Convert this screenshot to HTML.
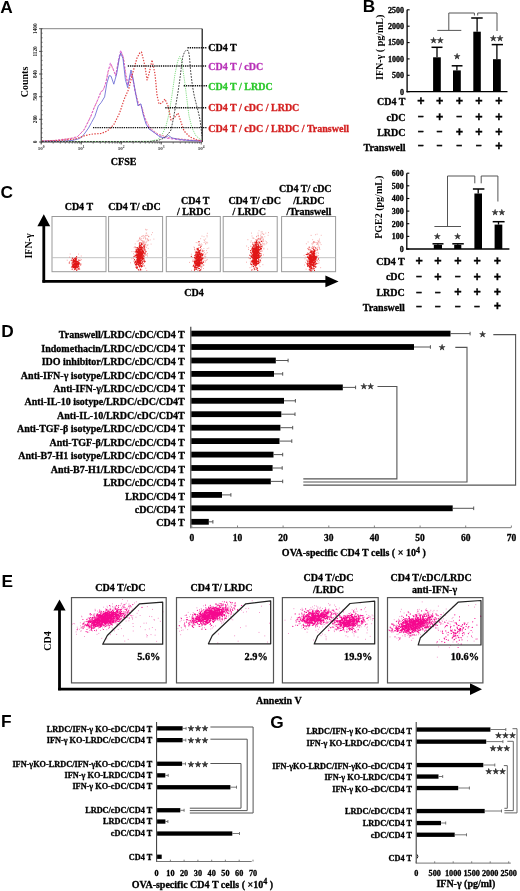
<!DOCTYPE html>
<html><head><meta charset="utf-8"><title>Figure</title>
<style>html,body{margin:0;padding:0;background:#fff;width:520px;height:891px;overflow:hidden}svg{display:block}</style>
</head><body><svg width="520" height="891" viewBox="0 0 520 891"><rect width="520" height="891" fill="#fff"/><text x="0.3" y="12.7" font-size="17.3" text-anchor="start" fill="#000" style="font-family:'Liberation Sans',sans-serif;font-weight:bold" >A</text>
<text x="362.8" y="12.4" font-size="17.3" text-anchor="start" fill="#000" style="font-family:'Liberation Sans',sans-serif;font-weight:bold" >B</text>
<text x="0.6" y="197.9" font-size="17.3" text-anchor="start" fill="#000" style="font-family:'Liberation Sans',sans-serif;font-weight:bold" >C</text>
<text x="1.2" y="337.4" font-size="17.3" text-anchor="start" fill="#000" style="font-family:'Liberation Sans',sans-serif;font-weight:bold" >D</text>
<text x="1.4" y="586.8" font-size="17.3" text-anchor="start" fill="#000" style="font-family:'Liberation Sans',sans-serif;font-weight:bold" >E</text>
<text x="1" y="727.2" font-size="17.3" text-anchor="start" fill="#000" style="font-family:'Liberation Sans',sans-serif;font-weight:bold" >F</text>
<text x="270.2" y="727.8" font-size="17.3" text-anchor="start" fill="#000" style="font-family:'Liberation Sans',sans-serif;font-weight:bold" >G</text>
<line x1="41.2" y1="28.7" x2="202.2" y2="28.7" stroke="#666" stroke-width="0.8" />
<line x1="202.2" y1="28.7" x2="202.2" y2="142" stroke="#111" stroke-width="1.2" />
<line x1="41.2" y1="28.7" x2="41.2" y2="142" stroke="#222" stroke-width="1" />
<line x1="41.2" y1="142" x2="202.2" y2="142" stroke="#333" stroke-width="1" />
<line x1="39" y1="142" x2="41.2" y2="142" stroke="#333" stroke-width="0.8" />
<text transform="translate(37.2,142) rotate(-90)" font-size="5.2" text-anchor="middle" fill="#222" style="font-family:'Liberation Serif',serif;font-weight:bold">0</text>
<line x1="39" y1="119.3" x2="41.2" y2="119.3" stroke="#333" stroke-width="0.8" />
<text transform="translate(37.2,119.3) rotate(-90)" font-size="5.2" text-anchor="middle" fill="#222" style="font-family:'Liberation Serif',serif;font-weight:bold">280</text>
<line x1="39" y1="96.7" x2="41.2" y2="96.7" stroke="#333" stroke-width="0.8" />
<text transform="translate(37.2,96.7) rotate(-90)" font-size="5.2" text-anchor="middle" fill="#222" style="font-family:'Liberation Serif',serif;font-weight:bold">560</text>
<line x1="39" y1="74" x2="41.2" y2="74" stroke="#333" stroke-width="0.8" />
<text transform="translate(37.2,74) rotate(-90)" font-size="5.2" text-anchor="middle" fill="#222" style="font-family:'Liberation Serif',serif;font-weight:bold">840</text>
<line x1="39" y1="51.4" x2="41.2" y2="51.4" stroke="#333" stroke-width="0.8" />
<text transform="translate(37.2,51.4) rotate(-90)" font-size="5.2" text-anchor="middle" fill="#222" style="font-family:'Liberation Serif',serif;font-weight:bold">1120</text>
<line x1="39" y1="28.7" x2="41.2" y2="28.7" stroke="#333" stroke-width="0.8" />
<text transform="translate(37.2,28.7) rotate(-90)" font-size="5.2" text-anchor="middle" fill="#222" style="font-family:'Liberation Serif',serif;font-weight:bold">1400</text>
<line x1="41.2" y1="142" x2="42.5" y2="142" stroke="#444" stroke-width="0.8" />
<line x1="41.2" y1="137.5" x2="42.5" y2="137.5" stroke="#444" stroke-width="0.8" />
<line x1="41.2" y1="132.9" x2="42.5" y2="132.9" stroke="#444" stroke-width="0.8" />
<line x1="41.2" y1="128.4" x2="42.5" y2="128.4" stroke="#444" stroke-width="0.8" />
<line x1="41.2" y1="123.9" x2="42.5" y2="123.9" stroke="#444" stroke-width="0.8" />
<line x1="41.2" y1="119.3" x2="42.5" y2="119.3" stroke="#444" stroke-width="0.8" />
<line x1="41.2" y1="114.8" x2="42.5" y2="114.8" stroke="#444" stroke-width="0.8" />
<line x1="41.2" y1="110.3" x2="42.5" y2="110.3" stroke="#444" stroke-width="0.8" />
<line x1="41.2" y1="105.7" x2="42.5" y2="105.7" stroke="#444" stroke-width="0.8" />
<line x1="41.2" y1="101.2" x2="42.5" y2="101.2" stroke="#444" stroke-width="0.8" />
<line x1="41.2" y1="96.7" x2="42.5" y2="96.7" stroke="#444" stroke-width="0.8" />
<line x1="41.2" y1="92.1" x2="42.5" y2="92.1" stroke="#444" stroke-width="0.8" />
<line x1="41.2" y1="87.6" x2="42.5" y2="87.6" stroke="#444" stroke-width="0.8" />
<line x1="41.2" y1="83.1" x2="42.5" y2="83.1" stroke="#444" stroke-width="0.8" />
<line x1="41.2" y1="78.6" x2="42.5" y2="78.6" stroke="#444" stroke-width="0.8" />
<line x1="41.2" y1="74" x2="42.5" y2="74" stroke="#444" stroke-width="0.8" />
<line x1="41.2" y1="69.5" x2="42.5" y2="69.5" stroke="#444" stroke-width="0.8" />
<line x1="41.2" y1="65" x2="42.5" y2="65" stroke="#444" stroke-width="0.8" />
<line x1="41.2" y1="60.4" x2="42.5" y2="60.4" stroke="#444" stroke-width="0.8" />
<line x1="41.2" y1="55.9" x2="42.5" y2="55.9" stroke="#444" stroke-width="0.8" />
<line x1="41.2" y1="51.4" x2="42.5" y2="51.4" stroke="#444" stroke-width="0.8" />
<line x1="41.2" y1="46.8" x2="42.5" y2="46.8" stroke="#444" stroke-width="0.8" />
<line x1="41.2" y1="42.3" x2="42.5" y2="42.3" stroke="#444" stroke-width="0.8" />
<line x1="41.2" y1="37.8" x2="42.5" y2="37.8" stroke="#444" stroke-width="0.8" />
<line x1="41.2" y1="33.2" x2="42.5" y2="33.2" stroke="#444" stroke-width="0.8" />
<line x1="41.2" y1="28.7" x2="42.5" y2="28.7" stroke="#444" stroke-width="0.8" />
<line x1="41.2" y1="142" x2="41.2" y2="143.6" stroke="#444" stroke-width="0.7" />
<line x1="53.2" y1="142" x2="53.2" y2="143.6" stroke="#444" stroke-width="0.7" />
<line x1="60.3" y1="142" x2="60.3" y2="143.6" stroke="#444" stroke-width="0.7" />
<line x1="65.3" y1="142" x2="65.3" y2="143.6" stroke="#444" stroke-width="0.7" />
<line x1="69.2" y1="142" x2="69.2" y2="143.6" stroke="#444" stroke-width="0.7" />
<line x1="72.3" y1="142" x2="72.3" y2="143.6" stroke="#444" stroke-width="0.7" />
<line x1="75" y1="142" x2="75" y2="143.6" stroke="#444" stroke-width="0.7" />
<line x1="77.3" y1="142" x2="77.3" y2="143.6" stroke="#444" stroke-width="0.7" />
<line x1="79.4" y1="142" x2="79.4" y2="143.6" stroke="#444" stroke-width="0.7" />
<line x1="81.2" y1="142" x2="81.2" y2="143.6" stroke="#444" stroke-width="0.7" />
<line x1="93.2" y1="142" x2="93.2" y2="143.6" stroke="#444" stroke-width="0.7" />
<line x1="100.3" y1="142" x2="100.3" y2="143.6" stroke="#444" stroke-width="0.7" />
<line x1="105.3" y1="142" x2="105.3" y2="143.6" stroke="#444" stroke-width="0.7" />
<line x1="109.2" y1="142" x2="109.2" y2="143.6" stroke="#444" stroke-width="0.7" />
<line x1="112.3" y1="142" x2="112.3" y2="143.6" stroke="#444" stroke-width="0.7" />
<line x1="115" y1="142" x2="115" y2="143.6" stroke="#444" stroke-width="0.7" />
<line x1="117.3" y1="142" x2="117.3" y2="143.6" stroke="#444" stroke-width="0.7" />
<line x1="119.4" y1="142" x2="119.4" y2="143.6" stroke="#444" stroke-width="0.7" />
<line x1="121.2" y1="142" x2="121.2" y2="143.6" stroke="#444" stroke-width="0.7" />
<line x1="133.2" y1="142" x2="133.2" y2="143.6" stroke="#444" stroke-width="0.7" />
<line x1="140.3" y1="142" x2="140.3" y2="143.6" stroke="#444" stroke-width="0.7" />
<line x1="145.3" y1="142" x2="145.3" y2="143.6" stroke="#444" stroke-width="0.7" />
<line x1="149.2" y1="142" x2="149.2" y2="143.6" stroke="#444" stroke-width="0.7" />
<line x1="152.3" y1="142" x2="152.3" y2="143.6" stroke="#444" stroke-width="0.7" />
<line x1="155" y1="142" x2="155" y2="143.6" stroke="#444" stroke-width="0.7" />
<line x1="157.3" y1="142" x2="157.3" y2="143.6" stroke="#444" stroke-width="0.7" />
<line x1="159.4" y1="142" x2="159.4" y2="143.6" stroke="#444" stroke-width="0.7" />
<line x1="161.2" y1="142" x2="161.2" y2="143.6" stroke="#444" stroke-width="0.7" />
<line x1="173.2" y1="142" x2="173.2" y2="143.6" stroke="#444" stroke-width="0.7" />
<line x1="180.3" y1="142" x2="180.3" y2="143.6" stroke="#444" stroke-width="0.7" />
<line x1="185.3" y1="142" x2="185.3" y2="143.6" stroke="#444" stroke-width="0.7" />
<line x1="189.2" y1="142" x2="189.2" y2="143.6" stroke="#444" stroke-width="0.7" />
<line x1="192.3" y1="142" x2="192.3" y2="143.6" stroke="#444" stroke-width="0.7" />
<line x1="195" y1="142" x2="195" y2="143.6" stroke="#444" stroke-width="0.7" />
<line x1="197.3" y1="142" x2="197.3" y2="143.6" stroke="#444" stroke-width="0.7" />
<line x1="199.4" y1="142" x2="199.4" y2="143.6" stroke="#444" stroke-width="0.7" />
<line x1="41.2" y1="142" x2="41.2" y2="144.5" stroke="#333" stroke-width="0.8" />
<text x="41.2" y="150.4" font-size="5" text-anchor="middle" fill="#333" style="font-family:'Liberation Serif',serif;font-weight:bold">10<tspan font-size="3.6" dy="-2">0</tspan></text>
<line x1="81.2" y1="142" x2="81.2" y2="144.5" stroke="#333" stroke-width="0.8" />
<text x="81.2" y="150.4" font-size="5" text-anchor="middle" fill="#333" style="font-family:'Liberation Serif',serif;font-weight:bold">10<tspan font-size="3.6" dy="-2">1</tspan></text>
<line x1="121.2" y1="142" x2="121.2" y2="144.5" stroke="#333" stroke-width="0.8" />
<text x="121.2" y="150.4" font-size="5" text-anchor="middle" fill="#333" style="font-family:'Liberation Serif',serif;font-weight:bold">10<tspan font-size="3.6" dy="-2">2</tspan></text>
<line x1="161.2" y1="142" x2="161.2" y2="144.5" stroke="#333" stroke-width="0.8" />
<text x="161.2" y="150.4" font-size="5" text-anchor="middle" fill="#333" style="font-family:'Liberation Serif',serif;font-weight:bold">10<tspan font-size="3.6" dy="-2">3</tspan></text>
<line x1="201.2" y1="142" x2="201.2" y2="144.5" stroke="#333" stroke-width="0.8" />
<text x="201.2" y="150.4" font-size="5" text-anchor="middle" fill="#333" style="font-family:'Liberation Serif',serif;font-weight:bold">10<tspan font-size="3.6" dy="-2">4</tspan></text>
<text x="123.6" y="164.5" font-size="10" text-anchor="middle" fill="#000" style="font-family:'Liberation Serif',serif;font-weight:bold"  stroke="#000" stroke-width="0.3">CFSE</text>
<text transform="translate(28.3,82) rotate(-90)" font-size="10" text-anchor="middle" style="font-family:'Liberation Serif',serif;font-weight:bold">Counts</text>
<path d="M42 141.5 L120 141.5 L150 141.3 L158 139.5 L163 133 L166 126 L169 114 L172 95 L175 74 L177.5 62 L179.6 56.5 L181.5 60 L183 70 L185 84 L187 100 L189 116 L192 128 L196 136 L202 140.5" stroke="#86e086" stroke-width="1.0" fill="none" stroke-dasharray="1.2 1.0" stroke-linejoin="round"/>
<path d="M42 141.2 L55 140.3 L65 139 L72 138 L77.5 136.5 L81 133 L84.5 129 L88 122 L91.5 114.5 L94.5 107 L97.5 100.5 L101.5 91 L104 88.5 L106.5 80 L108.7 70 L111 64.5 L113.8 71 L116 75 L119 59 L121.3 52 L123.6 58 L126 75 L128.3 84 L131.5 75 L133.5 82 L136 94 L139 105 L142 107 L145 118 L150 128 L158 134 L170 138 L202 141" stroke="#ec7a90" stroke-width="0.9" fill="none" stroke-dasharray="2 1.2" stroke-linejoin="round"/>
<path d="M42 141.2 L55 140.5 L65 139.5 L72 138.5 L76.9 137.3 L80 134 L83.8 130.4 L87 124 L90.8 116.5 L93.5 109 L96.5 102.7 L100.6 92.3 L103.4 90 L105.8 83 L108 71.5 L110.4 62.9 L113.3 69.2 L115.6 76.1 L118.4 60 L120.7 50.2 L123 56.5 L125.4 73.8 L127.7 85.4 L131 73 L133 80 L135 92 L138 104 L141 105 L143 113 L146 122 L150 129 L156 134 L165 138 L180 140 L202 141" stroke="#d75cd7" stroke-width="0.9" fill="none" stroke-dasharray="2.5 1.5" stroke-linejoin="round"/>
<path d="M42 141.2 L60 141.2 L72 140.5 L78 139 L81.5 137.3 L85 133 L88.5 128 L91.5 122.5 L94.8 116.5 L98.3 106 L101.1 102.7 L104.6 96.9 L106.9 83 L109.2 75.6 L111 76.1 L113.8 84.2 L116.7 73.8 L119.6 56.5 L120.7 53 L123 58.8 L125.4 79.6 L127.7 87.7 L129.5 77 L131 70 L133 78 L135 90 L138 106 L140 104 L141 104 L143 114 L146 124 L149 129 L155 133 L160 137 L164.8 137.8 L168.5 135.5 L172 138 L180 139.5 L190 140.5 L202 141" stroke="#6060d0" stroke-width="0.8" fill="none" stroke-linejoin="round"/>
<path d="M42 141.2 L60 140.5 L75 139 L80 137.5 L85 135.5 L93 134 L101 133.5 L105 132 L108 130.4 L113.8 124.6 L119.6 113 L124.2 99.2 L128.8 88.8 L133 72 L137 58 L140 52.5 L141.5 52 L145 66 L147 80 L149 74 L152 60 L155 74 L157 95 L159 104 L162 103 L165 99 L168 106 L171 120 L174 118 L178 113 L181 122 L184 131 L190 137 L196 139.5 L202 141" stroke="#e04040" stroke-width="1.2" fill="none" stroke-dasharray="1.4 1.4" stroke-linejoin="round"/>
<path d="M42 141.5 L150 141.5 L158 140.5 L163 138.5 L166 136 L169 133 L171 130 L173.5 118 L176 104 L178 92 L179.5 82 L181 70 L182.7 57 L184.5 52 L186.5 49.8 L188.5 51 L189.5 57 L190.7 72 L192.6 87 L194.4 96.7 L196.9 106.6 L198.8 114 L200 120 L201.2 129 L202 136" stroke="#333" stroke-width="0.9" fill="none" stroke-dasharray="1.8 1.2" stroke-linejoin="round"/>
<line x1="187.5" y1="47.8" x2="207" y2="47.8" stroke="#111" stroke-width="1.4" stroke-dasharray="1.3 0.9"/>
<line x1="127.8" y1="66" x2="207" y2="66" stroke="#111" stroke-width="1.4" stroke-dasharray="1.3 0.9"/>
<line x1="183.7" y1="85.8" x2="207" y2="85.8" stroke="#111" stroke-width="1.4" stroke-dasharray="1.3 0.9"/>
<line x1="165.3" y1="107.8" x2="207" y2="107.8" stroke="#111" stroke-width="1.4" stroke-dasharray="1.3 0.9"/>
<line x1="93" y1="127.6" x2="207" y2="127.6" stroke="#111" stroke-width="1.4" stroke-dasharray="1.3 0.9"/>
<text x="208.3" y="51.4" font-size="10" text-anchor="start" fill="#000" style="font-family:'Liberation Serif',serif;font-weight:bold"  stroke="#000" stroke-width="0.3">CD4 T</text>
<text x="208.3" y="69.6" font-size="10" text-anchor="start" fill="#b832b8" style="font-family:'Liberation Serif',serif;font-weight:bold"  stroke="#b832b8" stroke-width="0.3">CD4 T / cDC</text>
<text x="208.3" y="89.6" font-size="10" text-anchor="start" fill="#2bc82b" style="font-family:'Liberation Serif',serif;font-weight:bold"  stroke="#2bc82b" stroke-width="0.3">CD4 T / LRDC</text>
<text x="208.3" y="111.1" font-size="10" text-anchor="start" fill="#d42020" style="font-family:'Liberation Serif',serif;font-weight:bold"  stroke="#d42020" stroke-width="0.3">CD4 T / cDC / LRDC</text>
<text x="208.3" y="131.6" font-size="10" text-anchor="start" fill="#d42020" style="font-family:'Liberation Serif',serif;font-weight:bold"  stroke="#d42020" stroke-width="0.3">CD4 T / cDC / LRDC / Transwell</text>
<line x1="407.1" y1="9.8" x2="407.1" y2="92.2" stroke="#000" stroke-width="1.3" />
<line x1="406.5" y1="91.7" x2="507.5" y2="91.7" stroke="#000" stroke-width="1.3" />
<line x1="407.1" y1="91.7" x2="409.6" y2="91.7" stroke="#000" stroke-width="1.1" />
<text x="404.1" y="94.5" font-size="8" text-anchor="end" fill="#000" style="font-family:'Liberation Serif',serif;font-weight:bold"  stroke="#000" stroke-width="0.3">0</text>
<line x1="407.1" y1="75.3" x2="409.6" y2="75.3" stroke="#000" stroke-width="1.1" />
<text x="404.1" y="78.1" font-size="8" text-anchor="end" fill="#000" style="font-family:'Liberation Serif',serif;font-weight:bold"  stroke="#000" stroke-width="0.3">500</text>
<line x1="407.1" y1="58.9" x2="409.6" y2="58.9" stroke="#000" stroke-width="1.1" />
<text x="404.1" y="61.7" font-size="8" text-anchor="end" fill="#000" style="font-family:'Liberation Serif',serif;font-weight:bold"  stroke="#000" stroke-width="0.3">1000</text>
<line x1="407.1" y1="42.6" x2="409.6" y2="42.6" stroke="#000" stroke-width="1.1" />
<text x="404.1" y="45.4" font-size="8" text-anchor="end" fill="#000" style="font-family:'Liberation Serif',serif;font-weight:bold"  stroke="#000" stroke-width="0.3">1500</text>
<line x1="407.1" y1="26.2" x2="409.6" y2="26.2" stroke="#000" stroke-width="1.1" />
<text x="404.1" y="29" font-size="8" text-anchor="end" fill="#000" style="font-family:'Liberation Serif',serif;font-weight:bold"  stroke="#000" stroke-width="0.3">2000</text>
<line x1="407.1" y1="9.8" x2="409.6" y2="9.8" stroke="#000" stroke-width="1.1" />
<text x="404.1" y="12.6" font-size="8" text-anchor="end" fill="#000" style="font-family:'Liberation Serif',serif;font-weight:bold"  stroke="#000" stroke-width="0.3">2500</text>
<rect x="433.1" y="57.3" width="7.7" height="34.4" fill="#000" />
<line x1="437" y1="57.3" x2="437" y2="47.3" stroke="#000" stroke-width="1.3" />
<line x1="431.5" y1="47.3" x2="442.5" y2="47.3" stroke="#000" stroke-width="1.5" />
<rect x="453" y="70.4" width="7.8" height="21.3" fill="#000" />
<line x1="456.9" y1="70.4" x2="456.9" y2="65.8" stroke="#000" stroke-width="1.3" />
<line x1="451.7" y1="65.8" x2="462.5" y2="65.8" stroke="#000" stroke-width="1.5" />
<rect x="473.3" y="31.7" width="7.5" height="60" fill="#000" />
<line x1="477.1" y1="31.7" x2="477.1" y2="18" stroke="#000" stroke-width="1.3" />
<line x1="471.2" y1="18" x2="482.7" y2="18" stroke="#000" stroke-width="1.5" />
<rect x="493" y="59.2" width="7.8" height="32.5" fill="#000" />
<line x1="496.9" y1="59.2" x2="496.9" y2="44.6" stroke="#000" stroke-width="1.3" />
<line x1="491.7" y1="44.6" x2="503" y2="44.6" stroke="#000" stroke-width="1.5" />
<text x="433.6" y="42.7" font-size="8.0" text-anchor="middle" fill="#383838" stroke="#383838" stroke-width="0.45" stroke-linejoin="round" style="font-family:'DejaVu Sans',sans-serif">★</text>
<text x="440.4" y="42.7" font-size="8.0" text-anchor="middle" fill="#383838" stroke="#383838" stroke-width="0.45" stroke-linejoin="round" style="font-family:'DejaVu Sans',sans-serif">★</text>
<text x="457" y="58.9" font-size="8.0" text-anchor="middle" fill="#383838" stroke="#383838" stroke-width="0.45" stroke-linejoin="round" style="font-family:'DejaVu Sans',sans-serif">★</text>
<text x="493.4" y="41.4" font-size="8.0" text-anchor="middle" fill="#383838" stroke="#383838" stroke-width="0.45" stroke-linejoin="round" style="font-family:'DejaVu Sans',sans-serif">★</text>
<text x="500.2" y="41.4" font-size="8.0" text-anchor="middle" fill="#383838" stroke="#383838" stroke-width="0.45" stroke-linejoin="round" style="font-family:'DejaVu Sans',sans-serif">★</text>
<path d="M437.3 30.4H461.3M448.8 30.4V13H474.4V15.5" stroke="#555" stroke-width="1.0" fill="none" />
<path d="M477.7 15.5V13H497V31" stroke="#555" stroke-width="1.0" fill="none" />
<text transform="translate(383.3,47.3) rotate(-90)" font-size="10" text-anchor="middle" style="font-family:'Liberation Serif',serif;font-weight:bold">IFN-γ ( pg/mL)</text>
<text x="405.5" y="105.2" font-size="10" text-anchor="end" fill="#000" style="font-family:'Liberation Serif',serif;font-weight:bold"  stroke="#000" stroke-width="0.3">CD4 T</text>
<text x="421" y="105" font-size="12.5" text-anchor="middle" fill="#000" style="font-family:'Liberation Sans',sans-serif;font-weight:bold" stroke="#000" stroke-width="0.35">+</text>
<text x="439.6" y="105" font-size="12.5" text-anchor="middle" fill="#000" style="font-family:'Liberation Sans',sans-serif;font-weight:bold" stroke="#000" stroke-width="0.35">+</text>
<text x="459.4" y="105" font-size="12.5" text-anchor="middle" fill="#000" style="font-family:'Liberation Sans',sans-serif;font-weight:bold" stroke="#000" stroke-width="0.35">+</text>
<text x="479" y="105" font-size="12.5" text-anchor="middle" fill="#000" style="font-family:'Liberation Sans',sans-serif;font-weight:bold" stroke="#000" stroke-width="0.35">+</text>
<text x="498.8" y="105" font-size="12.5" text-anchor="middle" fill="#000" style="font-family:'Liberation Sans',sans-serif;font-weight:bold" stroke="#000" stroke-width="0.35">+</text>
<text x="405.5" y="120.5" font-size="10" text-anchor="end" fill="#000" style="font-family:'Liberation Serif',serif;font-weight:bold"  stroke="#000" stroke-width="0.3">cDC</text>
<text x="421" y="120.2" font-size="10" text-anchor="middle" fill="#000" style="font-family:'Liberation Sans',sans-serif;font-weight:bold" stroke="#000" stroke-width="0.45">−</text>
<text x="439.6" y="120.7" font-size="12.5" text-anchor="middle" fill="#000" style="font-family:'Liberation Sans',sans-serif;font-weight:bold" stroke="#000" stroke-width="0.35">+</text>
<text x="459.4" y="120.2" font-size="10" text-anchor="middle" fill="#000" style="font-family:'Liberation Sans',sans-serif;font-weight:bold" stroke="#000" stroke-width="0.45">−</text>
<text x="479" y="120.7" font-size="12.5" text-anchor="middle" fill="#000" style="font-family:'Liberation Sans',sans-serif;font-weight:bold" stroke="#000" stroke-width="0.35">+</text>
<text x="498.8" y="120.7" font-size="12.5" text-anchor="middle" fill="#000" style="font-family:'Liberation Sans',sans-serif;font-weight:bold" stroke="#000" stroke-width="0.35">+</text>
<text x="405.5" y="136" font-size="10" text-anchor="end" fill="#000" style="font-family:'Liberation Serif',serif;font-weight:bold"  stroke="#000" stroke-width="0.3">LRDC</text>
<text x="421" y="135.2" font-size="10" text-anchor="middle" fill="#000" style="font-family:'Liberation Sans',sans-serif;font-weight:bold" stroke="#000" stroke-width="0.45">−</text>
<text x="439.6" y="135.2" font-size="10" text-anchor="middle" fill="#000" style="font-family:'Liberation Sans',sans-serif;font-weight:bold" stroke="#000" stroke-width="0.45">−</text>
<text x="459.4" y="135.7" font-size="12.5" text-anchor="middle" fill="#000" style="font-family:'Liberation Sans',sans-serif;font-weight:bold" stroke="#000" stroke-width="0.35">+</text>
<text x="479" y="135.7" font-size="12.5" text-anchor="middle" fill="#000" style="font-family:'Liberation Sans',sans-serif;font-weight:bold" stroke="#000" stroke-width="0.35">+</text>
<text x="498.8" y="135.7" font-size="12.5" text-anchor="middle" fill="#000" style="font-family:'Liberation Sans',sans-serif;font-weight:bold" stroke="#000" stroke-width="0.35">+</text>
<text x="405.5" y="150.5" font-size="10" text-anchor="end" fill="#000" style="font-family:'Liberation Serif',serif;font-weight:bold"  stroke="#000" stroke-width="0.3">Transwell</text>
<text x="421" y="149.3" font-size="10" text-anchor="middle" fill="#000" style="font-family:'Liberation Sans',sans-serif;font-weight:bold" stroke="#000" stroke-width="0.45">−</text>
<text x="439.6" y="149.3" font-size="10" text-anchor="middle" fill="#000" style="font-family:'Liberation Sans',sans-serif;font-weight:bold" stroke="#000" stroke-width="0.45">−</text>
<text x="459.4" y="149.3" font-size="10" text-anchor="middle" fill="#000" style="font-family:'Liberation Sans',sans-serif;font-weight:bold" stroke="#000" stroke-width="0.45">−</text>
<text x="479" y="149.3" font-size="10" text-anchor="middle" fill="#000" style="font-family:'Liberation Sans',sans-serif;font-weight:bold" stroke="#000" stroke-width="0.45">−</text>
<text x="498.8" y="149.8" font-size="12.5" text-anchor="middle" fill="#000" style="font-family:'Liberation Sans',sans-serif;font-weight:bold" stroke="#000" stroke-width="0.35">+</text>
<line x1="406.8" y1="173.2" x2="406.8" y2="249.5" stroke="#000" stroke-width="1.3" />
<line x1="406.2" y1="249" x2="509.4" y2="249" stroke="#000" stroke-width="1.3" />
<line x1="406.8" y1="249" x2="409.3" y2="249" stroke="#000" stroke-width="1.1" />
<text x="403.8" y="251.8" font-size="8" text-anchor="end" fill="#000" style="font-family:'Liberation Serif',serif;font-weight:bold"  stroke="#000" stroke-width="0.3">0</text>
<line x1="406.8" y1="236.4" x2="409.3" y2="236.4" stroke="#000" stroke-width="1.1" />
<text x="403.8" y="239.2" font-size="8" text-anchor="end" fill="#000" style="font-family:'Liberation Serif',serif;font-weight:bold"  stroke="#000" stroke-width="0.3">100</text>
<line x1="406.8" y1="223.7" x2="409.3" y2="223.7" stroke="#000" stroke-width="1.1" />
<text x="403.8" y="226.5" font-size="8" text-anchor="end" fill="#000" style="font-family:'Liberation Serif',serif;font-weight:bold"  stroke="#000" stroke-width="0.3">200</text>
<line x1="406.8" y1="211.1" x2="409.3" y2="211.1" stroke="#000" stroke-width="1.1" />
<text x="403.8" y="213.9" font-size="8" text-anchor="end" fill="#000" style="font-family:'Liberation Serif',serif;font-weight:bold"  stroke="#000" stroke-width="0.3">300</text>
<line x1="406.8" y1="198.5" x2="409.3" y2="198.5" stroke="#000" stroke-width="1.1" />
<text x="403.8" y="201.3" font-size="8" text-anchor="end" fill="#000" style="font-family:'Liberation Serif',serif;font-weight:bold"  stroke="#000" stroke-width="0.3">400</text>
<line x1="406.8" y1="185.8" x2="409.3" y2="185.8" stroke="#000" stroke-width="1.1" />
<text x="403.8" y="188.6" font-size="8" text-anchor="end" fill="#000" style="font-family:'Liberation Serif',serif;font-weight:bold"  stroke="#000" stroke-width="0.3">500</text>
<line x1="406.8" y1="173.2" x2="409.3" y2="173.2" stroke="#000" stroke-width="1.1" />
<text x="403.8" y="176" font-size="8" text-anchor="end" fill="#000" style="font-family:'Liberation Serif',serif;font-weight:bold"  stroke="#000" stroke-width="0.3">600</text>
<rect x="433.8" y="244.8" width="8.2" height="4.2" fill="#000" />
<line x1="437.9" y1="244.8" x2="437.9" y2="243.8" stroke="#000" stroke-width="1.3" />
<line x1="432.5" y1="243.8" x2="443.5" y2="243.8" stroke="#000" stroke-width="1.5" />
<rect x="454.2" y="244.8" width="7.1" height="4.2" fill="#000" />
<line x1="457.8" y1="244.8" x2="457.8" y2="243.8" stroke="#000" stroke-width="1.3" />
<line x1="452.3" y1="243.8" x2="463.8" y2="243.8" stroke="#000" stroke-width="1.5" />
<rect x="474.4" y="193.5" width="7.6" height="55.5" fill="#000" />
<line x1="478.2" y1="193.5" x2="478.2" y2="189" stroke="#000" stroke-width="1.3" />
<line x1="472.9" y1="189" x2="484.4" y2="189" stroke="#000" stroke-width="1.5" />
<rect x="494.6" y="224.6" width="7.7" height="24.4" fill="#000" />
<line x1="498.5" y1="224.6" x2="498.5" y2="221.7" stroke="#000" stroke-width="1.3" />
<line x1="492.7" y1="221.7" x2="504.6" y2="221.7" stroke="#000" stroke-width="1.5" />
<text x="437.3" y="238.7" font-size="8.0" text-anchor="middle" fill="#383838" stroke="#383838" stroke-width="0.45" stroke-linejoin="round" style="font-family:'DejaVu Sans',sans-serif">★</text>
<text x="457.5" y="238.7" font-size="8.0" text-anchor="middle" fill="#383838" stroke="#383838" stroke-width="0.45" stroke-linejoin="round" style="font-family:'DejaVu Sans',sans-serif">★</text>
<text x="495.1" y="214.9" font-size="8.0" text-anchor="middle" fill="#383838" stroke="#383838" stroke-width="0.45" stroke-linejoin="round" style="font-family:'DejaVu Sans',sans-serif">★</text>
<text x="501.9" y="214.9" font-size="8.0" text-anchor="middle" fill="#383838" stroke="#383838" stroke-width="0.45" stroke-linejoin="round" style="font-family:'DejaVu Sans',sans-serif">★</text>
<path d="M434.4 226.5H461M447.5 226.5V176H474.8V183.3" stroke="#555" stroke-width="1.0" fill="none" />
<path d="M481.2 183.3V176H497.9V201.5" stroke="#555" stroke-width="1.0" fill="none" />
<text transform="translate(382.3,207.3) rotate(-90)" font-size="10" text-anchor="middle" style="font-family:'Liberation Serif',serif;font-weight:bold">PGE2 (pg/mL)</text>
<text x="404.8" y="264.5" font-size="10" text-anchor="end" fill="#000" style="font-family:'Liberation Serif',serif;font-weight:bold"  stroke="#000" stroke-width="0.3">CD4 T</text>
<text x="419.1" y="265.4" font-size="12.5" text-anchor="middle" fill="#000" style="font-family:'Liberation Sans',sans-serif;font-weight:bold" stroke="#000" stroke-width="0.35">+</text>
<text x="437.9" y="265.4" font-size="12.5" text-anchor="middle" fill="#000" style="font-family:'Liberation Sans',sans-serif;font-weight:bold" stroke="#000" stroke-width="0.35">+</text>
<text x="457.9" y="265.4" font-size="12.5" text-anchor="middle" fill="#000" style="font-family:'Liberation Sans',sans-serif;font-weight:bold" stroke="#000" stroke-width="0.35">+</text>
<text x="477.1" y="265.4" font-size="12.5" text-anchor="middle" fill="#000" style="font-family:'Liberation Sans',sans-serif;font-weight:bold" stroke="#000" stroke-width="0.35">+</text>
<text x="497.3" y="265.4" font-size="12.5" text-anchor="middle" fill="#000" style="font-family:'Liberation Sans',sans-serif;font-weight:bold" stroke="#000" stroke-width="0.35">+</text>
<text x="404.8" y="280.2" font-size="10" text-anchor="end" fill="#000" style="font-family:'Liberation Serif',serif;font-weight:bold"  stroke="#000" stroke-width="0.3">cDC</text>
<text x="419.1" y="280.4" font-size="10" text-anchor="middle" fill="#000" style="font-family:'Liberation Sans',sans-serif;font-weight:bold" stroke="#000" stroke-width="0.45">−</text>
<text x="437.9" y="280.9" font-size="12.5" text-anchor="middle" fill="#000" style="font-family:'Liberation Sans',sans-serif;font-weight:bold" stroke="#000" stroke-width="0.35">+</text>
<text x="457.9" y="280.4" font-size="10" text-anchor="middle" fill="#000" style="font-family:'Liberation Sans',sans-serif;font-weight:bold" stroke="#000" stroke-width="0.45">−</text>
<text x="477.1" y="280.9" font-size="12.5" text-anchor="middle" fill="#000" style="font-family:'Liberation Sans',sans-serif;font-weight:bold" stroke="#000" stroke-width="0.35">+</text>
<text x="497.3" y="280.9" font-size="12.5" text-anchor="middle" fill="#000" style="font-family:'Liberation Sans',sans-serif;font-weight:bold" stroke="#000" stroke-width="0.35">+</text>
<text x="404.8" y="296.2" font-size="10" text-anchor="end" fill="#000" style="font-family:'Liberation Serif',serif;font-weight:bold"  stroke="#000" stroke-width="0.3">LRDC</text>
<text x="419.1" y="295.6" font-size="10" text-anchor="middle" fill="#000" style="font-family:'Liberation Sans',sans-serif;font-weight:bold" stroke="#000" stroke-width="0.45">−</text>
<text x="437.9" y="295.6" font-size="10" text-anchor="middle" fill="#000" style="font-family:'Liberation Sans',sans-serif;font-weight:bold" stroke="#000" stroke-width="0.45">−</text>
<text x="457.9" y="296.1" font-size="12.5" text-anchor="middle" fill="#000" style="font-family:'Liberation Sans',sans-serif;font-weight:bold" stroke="#000" stroke-width="0.35">+</text>
<text x="477.1" y="296.1" font-size="12.5" text-anchor="middle" fill="#000" style="font-family:'Liberation Sans',sans-serif;font-weight:bold" stroke="#000" stroke-width="0.35">+</text>
<text x="497.3" y="296.1" font-size="12.5" text-anchor="middle" fill="#000" style="font-family:'Liberation Sans',sans-serif;font-weight:bold" stroke="#000" stroke-width="0.35">+</text>
<text x="404.8" y="311" font-size="10" text-anchor="end" fill="#000" style="font-family:'Liberation Serif',serif;font-weight:bold"  stroke="#000" stroke-width="0.3">Transwell</text>
<text x="419.1" y="309.9" font-size="10" text-anchor="middle" fill="#000" style="font-family:'Liberation Sans',sans-serif;font-weight:bold" stroke="#000" stroke-width="0.45">−</text>
<text x="437.9" y="309.9" font-size="10" text-anchor="middle" fill="#000" style="font-family:'Liberation Sans',sans-serif;font-weight:bold" stroke="#000" stroke-width="0.45">−</text>
<text x="457.9" y="309.9" font-size="10" text-anchor="middle" fill="#000" style="font-family:'Liberation Sans',sans-serif;font-weight:bold" stroke="#000" stroke-width="0.45">−</text>
<text x="477.1" y="309.9" font-size="10" text-anchor="middle" fill="#000" style="font-family:'Liberation Sans',sans-serif;font-weight:bold" stroke="#000" stroke-width="0.45">−</text>
<text x="497.3" y="310.4" font-size="12.5" text-anchor="middle" fill="#000" style="font-family:'Liberation Sans',sans-serif;font-weight:bold" stroke="#000" stroke-width="0.35">+</text>
<line x1="43.8" y1="282.6" x2="43.8" y2="224" stroke="#000" stroke-width="2.8" />
<path d="M43.8 214.2L37.4 226.2L50.2 226.2Z" stroke="none" stroke-width="0" fill="#000" />
<line x1="42.4" y1="281.4" x2="326" y2="281.4" stroke="#000" stroke-width="2.8" />
<path d="M338.6 281.4L325.4 275.6L325.4 287.2Z" stroke="none" stroke-width="0" fill="#000" />
<text transform="translate(32.2,246) rotate(-90)" font-size="10" text-anchor="middle" style="font-family:'Liberation Serif',serif;font-weight:bold">IFN-γ</text>
<text x="194" y="296" font-size="10" text-anchor="middle" fill="#000" style="font-family:'Liberation Serif',serif;font-weight:bold"  stroke="#000" stroke-width="0.3">CD4</text>
<rect x="52" y="216.5" width="54" height="55.2" fill="none" stroke="#999" stroke-width="1"/>
<line x1="52" y1="257.7" x2="106" y2="257.7" stroke="#bbb" stroke-width="0.9" />
<text x="78.9" y="210.1" font-size="10" text-anchor="middle" fill="#000" style="font-family:'Liberation Serif',serif;font-weight:bold"  stroke="#000" stroke-width="0.3">CD4 T</text>
<rect x="108.6" y="216.5" width="54" height="55.2" fill="none" stroke="#999" stroke-width="1"/>
<line x1="108.6" y1="257.7" x2="162.6" y2="257.7" stroke="#bbb" stroke-width="0.9" />
<text x="134.5" y="210.1" font-size="10" text-anchor="middle" fill="#000" style="font-family:'Liberation Serif',serif;font-weight:bold"  stroke="#000" stroke-width="0.3">CD4 T/ cDC</text>
<rect x="166.3" y="216.5" width="54" height="55.2" fill="none" stroke="#999" stroke-width="1"/>
<line x1="166.3" y1="257.7" x2="220.3" y2="257.7" stroke="#bbb" stroke-width="0.9" />
<text x="195.2" y="203.8" font-size="10" text-anchor="middle" fill="#000" style="font-family:'Liberation Serif',serif;font-weight:bold"  stroke="#000" stroke-width="0.3">CD4 T</text>
<text x="193.9" y="214.5" font-size="10" text-anchor="middle" fill="#000" style="font-family:'Liberation Serif',serif;font-weight:bold"  stroke="#000" stroke-width="0.3">/ LRDC</text>
<rect x="223.2" y="216.5" width="54" height="55.2" fill="none" stroke="#999" stroke-width="1"/>
<line x1="223.2" y1="257.7" x2="277.2" y2="257.7" stroke="#bbb" stroke-width="0.9" />
<text x="254.7" y="203.8" font-size="10" text-anchor="middle" fill="#000" style="font-family:'Liberation Serif',serif;font-weight:bold"  stroke="#000" stroke-width="0.3">CD4 T/ cDC</text>
<text x="249.2" y="214.5" font-size="10" text-anchor="middle" fill="#000" style="font-family:'Liberation Serif',serif;font-weight:bold"  stroke="#000" stroke-width="0.3">/ LRDC</text>
<rect x="281.6" y="216.5" width="54" height="55.2" fill="none" stroke="#999" stroke-width="1"/>
<line x1="281.6" y1="257.7" x2="335.6" y2="257.7" stroke="#bbb" stroke-width="0.9" />
<text x="305.3" y="192" font-size="10" text-anchor="middle" fill="#000" style="font-family:'Liberation Serif',serif;font-weight:bold"  stroke="#000" stroke-width="0.3">CD4 T/ cDC</text>
<text x="308.9" y="203.8" font-size="10" text-anchor="middle" fill="#000" style="font-family:'Liberation Serif',serif;font-weight:bold"  stroke="#000" stroke-width="0.3">/LRDC</text>
<text x="308.8" y="214.5" font-size="10" text-anchor="middle" fill="#000" style="font-family:'Liberation Serif',serif;font-weight:bold"  stroke="#000" stroke-width="0.3">/Transwell</text>
<path d="M76.3 263.8h0M75.3 258.8h0M74.7 258.3h0M76.5 268.1h0M74.5 259.9h0M78.1 264.0h0M76.7 258.6h0M76.2 265.4h0M71.5 260.6h0M69.5 257.1h0M69.7 261.5h0M71.7 263.6h0M76.9 261.7h0M67.2 260.2h0M76.1 263.0h0M70.8 260.5h0M72.8 259.1h0M80.1 259.1h0M76.2 266.2h0M74.2 262.0h0M76.7 262.8h0M71.9 262.8h0M81.2 256.0h0M79.4 263.0h0M74.0 270.9h0M79.0 257.5h0M76.6 264.9h0M75.6 265.4h0M76.1 265.3h0M81.5 259.7h0M77.0 260.6h0M76.8 257.5h0M74.2 261.7h0M79.5 267.3h0M71.5 259.2h0M78.6 254.1h0M74.6 262.1h0M80.8 265.4h0M75.1 261.0h0M75.4 268.9h0M74.8 261.2h0M77.6 262.0h0M75.6 257.8h0M76.3 260.6h0M80.5 265.2h0M76.2 265.3h0M75.1 266.9h0M76.3 265.0h0M71.7 264.0h0M70.2 254.0h0M75.2 258.7h0M73.3 259.9h0M77.0 264.6h0M75.7 261.6h0M78.8 264.7h0" stroke="#f27070" stroke-width="0.90" stroke-linecap="round" fill="none" opacity="0.8"/>
<path d="M73.7 264.3h0M75.9 261.3h0M76.3 261.9h0M77.7 265.1h0M76.0 262.7h0M75.6 258.5h0M73.5 265.6h0M71.5 267.0h0M72.3 266.8h0M74.1 266.8h0M76.1 259.9h0M78.3 268.8h0M75.7 263.7h0M75.5 261.6h0M78.0 262.9h0M75.7 262.1h0M74.5 260.7h0M78.3 264.0h0M77.7 264.5h0M74.4 263.5h0M74.7 264.5h0M75.0 263.6h0M73.0 262.1h0M79.1 262.5h0M73.7 265.5h0M78.6 260.1h0M75.4 262.6h0M72.3 266.7h0M75.8 264.7h0M74.3 265.9h0M74.7 264.1h0M73.6 260.9h0M78.5 263.0h0M76.4 264.4h0M74.9 263.0h0M77.1 263.6h0M75.5 264.6h0M78.2 266.5h0M76.6 262.8h0M73.0 267.3h0M77.7 264.1h0M76.9 266.8h0M77.5 267.3h0M74.9 269.0h0M73.3 267.1h0M76.8 267.1h0M79.6 269.0h0M73.5 259.4h0M77.4 261.5h0M75.8 267.0h0M72.5 258.2h0M76.3 264.6h0M75.3 264.6h0M74.1 260.0h0M75.5 261.6h0M72.5 266.0h0M75.7 265.7h0M73.8 262.5h0M73.8 261.8h0M76.2 262.2h0M76.5 265.5h0M79.9 260.3h0M77.6 264.2h0M75.8 260.2h0M74.9 266.7h0M75.6 264.7h0M75.2 268.0h0M75.8 257.9h0M74.4 258.6h0M69.3 262.9h0M78.5 264.6h0M73.5 261.7h0M78.1 265.0h0M75.9 264.3h0M75.9 266.9h0M76.9 265.1h0M73.7 266.0h0M74.4 267.8h0M73.3 264.1h0M75.8 260.5h0M79.2 268.9h0M74.9 266.8h0M76.6 256.7h0M76.3 264.3h0M76.0 261.3h0M75.3 264.0h0M78.2 265.5h0M75.8 269.1h0M74.7 263.3h0M72.2 269.2h0M77.7 267.3h0M77.1 264.8h0M76.2 263.7h0M75.4 264.7h0M78.8 266.2h0M75.7 262.8h0M74.5 269.3h0M76.8 264.7h0M75.1 261.2h0M75.7 267.1h0M75.0 263.8h0M75.4 264.8h0M72.6 263.8h0M74.1 267.2h0M74.3 266.2h0M78.8 263.6h0M74.6 265.1h0M75.8 261.5h0M76.7 270.5h0M75.3 263.9h0M73.7 265.5h0M73.3 261.2h0M78.4 261.8h0M78.0 269.1h0M76.3 266.2h0M79.7 263.9h0M74.6 260.4h0M75.9 268.9h0M77.7 261.7h0M74.1 263.0h0M76.4 263.9h0M76.2 265.4h0M75.2 264.4h0M76.2 264.2h0M76.8 270.1h0M77.0 264.7h0M72.4 265.7h0M71.9 260.3h0M77.5 266.6h0M75.5 259.4h0M75.1 262.5h0M76.2 262.2h0M73.5 264.3h0M75.4 261.0h0M76.0 261.0h0M78.0 267.7h0M78.0 263.1h0M76.8 264.1h0M75.0 263.5h0M73.2 260.2h0M77.4 263.9h0M76.2 267.5h0M72.3 262.1h0M76.2 265.7h0M75.0 267.6h0M76.2 260.9h0M73.9 266.9h0M76.7 258.8h0M78.5 266.3h0M78.5 263.3h0M75.2 261.1h0M80.9 264.0h0M79.0 262.6h0M76.1 259.5h0M75.0 267.5h0M73.3 267.7h0M76.5 261.4h0M74.8 263.1h0M75.7 262.9h0M74.1 263.6h0M73.7 260.6h0M75.7 267.1h0M72.7 264.5h0M74.5 261.6h0M77.5 262.9h0M78.8 262.2h0M76.6 263.8h0M74.3 266.3h0M75.5 266.3h0" stroke="#e01515" stroke-width="1.20" stroke-linecap="round" fill="none" opacity="1.0"/>
<path d="M140.9 247.1h0M139.7 255.3h0M144.5 248.9h0M141.5 242.5h0M143.5 247.5h0M133.4 253.8h0M145.6 244.5h0M136.7 249.1h0M135.5 257.2h0M137.7 249.4h0M142.9 249.8h0M142.6 248.2h0M137.2 241.2h0M147.4 253.5h0M141.0 254.9h0M140.7 255.4h0M148.2 248.4h0M135.1 247.0h0M134.4 259.8h0M144.0 248.4h0M135.2 251.8h0M147.8 235.3h0M143.0 247.5h0M144.9 247.7h0M140.3 244.0h0M135.2 264.6h0M143.5 252.5h0M138.5 240.9h0M138.6 254.6h0M139.9 254.3h0M135.9 254.0h0M138.8 264.3h0M147.2 254.9h0M137.3 254.2h0M138.5 249.4h0M140.8 247.4h0M142.5 254.5h0M141.2 253.8h0M138.2 247.8h0M139.7 250.9h0M141.0 255.1h0M134.9 254.9h0M135.6 249.9h0M140.8 239.9h0M140.3 256.1h0M139.9 251.9h0M139.5 247.8h0M139.6 250.9h0M141.5 246.3h0M140.9 256.1h0M140.0 251.8h0M143.6 243.2h0M141.6 257.0h0M140.8 257.9h0M137.9 252.8h0M142.1 258.4h0M142.2 244.1h0M141.1 263.7h0M143.7 257.1h0M133.4 261.1h0M141.8 236.6h0M142.8 244.4h0M135.8 249.8h0M145.2 252.9h0M139.6 267.8h0M146.2 255.0h0M140.3 245.8h0M137.1 257.8h0M141.5 256.0h0M144.5 249.9h0M139.3 260.3h0M141.4 263.0h0M141.9 252.9h0M142.3 247.9h0M133.4 258.5h0M139.6 257.2h0M134.0 251.6h0M138.6 248.5h0M131.9 251.6h0M143.1 258.2h0M137.9 254.6h0M145.3 235.4h0M139.2 258.9h0M141.2 267.6h0M144.1 257.8h0M140.5 260.8h0M138.1 254.5h0M141.8 269.6h0M139.5 254.6h0M139.7 264.8h0M138.7 265.6h0M136.6 253.2h0M138.7 260.6h0M145.3 244.6h0M136.4 257.0h0M139.0 243.7h0M143.6 259.0h0M142.4 251.8h0M144.2 253.7h0M145.0 248.9h0M136.7 256.1h0M136.9 259.6h0M141.9 248.4h0M140.7 252.5h0M144.1 250.8h0M137.4 263.6h0M146.8 270.5h0M140.1 256.6h0M146.0 254.8h0M136.3 255.4h0M142.5 249.2h0M135.2 243.9h0M143.3 249.8h0M139.4 256.5h0M142.7 252.9h0M142.7 248.8h0M139.6 247.4h0M144.4 255.3h0M137.6 252.1h0M138.7 260.0h0M135.0 246.8h0M143.8 254.6h0M141.0 270.2h0M139.5 252.2h0M144.2 259.1h0M143.1 251.6h0M145.8 268.2h0M141.6 260.2h0M131.9 258.7h0M139.0 258.0h0M143.0 252.8h0M133.4 256.9h0M137.6 252.3h0M138.1 252.3h0M130.4 262.8h0M140.1 263.1h0M147.5 256.1h0M134.1 247.7h0M136.0 250.8h0M142.1 240.6h0M142.7 244.2h0M141.3 254.3h0" stroke="#f27070" stroke-width="0.90" stroke-linecap="round" fill="none" opacity="0.8"/>
<path d="M143.3 241.2h0M143.7 238.0h0M139.1 240.0h0M145.6 255.2h0M146.6 247.4h0M139.1 249.4h0M144.1 241.6h0M143.0 242.2h0M143.0 241.1h0M141.6 238.7h0M151.1 244.1h0M142.3 244.7h0M148.5 236.5h0M141.6 246.9h0M144.7 243.0h0M150.2 239.9h0M145.4 239.2h0M152.6 232.6h0M143.2 238.3h0M144.8 246.1h0M151.5 234.7h0M147.0 241.2h0M141.0 244.3h0M145.6 229.3h0M146.1 233.2h0M141.4 243.4h0M141.8 251.3h0M146.7 233.1h0M143.7 236.0h0M139.5 243.1h0M146.2 230.1h0M146.4 242.1h0M145.0 243.0h0M145.9 242.9h0M146.9 245.8h0M144.4 244.7h0M140.1 239.5h0M142.9 242.9h0M136.7 249.7h0M146.9 235.3h0M139.5 238.5h0M145.3 237.9h0M145.7 238.5h0M147.2 238.5h0M142.0 247.5h0M153.9 239.1h0M144.4 236.8h0M148.8 236.4h0M142.7 241.3h0M143.1 235.5h0M147.0 229.6h0M140.6 238.1h0M144.9 241.1h0M139.7 237.4h0M145.4 246.0h0M145.7 236.9h0M147.2 239.4h0M142.2 236.2h0M148.0 244.8h0M148.6 240.6h0M148.2 239.6h0M138.5 255.8h0M147.4 240.0h0M143.2 243.7h0M148.7 240.6h0M139.4 238.5h0M143.9 242.6h0M147.4 245.2h0M148.8 236.7h0M142.4 254.8h0M145.9 244.3h0M140.9 252.2h0M141.5 240.4h0M144.0 246.7h0M142.2 243.3h0M143.0 242.4h0M146.1 235.4h0" stroke="#f08888" stroke-width="0.90" stroke-linecap="round" fill="none" opacity="0.8"/>
<path d="M139.0 261.5h0M137.7 255.5h0M141.7 251.6h0M140.6 251.6h0M140.5 269.2h0M144.0 256.4h0M141.1 257.8h0M138.8 265.0h0M136.2 262.1h0M138.6 264.3h0M140.4 253.6h0M139.7 260.9h0M139.4 259.5h0M139.8 245.9h0M141.0 260.8h0M139.9 257.4h0M142.0 254.9h0M138.2 255.8h0M142.9 250.1h0M142.5 254.0h0M136.5 263.2h0M140.2 250.3h0M138.3 261.7h0M142.4 255.1h0M140.0 260.8h0M138.0 258.7h0M139.9 254.2h0M138.5 257.2h0M140.0 254.1h0M138.0 262.6h0M139.5 261.6h0M141.7 260.3h0M144.8 253.3h0M141.5 255.6h0M142.4 266.2h0M136.1 251.5h0M140.5 261.2h0M141.2 256.8h0M140.1 260.5h0M138.8 262.3h0M134.5 259.7h0M136.8 261.7h0M139.7 252.4h0M140.9 252.4h0M138.7 248.7h0M139.2 259.6h0M141.8 256.5h0M141.8 257.4h0M139.0 259.9h0M142.0 255.5h0M139.2 256.1h0M140.3 252.4h0M142.0 255.2h0M141.1 252.9h0M140.1 259.1h0M137.5 267.3h0M139.3 266.3h0M142.0 253.8h0M138.5 259.2h0M139.7 257.3h0M140.1 247.6h0M140.5 245.5h0M140.8 253.3h0M138.2 255.7h0M141.1 249.7h0M136.6 251.1h0M135.9 251.5h0M143.6 251.9h0M141.8 250.1h0M140.4 255.4h0M139.1 259.9h0M143.1 258.4h0M140.5 252.0h0M141.0 255.9h0M141.4 257.0h0M144.5 247.2h0M138.4 261.5h0M139.4 252.8h0M139.9 249.8h0M138.3 269.6h0M142.7 251.6h0M138.0 254.7h0M142.2 253.0h0M137.6 261.4h0M141.6 255.3h0M138.2 248.7h0M139.5 245.3h0M141.6 253.9h0M139.4 266.8h0M142.8 251.4h0M140.7 263.2h0M138.6 251.9h0M140.4 248.7h0M144.2 245.0h0M137.5 255.3h0M139.0 257.8h0M140.3 256.0h0M143.3 246.2h0M140.0 253.3h0M139.7 258.2h0M138.1 253.5h0M141.0 259.0h0M136.9 267.4h0M145.3 250.0h0M138.7 270.0h0M141.1 258.3h0M139.5 254.2h0M139.5 254.1h0M141.4 255.1h0M139.4 250.7h0M140.1 252.4h0M138.6 262.3h0M140.0 259.7h0M140.3 257.4h0M139.5 255.4h0M141.9 251.6h0M142.4 257.5h0M138.3 254.3h0M138.1 257.7h0M137.4 262.7h0M139.4 245.1h0M139.3 246.4h0M138.9 262.5h0M141.8 250.3h0M136.9 266.0h0M140.3 257.1h0M140.3 269.9h0M142.2 258.0h0M140.0 260.3h0M139.0 251.4h0M140.3 252.1h0M139.4 257.5h0M145.0 253.2h0M139.4 256.1h0M139.9 262.5h0M139.1 252.6h0M136.8 251.8h0M140.7 257.4h0M137.7 254.8h0M139.4 259.6h0M138.5 255.6h0M136.5 250.6h0M144.3 246.1h0M138.8 258.0h0M139.3 252.7h0M139.5 257.0h0M140.6 247.3h0M139.8 252.5h0M138.3 258.0h0M140.4 261.8h0M138.0 261.6h0M141.3 263.2h0M142.6 256.6h0M138.7 261.2h0M136.6 257.7h0M138.7 255.0h0M136.5 252.0h0M139.0 261.6h0M141.7 256.8h0M139.7 252.7h0M140.6 255.8h0M139.8 266.2h0M140.5 249.3h0M138.7 249.3h0M136.3 263.4h0M141.0 249.2h0M140.2 263.7h0M139.3 253.4h0M138.7 258.4h0M140.2 263.3h0M141.4 263.4h0M142.0 260.8h0M136.5 255.9h0M140.5 255.1h0M141.7 255.4h0M136.8 264.2h0M140.9 258.3h0M140.9 262.7h0M141.8 244.4h0M138.5 254.5h0M137.4 257.8h0M142.4 254.8h0M136.0 267.2h0M139.4 250.5h0M139.8 259.3h0M137.6 260.9h0M139.2 252.1h0M139.5 261.0h0M138.1 258.5h0M137.3 264.0h0M139.6 256.3h0M140.5 261.8h0M142.0 259.0h0M138.7 254.1h0M140.3 260.1h0M142.3 259.5h0M140.9 265.1h0M140.9 249.4h0M138.0 249.3h0M143.4 253.0h0M141.8 260.3h0M142.6 262.6h0M139.5 255.9h0M139.7 257.9h0M138.5 256.7h0M144.0 248.6h0M140.7 252.4h0M139.5 261.4h0M139.0 261.0h0M135.6 262.3h0M138.0 260.1h0M141.6 243.7h0M137.9 257.9h0M142.7 258.9h0M141.0 249.8h0M141.5 266.7h0M139.8 255.9h0M135.7 261.2h0M144.8 261.4h0M141.9 260.1h0M136.7 263.7h0M137.2 255.6h0M139.6 261.6h0M140.2 259.1h0M138.8 250.2h0M140.2 253.3h0M137.7 250.1h0M139.7 247.3h0M137.8 248.2h0M139.7 259.2h0M144.7 249.8h0M137.6 261.5h0M139.4 255.3h0M143.4 255.7h0M138.0 249.9h0M140.1 258.7h0M137.4 251.6h0M140.4 260.1h0M137.9 260.1h0M141.9 247.9h0M138.7 259.1h0M139.7 245.8h0M138.5 260.8h0M144.3 246.1h0M145.8 251.8h0M140.8 263.6h0M141.6 258.0h0M136.8 259.9h0M139.7 243.8h0M145.1 261.4h0M144.0 252.8h0M141.7 265.6h0M142.9 257.3h0M137.2 255.8h0M136.1 247.7h0M140.4 251.9h0M139.3 256.4h0M142.8 264.2h0M138.8 263.2h0M138.2 255.1h0M142.3 250.8h0M139.8 250.1h0M138.8 265.5h0M137.9 258.0h0M138.4 250.8h0M136.1 264.2h0M144.2 260.1h0M137.7 260.5h0M138.4 261.1h0M140.0 258.5h0M141.2 254.2h0M139.8 248.0h0M139.6 249.5h0M139.9 252.0h0M139.5 259.4h0M137.1 252.4h0M137.2 260.6h0M142.6 261.8h0M138.0 264.5h0M135.5 264.4h0M140.0 242.5h0M144.1 265.8h0M137.3 257.6h0M139.1 257.5h0M136.9 253.1h0M140.4 258.3h0M142.1 257.7h0M144.9 253.9h0M141.3 247.2h0M136.2 263.5h0M137.3 259.5h0M140.1 251.6h0M139.2 254.3h0M138.1 260.8h0M141.3 254.2h0M137.5 258.2h0M138.8 262.3h0M144.6 262.0h0M139.6 256.1h0M138.4 252.1h0M137.8 254.7h0M138.2 260.7h0M138.9 255.9h0M136.0 265.2h0M139.5 266.4h0M140.3 264.9h0M138.6 260.6h0M146.0 251.4h0M141.0 266.1h0M140.0 261.1h0M142.7 253.9h0M141.0 252.5h0M138.6 253.6h0M139.2 257.7h0M141.5 249.6h0M143.1 263.6h0M141.4 255.3h0M139.1 259.9h0M141.6 248.2h0M135.0 261.8h0M140.5 256.5h0M143.3 251.1h0M139.0 264.8h0M139.4 254.7h0M140.1 254.7h0M143.5 252.6h0M142.3 250.6h0M141.1 256.6h0M134.1 256.3h0M137.6 254.4h0M143.6 251.5h0M136.4 264.4h0M138.9 265.2h0M140.9 252.4h0M138.7 263.5h0M141.6 257.2h0M139.8 256.4h0M137.1 267.1h0M140.3 251.0h0M138.1 260.7h0M141.1 256.4h0M138.2 257.0h0M136.8 249.7h0M141.6 254.7h0M139.6 263.6h0M141.0 257.3h0M143.7 261.1h0M138.4 260.8h0M141.0 252.6h0M139.9 256.1h0M135.5 255.6h0M139.3 254.6h0M136.3 254.7h0M139.4 257.5h0M136.8 260.1h0M137.1 255.5h0M142.8 253.7h0M137.8 262.6h0M139.0 255.3h0M139.4 262.6h0M135.4 252.0h0M138.1 251.0h0M138.3 252.3h0M140.8 252.4h0M139.6 259.2h0M138.0 257.5h0M142.9 259.1h0M138.3 256.5h0M137.5 258.2h0M142.0 252.9h0M138.4 262.8h0M138.4 257.9h0M137.9 252.4h0M137.2 268.1h0M139.1 254.2h0M138.5 256.0h0M140.8 258.1h0M143.8 258.6h0M142.4 258.8h0M141.8 249.7h0M139.4 256.6h0M140.4 245.8h0M141.7 255.2h0M138.8 255.6h0M138.9 259.0h0M137.5 251.9h0M140.1 257.8h0M139.2 253.9h0M137.9 256.5h0M142.7 251.8h0M142.3 261.7h0M138.2 260.9h0M137.6 247.7h0M137.2 254.6h0M139.2 254.3h0M141.1 246.0h0M141.5 249.8h0M138.5 254.7h0M138.0 249.6h0M137.5 256.7h0M140.5 260.1h0M138.0 252.7h0M137.4 259.1h0M134.6 262.9h0M139.1 252.8h0M139.7 262.4h0M139.7 262.5h0M139.1 263.4h0M142.3 256.8h0M142.5 258.2h0M140.4 252.3h0M138.5 260.9h0M136.5 260.0h0M140.2 258.5h0M135.1 255.9h0M141.4 253.2h0M141.3 244.7h0M141.4 253.7h0M142.6 247.7h0M141.2 256.0h0M141.9 252.4h0M136.9 268.4h0M138.3 253.1h0M139.7 251.7h0M141.0 266.2h0M139.2 247.9h0M141.4 263.0h0M140.6 263.2h0" stroke="#e01515" stroke-width="1.20" stroke-linecap="round" fill="none" opacity="1.0"/>
<path d="M195.6 256.5h0M194.5 247.6h0M202.9 253.7h0M207.2 259.4h0M195.7 263.3h0M205.1 262.1h0M193.9 260.1h0M204.2 255.1h0M195.1 264.8h0M200.0 250.4h0M197.8 252.6h0M199.7 258.9h0M202.5 263.4h0M192.5 260.2h0M201.8 261.5h0M203.0 254.6h0M194.5 264.1h0M196.2 242.6h0M203.1 253.3h0M198.5 248.1h0M194.5 249.4h0M197.1 260.4h0M189.5 262.4h0M195.0 250.1h0M201.3 257.7h0M191.6 270.3h0M195.3 259.4h0M198.5 267.9h0M196.3 264.8h0M195.1 265.5h0M196.1 255.2h0M205.6 260.9h0M200.6 252.5h0M202.3 250.0h0M202.1 266.8h0M197.0 253.4h0M199.4 258.2h0M194.6 261.6h0M191.3 254.2h0M197.4 255.9h0M200.7 249.6h0M201.0 257.0h0M197.2 248.2h0M194.0 260.1h0M195.0 258.1h0M202.0 265.6h0M204.8 256.5h0M193.9 264.7h0M199.1 265.9h0M197.9 266.3h0M201.4 263.3h0M200.3 261.0h0M199.4 259.7h0M202.8 254.8h0M205.3 257.9h0M202.5 257.7h0M198.4 249.0h0M196.2 255.5h0M206.7 260.3h0M202.9 251.4h0M199.6 262.8h0M206.0 253.8h0M200.8 260.3h0M194.9 257.5h0M199.3 241.7h0M200.6 262.0h0M198.0 248.5h0M204.1 260.4h0M201.5 268.2h0M196.2 263.5h0M197.8 257.5h0M198.4 258.0h0M202.8 259.3h0M198.3 256.0h0M200.6 251.9h0M196.8 257.4h0M196.7 257.0h0M203.4 261.6h0M200.0 257.5h0M199.6 260.2h0M204.0 258.4h0M207.2 252.6h0M202.0 251.3h0M205.8 256.4h0M197.8 264.4h0M204.2 250.7h0M198.4 248.2h0M199.3 257.3h0M197.9 253.1h0M197.8 252.7h0M199.6 268.8h0M191.5 256.5h0M196.8 261.3h0M195.2 256.6h0M194.3 262.5h0M199.2 256.9h0M200.3 256.4h0M192.4 261.6h0M199.9 257.0h0M201.6 266.9h0M195.1 252.1h0M203.5 268.5h0M196.7 249.5h0M196.7 254.3h0M192.7 257.6h0M194.7 249.1h0" stroke="#f27070" stroke-width="0.90" stroke-linecap="round" fill="none" opacity="0.8"/>
<path d="M206.9 242.2h0M201.2 248.5h0M205.8 244.0h0M204.5 240.4h0M206.6 250.6h0M199.4 243.8h0M203.9 248.5h0M205.4 254.7h0M201.3 243.9h0M198.3 245.0h0M197.6 260.4h0M207.3 233.3h0M200.4 244.9h0M200.7 238.7h0M200.9 246.5h0M204.0 239.8h0M206.2 242.8h0M204.0 236.7h0M199.0 247.8h0M198.0 242.8h0M205.6 243.7h0M205.7 239.0h0M204.4 252.6h0M207.0 235.4h0M197.5 249.4h0M207.2 248.6h0M207.7 242.9h0M202.1 244.8h0M207.1 236.8h0M202.8 253.5h0M202.0 236.1h0M205.1 241.7h0M193.9 247.0h0M204.1 242.5h0M208.8 248.1h0" stroke="#f08888" stroke-width="0.90" stroke-linecap="round" fill="none" opacity="0.8"/>
<path d="M196.6 260.3h0M196.4 256.0h0M199.3 257.3h0M196.4 268.2h0M199.6 264.2h0M199.1 262.5h0M201.3 260.2h0M202.6 255.7h0M198.4 253.1h0M197.2 262.5h0M201.6 257.0h0M198.4 258.2h0M197.3 253.9h0M199.2 251.4h0M198.4 260.1h0M197.3 254.8h0M194.4 269.0h0M194.6 267.5h0M199.6 258.3h0M195.3 264.9h0M202.3 255.7h0M197.1 265.2h0M197.9 270.0h0M196.7 262.6h0M194.5 270.2h0M197.8 248.9h0M198.0 259.3h0M202.4 258.7h0M197.9 262.9h0M201.5 260.0h0M200.1 262.8h0M197.5 260.3h0M198.7 255.4h0M201.4 253.4h0M200.2 265.0h0M198.4 256.2h0M197.5 262.3h0M199.6 261.6h0M200.6 257.4h0M199.5 252.2h0M199.7 260.9h0M196.8 265.7h0M201.1 246.1h0M199.0 252.8h0M197.1 260.3h0M197.5 261.7h0M198.9 266.5h0M195.4 267.6h0M196.1 261.2h0M200.3 263.8h0M196.6 256.3h0M197.3 259.6h0M201.2 253.8h0M198.9 263.1h0M199.1 262.4h0M201.1 262.7h0M199.7 263.0h0M202.9 250.9h0M201.0 259.0h0M198.1 255.1h0M194.5 257.7h0M196.5 262.3h0M194.4 266.8h0M198.9 258.8h0M197.1 255.9h0M196.1 257.1h0M198.3 259.1h0M195.4 258.4h0M196.3 260.6h0M201.8 263.5h0M198.4 251.9h0M196.1 251.3h0M200.1 256.3h0M198.6 256.9h0M197.7 267.0h0M196.9 258.2h0M196.1 264.2h0M196.6 254.1h0M196.0 252.7h0M195.6 264.5h0M199.3 254.6h0M197.7 258.8h0M195.8 269.5h0M194.0 261.5h0M199.2 257.2h0M198.1 264.4h0M198.3 262.1h0M200.7 250.0h0M199.7 265.2h0M195.3 259.1h0M196.8 256.9h0M200.6 256.2h0M198.9 250.5h0M197.8 260.4h0M197.1 256.3h0M202.7 254.4h0M196.4 255.8h0M199.7 270.7h0M199.3 256.5h0M196.8 265.2h0M195.6 267.0h0M201.1 260.6h0M199.2 263.9h0M202.0 255.1h0M200.9 258.4h0M196.5 260.3h0M198.2 255.0h0M195.3 255.0h0M200.3 270.1h0M199.0 266.0h0M197.2 259.5h0M199.3 254.7h0M196.1 260.3h0M198.1 254.6h0M199.1 258.8h0M200.3 260.2h0M197.5 260.6h0M198.2 256.6h0M197.0 263.6h0M198.9 266.5h0M194.9 257.7h0M197.2 260.8h0M197.5 257.4h0M199.7 261.1h0M195.1 266.4h0M200.6 257.4h0M200.3 256.5h0M200.7 259.2h0M196.7 258.0h0M196.5 260.8h0M198.5 260.2h0M198.9 241.7h0M199.3 250.6h0M198.1 265.7h0M199.0 258.1h0M197.9 259.3h0M197.3 257.0h0M195.7 265.7h0M197.7 264.8h0M197.6 260.3h0M197.6 262.3h0M199.8 261.4h0M197.2 256.0h0M201.8 259.0h0M196.9 267.2h0M200.2 262.9h0M198.7 262.8h0M198.5 252.9h0M195.2 261.7h0M199.1 258.9h0M196.5 252.6h0M198.2 252.7h0M199.5 265.9h0M203.7 265.0h0M197.4 255.5h0M191.3 256.3h0M197.3 264.8h0M199.2 263.1h0M198.3 263.3h0M201.8 255.0h0M197.9 253.0h0M200.9 266.8h0M200.4 254.2h0M198.7 258.9h0M198.5 259.1h0M199.5 258.1h0M199.9 261.4h0M197.6 259.4h0M196.9 264.0h0M197.5 261.4h0M198.1 252.5h0M200.6 254.9h0M199.4 262.2h0M195.2 255.0h0M197.5 255.8h0M195.4 263.4h0M197.5 261.9h0M197.1 261.4h0M196.6 259.7h0M199.4 260.3h0M197.8 254.5h0M198.4 261.8h0M198.0 256.1h0M197.4 261.6h0M200.3 247.3h0M198.8 256.5h0M201.2 259.0h0M196.7 258.7h0M198.8 257.2h0M198.8 253.3h0M197.3 263.8h0M202.0 263.9h0M198.2 265.9h0M199.5 268.5h0M200.5 259.6h0M198.7 260.9h0M198.7 261.1h0M197.6 249.4h0M197.8 249.8h0M198.3 260.0h0M194.4 263.1h0M200.0 260.7h0M200.8 269.7h0M195.2 264.9h0M198.9 262.2h0M200.5 256.6h0M197.4 255.8h0M196.7 259.4h0M195.7 254.5h0M199.4 259.8h0M199.9 250.7h0M196.8 257.1h0M198.6 257.1h0M200.2 259.9h0M198.2 260.1h0M199.9 257.8h0M200.3 262.5h0M198.5 260.2h0M198.8 265.2h0M200.0 262.1h0M200.0 260.8h0M200.8 260.1h0M193.2 266.2h0M199.0 254.2h0M198.2 255.6h0M202.3 262.9h0M194.6 262.4h0M196.4 269.5h0M197.1 248.6h0M198.5 258.3h0M198.4 249.3h0M198.3 268.4h0M193.6 265.4h0M199.2 259.2h0M200.2 262.8h0M196.6 263.4h0M198.0 251.0h0M202.6 258.7h0M196.8 261.6h0M195.6 252.9h0M197.4 257.3h0M197.8 265.6h0M197.0 262.4h0M200.0 254.7h0M199.1 255.4h0M200.2 262.5h0M198.9 253.3h0M198.8 256.2h0M199.7 259.6h0M196.0 264.4h0M200.0 257.2h0M200.8 258.8h0M197.5 260.6h0M196.8 257.6h0M197.1 267.6h0M201.5 259.0h0M201.6 260.1h0M198.6 264.5h0M199.3 254.1h0M201.1 258.2h0M199.1 245.1h0M199.9 264.3h0M199.4 265.0h0M201.8 260.1h0M200.5 256.5h0M196.9 265.2h0M199.7 253.4h0M199.0 259.2h0M196.3 262.0h0M198.1 252.1h0M195.0 268.6h0M194.9 260.8h0M199.2 263.3h0M195.8 258.1h0M198.1 264.0h0M197.4 254.1h0M199.7 265.7h0M199.3 257.0h0M199.0 260.6h0M200.6 254.0h0M198.5 259.2h0M195.8 260.8h0M198.5 258.0h0M199.7 253.0h0M197.9 262.1h0M198.3 265.4h0M196.4 252.2h0M198.5 262.3h0M202.3 263.5h0M196.0 263.8h0M197.2 252.4h0M203.5 262.2h0M199.4 263.0h0M201.8 261.8h0M201.3 255.1h0M194.6 266.8h0M201.0 262.9h0M198.6 260.9h0M196.0 267.5h0M199.3 262.7h0M198.5 265.3h0M198.9 263.8h0M195.5 262.3h0M203.0 257.9h0M197.5 264.4h0M199.9 263.3h0M194.6 262.2h0M196.1 255.6h0M199.5 258.6h0M199.5 263.8h0M196.6 256.6h0M196.2 257.1h0M196.2 256.5h0M198.3 255.0h0M195.9 252.9h0M199.1 260.4h0M199.8 265.4h0M197.2 263.3h0M200.8 259.2h0M195.6 261.6h0M194.7 255.7h0" stroke="#e01515" stroke-width="1.20" stroke-linecap="round" fill="none" opacity="1.0"/>
<path d="M258.9 254.0h0M253.4 260.7h0M252.0 254.9h0M255.2 245.7h0M258.9 244.9h0M263.9 249.0h0M264.8 244.8h0M259.7 243.3h0M251.0 253.7h0M260.0 242.7h0M261.4 246.9h0M256.3 256.2h0M260.2 238.3h0M261.7 258.4h0M255.6 244.3h0M251.2 240.9h0M258.6 250.4h0M252.5 248.1h0M262.4 251.0h0M252.6 264.0h0M257.9 253.6h0M255.5 239.8h0M252.3 248.5h0M255.0 255.9h0M258.0 255.1h0M258.0 244.7h0M248.6 247.7h0M253.3 247.1h0M256.4 242.5h0M252.1 251.7h0M257.3 247.6h0M258.3 251.4h0M252.3 252.9h0M263.9 248.2h0M259.2 265.0h0M262.6 246.8h0M263.6 254.9h0M255.5 251.0h0M258.4 253.7h0M254.2 263.6h0M254.5 244.0h0M258.5 259.2h0M261.4 244.6h0M259.8 257.5h0M264.1 243.4h0M257.3 250.8h0M251.0 246.3h0M260.9 249.6h0M252.6 259.9h0M258.9 261.7h0M253.3 252.2h0M260.7 248.0h0M252.6 259.6h0M263.2 244.1h0M247.9 239.7h0M252.5 251.4h0M258.7 252.1h0M253.4 254.0h0M252.6 252.2h0M260.1 246.4h0M252.9 248.9h0M250.8 246.2h0M252.5 260.0h0M255.4 246.2h0M252.4 242.6h0M256.2 251.2h0M261.1 248.3h0M259.9 255.6h0M258.2 236.2h0M250.6 258.6h0M261.2 255.4h0M259.5 249.9h0M255.5 247.3h0M259.5 256.3h0M255.7 250.2h0M258.0 255.9h0M251.4 266.9h0M257.2 253.2h0M260.7 262.2h0M255.3 257.4h0M252.8 247.2h0M246.5 262.2h0M248.4 257.8h0M254.1 244.5h0M255.2 255.1h0M256.7 268.1h0M256.7 260.5h0M253.2 258.7h0M257.2 249.2h0M255.9 252.4h0M256.5 256.4h0M255.0 246.6h0M260.7 239.2h0M252.3 265.7h0M246.7 246.0h0M260.4 239.5h0M268.6 232.6h0M260.0 266.6h0M259.9 251.6h0M258.4 245.7h0M260.4 244.0h0M254.2 261.2h0M252.4 249.5h0M258.2 241.9h0M260.2 256.4h0M250.6 251.9h0M254.0 247.2h0M257.2 247.1h0M260.5 247.6h0M259.9 253.1h0M260.0 248.9h0M255.5 243.2h0M257.4 261.1h0M262.9 264.7h0M257.3 251.4h0M257.7 252.9h0M260.7 261.5h0M253.8 246.9h0M261.0 256.2h0M254.1 262.8h0M255.0 250.5h0M256.4 236.4h0M260.7 243.3h0M254.8 246.5h0M259.0 252.8h0M257.9 239.0h0M257.4 240.6h0M257.0 256.2h0M254.1 270.0h0M257.6 258.2h0M256.9 251.5h0M258.7 262.6h0M250.3 261.2h0M257.2 261.2h0M259.2 242.8h0M250.0 267.7h0M258.6 241.3h0M257.9 250.1h0M251.6 233.1h0M249.9 254.5h0M256.3 250.9h0M256.7 258.1h0M248.6 249.5h0M254.3 242.3h0M254.3 251.7h0M256.7 240.7h0M252.4 269.6h0M253.9 238.5h0M256.6 258.1h0" stroke="#f27070" stroke-width="0.90" stroke-linecap="round" fill="none" opacity="0.8"/>
<path d="M263.9 234.2h0M264.8 236.7h0M258.0 235.3h0M258.4 243.9h0M262.1 240.6h0M262.8 241.5h0M265.8 233.1h0M253.9 242.6h0M256.6 236.8h0M260.9 237.1h0M256.0 247.4h0M250.8 242.2h0M267.1 242.7h0M258.6 244.1h0M268.1 235.3h0M260.8 239.0h0M261.6 241.5h0M263.1 238.3h0M261.7 236.3h0M258.5 238.5h0M262.2 233.2h0M265.2 241.0h0M253.8 244.7h0M256.9 242.0h0M259.6 241.4h0M261.9 236.9h0M256.1 251.5h0M253.3 237.9h0M263.7 234.5h0M251.6 250.7h0M254.8 251.3h0M261.7 241.0h0M260.3 244.1h0M262.8 243.8h0M260.3 241.2h0M262.6 246.1h0M258.5 235.3h0M262.5 236.9h0M261.0 234.2h0M258.5 242.1h0M263.2 241.1h0M266.6 241.8h0M267.7 249.1h0M262.7 237.7h0M252.0 236.0h0M256.8 251.0h0M252.1 249.2h0M258.0 243.8h0M252.3 238.0h0M257.8 243.5h0M262.8 233.7h0M261.6 245.0h0M259.9 246.3h0M263.6 241.1h0M259.0 230.7h0M262.8 245.5h0M261.4 237.7h0M260.2 240.2h0M260.6 235.7h0M266.2 243.7h0M261.1 232.0h0M256.5 243.3h0M262.9 239.6h0M261.0 238.3h0M254.2 246.1h0M256.2 254.4h0M258.2 238.4h0M263.4 239.6h0M258.0 233.1h0M259.8 242.0h0M257.9 245.6h0M262.5 242.9h0M260.8 238.6h0M260.0 245.8h0M259.5 242.6h0M262.1 231.7h0M255.6 243.2h0M258.3 249.5h0M258.6 244.9h0M262.1 247.1h0M258.8 238.3h0" stroke="#f08888" stroke-width="0.90" stroke-linecap="round" fill="none" opacity="0.8"/>
<path d="M256.7 249.2h0M256.0 261.2h0M253.3 266.6h0M255.2 253.7h0M255.7 250.7h0M256.6 255.2h0M258.7 259.0h0M257.0 253.8h0M252.8 254.1h0M253.2 260.5h0M254.4 264.9h0M256.6 260.2h0M256.0 256.3h0M256.4 260.7h0M253.9 257.8h0M261.2 255.1h0M255.7 250.8h0M251.8 261.7h0M255.6 256.8h0M257.7 270.4h0M253.1 261.1h0M256.7 257.5h0M256.7 255.0h0M258.6 259.1h0M255.5 262.5h0M257.2 258.0h0M255.1 265.6h0M256.8 254.6h0M254.2 252.8h0M253.4 255.4h0M257.7 242.9h0M255.3 258.9h0M256.7 249.4h0M258.8 251.2h0M253.9 248.3h0M255.0 260.9h0M258.0 256.6h0M253.7 250.8h0M254.0 253.7h0M251.9 255.2h0M257.2 254.3h0M257.3 249.5h0M253.1 250.8h0M257.4 261.4h0M253.9 262.1h0M253.9 263.9h0M257.0 252.4h0M257.9 250.6h0M254.8 246.1h0M256.3 254.7h0M255.8 252.5h0M259.0 252.8h0M253.3 262.2h0M258.4 257.4h0M252.5 251.0h0M257.0 255.3h0M259.9 247.2h0M257.6 251.4h0M258.5 254.9h0M258.3 251.4h0M253.6 248.0h0M255.2 248.7h0M257.2 263.3h0M257.0 248.9h0M255.9 250.9h0M258.5 257.2h0M257.0 252.7h0M252.1 249.9h0M253.1 256.9h0M256.5 250.2h0M253.8 264.2h0M254.4 249.3h0M255.7 250.8h0M254.4 258.1h0M260.6 244.8h0M255.6 255.2h0M255.7 253.9h0M254.3 260.9h0M254.8 254.1h0M255.6 255.6h0M254.6 260.9h0M255.6 256.0h0M256.3 249.0h0M254.7 248.5h0M256.6 250.8h0M253.3 256.2h0M258.1 244.6h0M259.2 255.6h0M254.7 261.3h0M256.3 251.4h0M261.0 249.2h0M254.9 260.0h0M253.5 254.1h0M254.8 269.4h0M253.9 254.5h0M257.0 255.6h0M252.9 257.1h0M255.6 257.7h0M257.3 261.3h0M256.3 257.0h0M253.5 253.9h0M256.4 252.7h0M256.5 250.1h0M257.4 268.2h0M254.6 257.3h0M254.3 262.5h0M256.6 255.6h0M255.1 255.7h0M253.1 258.8h0M253.8 258.0h0M255.2 261.6h0M254.9 261.1h0M253.3 258.4h0M255.1 256.1h0M255.2 260.6h0M251.3 256.4h0M251.7 261.8h0M252.3 248.5h0M251.0 264.3h0M252.9 255.4h0M255.9 244.1h0M254.5 258.9h0M254.6 260.6h0M254.9 254.9h0M254.7 256.9h0M259.4 257.6h0M256.5 251.4h0M253.1 263.5h0M254.0 249.3h0M255.8 252.4h0M261.5 241.4h0M255.9 259.3h0M253.8 250.9h0M255.4 264.8h0M254.9 245.4h0M256.6 264.3h0M256.6 241.7h0M258.9 254.2h0M258.1 255.0h0M255.2 252.2h0M257.7 263.9h0M251.9 248.9h0M259.7 253.3h0M252.9 254.7h0M255.5 254.4h0M254.9 253.0h0M254.5 256.9h0M254.2 253.1h0M254.5 262.7h0M256.6 254.4h0M256.5 257.6h0M257.6 258.3h0M258.5 263.5h0M255.9 252.5h0M257.2 258.3h0M256.6 246.2h0M251.6 256.6h0M256.7 260.0h0M252.3 260.9h0M254.3 257.2h0M257.1 250.3h0M256.0 242.5h0M255.1 244.0h0M256.6 255.5h0M257.3 257.4h0M254.1 256.9h0M254.4 258.5h0M257.1 249.2h0M255.7 255.3h0M254.4 260.3h0M259.5 253.2h0M256.6 241.5h0M255.7 252.4h0M251.0 256.2h0M257.5 250.8h0M255.6 249.1h0M258.4 246.2h0M253.6 266.5h0M255.5 257.8h0M256.2 248.0h0M255.3 257.4h0M253.3 256.8h0M257.5 261.7h0M253.1 248.8h0M251.6 261.0h0M256.5 259.3h0M254.7 247.8h0M255.8 255.6h0M253.8 255.6h0M256.9 256.5h0M255.1 242.2h0M255.0 255.9h0M255.5 252.4h0M253.7 259.1h0M255.5 255.7h0M254.1 251.1h0M256.8 249.1h0M253.3 252.7h0M258.1 256.4h0M258.8 254.6h0M256.1 246.6h0M253.5 263.4h0M255.9 259.4h0M257.2 255.1h0M255.2 255.7h0M256.8 257.9h0M256.6 256.0h0M254.3 253.2h0M253.0 260.7h0M251.5 253.2h0M260.9 253.6h0M253.3 254.6h0M258.5 254.4h0M256.9 255.7h0M256.2 251.8h0M254.4 257.1h0M256.0 259.7h0M257.0 246.5h0M257.0 253.3h0M256.2 246.1h0M255.0 250.5h0M256.7 246.3h0M255.7 255.8h0M253.8 251.0h0M253.3 260.2h0M250.7 252.3h0M252.5 252.0h0M257.9 251.5h0M256.6 250.0h0M259.1 260.9h0M259.0 247.4h0M252.6 261.2h0M255.5 253.4h0M257.3 247.6h0M257.3 255.3h0M257.2 251.1h0M257.3 250.9h0M256.9 262.0h0M257.2 258.3h0M259.0 239.0h0M257.6 253.6h0M256.1 253.3h0M253.2 251.4h0M256.1 263.6h0M255.1 249.5h0M259.4 250.1h0M260.0 255.8h0M253.2 260.6h0M260.3 246.9h0M259.2 253.7h0M259.1 253.1h0M252.1 257.6h0M256.1 267.7h0M258.8 259.6h0M255.6 251.8h0M255.7 250.0h0M257.0 239.8h0M256.1 254.9h0M260.5 260.2h0M254.3 258.2h0M253.6 251.1h0M250.8 263.1h0M257.8 248.1h0M254.9 260.6h0M256.5 257.4h0M254.4 251.0h0M255.2 260.5h0M254.8 248.1h0M258.8 249.7h0M257.8 256.7h0M256.3 265.6h0M256.6 259.8h0M254.3 250.6h0M255.9 264.3h0M256.9 269.2h0M256.2 256.3h0M257.8 255.4h0M256.3 248.7h0M258.5 248.9h0M257.8 246.7h0M258.7 249.1h0M258.6 245.7h0M253.9 261.9h0M254.0 255.2h0M256.4 241.1h0M256.0 257.7h0M253.0 258.1h0M254.8 248.8h0M256.2 250.9h0M261.6 246.3h0M256.5 261.1h0M252.8 244.2h0M257.2 252.3h0M255.7 261.9h0M255.7 248.6h0M249.9 255.5h0M253.5 256.6h0M257.2 246.8h0M258.5 261.9h0M258.3 248.2h0M255.2 251.6h0M255.6 248.2h0M256.4 256.5h0M256.8 252.1h0M258.3 256.4h0M250.5 250.5h0M254.9 260.7h0M255.3 253.4h0M253.8 258.8h0M255.2 251.3h0M253.8 258.1h0M255.8 244.9h0M257.5 251.0h0M256.2 257.3h0M257.5 261.5h0M254.6 253.9h0M251.8 264.7h0M255.6 263.4h0M256.5 242.7h0M258.8 255.9h0M255.9 255.4h0M256.7 258.3h0M251.6 261.1h0M254.9 252.1h0M258.6 260.9h0M256.3 243.9h0M255.7 258.2h0M256.4 247.6h0M255.0 247.3h0M255.6 259.9h0M258.4 250.9h0M255.8 258.4h0M254.7 254.0h0M260.0 256.8h0M257.9 252.6h0M257.0 244.8h0M254.8 262.1h0M259.2 262.7h0M257.1 255.5h0M254.6 253.9h0M257.5 250.5h0M258.4 249.4h0M252.7 248.5h0M253.2 246.4h0M258.2 254.1h0M255.3 262.0h0M258.7 252.3h0M258.2 257.6h0M255.4 257.6h0M253.3 250.0h0M255.0 258.6h0M255.0 254.1h0M256.7 263.7h0M256.4 262.7h0M255.1 253.1h0M256.6 253.3h0M253.5 264.7h0M256.0 249.2h0M255.4 266.1h0M255.0 262.4h0M255.1 252.0h0M254.4 254.0h0M260.4 248.6h0M259.8 249.4h0M254.6 259.9h0M256.8 256.8h0M252.0 256.7h0M251.7 270.0h0M255.1 256.1h0M253.7 251.9h0M252.3 260.5h0M254.7 258.3h0M254.6 251.8h0M259.1 249.5h0M251.7 257.0h0M253.6 252.1h0M258.2 250.4h0M258.0 251.2h0M257.9 263.3h0M254.9 253.6h0M253.8 256.0h0M259.1 246.7h0M258.6 247.3h0M255.2 244.1h0M260.0 255.9h0M256.7 251.0h0M259.4 242.7h0M254.2 268.2h0M254.9 255.0h0M257.7 250.3h0M255.1 260.7h0M255.8 257.3h0M254.7 256.8h0M254.8 263.7h0M257.4 253.7h0M250.1 258.6h0M257.9 249.7h0M252.4 247.7h0M258.4 248.9h0M254.6 256.2h0M258.3 255.2h0M255.9 251.7h0M258.3 261.8h0M256.5 246.7h0M253.6 258.3h0M253.6 260.1h0M256.2 256.8h0M256.7 258.1h0M254.2 252.8h0M261.4 248.4h0M253.9 261.2h0M256.0 250.1h0M252.6 257.9h0M256.8 263.6h0M255.1 261.2h0M253.4 255.7h0M254.2 255.9h0M256.5 261.6h0M252.7 262.3h0M255.4 248.8h0M256.4 246.2h0M255.5 256.7h0M254.9 258.1h0M255.0 254.9h0M252.7 254.9h0M254.2 252.1h0M255.4 256.1h0M253.4 245.3h0M254.7 257.7h0M255.8 260.4h0M258.1 258.3h0M256.4 248.9h0M254.1 252.0h0M256.1 256.4h0M255.8 254.1h0M256.9 256.4h0M256.1 256.9h0M255.3 248.7h0M256.4 257.6h0M255.5 252.5h0M261.0 251.1h0M255.1 256.5h0M253.2 255.4h0M258.8 261.0h0M256.6 258.7h0M255.2 260.7h0M255.7 252.4h0M255.3 260.4h0M255.9 259.1h0" stroke="#e01515" stroke-width="1.20" stroke-linecap="round" fill="none" opacity="1.0"/>
<path d="M304.4 265.0h0M320.7 267.7h0M312.2 251.5h0M314.5 250.7h0M315.9 254.1h0M315.5 267.3h0M305.0 258.8h0M311.2 247.4h0M310.6 255.7h0M317.8 247.3h0M314.7 261.5h0M313.6 249.3h0M314.5 260.4h0M315.2 260.7h0M319.6 248.7h0M308.8 254.5h0M309.9 262.1h0M310.4 269.5h0M318.0 263.4h0M310.9 261.7h0M316.6 250.4h0M313.6 262.5h0M312.5 268.5h0M317.9 252.2h0M313.9 251.7h0M315.6 251.7h0M316.0 260.6h0M316.6 256.9h0M306.1 269.2h0M311.2 267.0h0M313.9 262.4h0M319.4 260.6h0M319.1 247.7h0M316.2 256.1h0M312.3 257.5h0M312.9 269.2h0M305.8 257.1h0M309.3 265.3h0M310.9 260.5h0M310.8 262.0h0M316.9 255.1h0M314.0 247.6h0M313.4 263.6h0M309.9 265.1h0M306.3 243.8h0M307.9 253.6h0M312.9 257.0h0M312.0 262.5h0M311.9 248.5h0M304.1 255.4h0M317.9 261.4h0M309.7 257.2h0M315.2 266.2h0M308.9 262.5h0M313.0 265.3h0M318.3 255.6h0M307.1 259.7h0M319.0 262.9h0M308.3 263.4h0M310.6 257.6h0M312.1 268.1h0M309.7 253.4h0M306.5 260.3h0M310.8 260.3h0M309.0 254.6h0M316.8 256.7h0M314.8 261.4h0M312.6 246.5h0M316.4 259.1h0M317.9 243.9h0M308.1 242.0h0M308.8 264.4h0M315.0 257.5h0M312.8 262.8h0M311.4 260.1h0M314.9 242.3h0M310.4 266.8h0M311.4 256.4h0M310.9 253.9h0M317.2 256.1h0M311.1 235.4h0M312.0 243.6h0M305.4 262.4h0M316.8 244.4h0M315.7 261.0h0M309.3 262.3h0M307.5 248.5h0M308.2 249.2h0M317.0 248.5h0M309.1 250.4h0M313.8 255.2h0M316.5 252.9h0M308.3 253.5h0M313.6 251.0h0M312.6 270.2h0M310.6 257.5h0M318.3 253.4h0M310.3 249.5h0M313.9 261.1h0M312.2 257.6h0M316.9 263.9h0M307.5 256.8h0M312.6 262.4h0M312.3 252.7h0M312.2 244.8h0M313.0 253.1h0M315.2 250.3h0M311.8 250.3h0M308.2 261.7h0" stroke="#f27070" stroke-width="0.90" stroke-linecap="round" fill="none" opacity="0.8"/>
<path d="M314.5 246.3h0M313.2 243.6h0M312.7 239.7h0M314.1 247.0h0M317.7 243.4h0M318.9 246.2h0M316.8 249.1h0M317.2 242.5h0M318.6 242.2h0M315.6 250.9h0M320.1 243.0h0M313.0 242.5h0M314.1 250.3h0M316.0 242.6h0M319.9 242.3h0M312.8 253.7h0M319.9 249.4h0M319.6 239.0h0M318.3 245.1h0M318.5 241.5h0M317.1 243.1h0M314.8 252.6h0M321.2 235.3h0M317.1 234.2h0M313.2 246.5h0M319.2 241.2h0M319.1 240.2h0M315.4 234.7h0M311.3 251.2h0M310.2 249.7h0M321.1 244.6h0M317.9 240.7h0M315.3 247.8h0M314.7 249.8h0M319.6 247.4h0M317.9 244.2h0" stroke="#f08888" stroke-width="0.90" stroke-linecap="round" fill="none" opacity="0.8"/>
<path d="M313.5 253.8h0M313.0 260.3h0M309.3 269.7h0M310.6 254.7h0M313.8 249.7h0M311.3 251.5h0M310.3 258.4h0M312.3 264.8h0M313.3 265.3h0M313.7 257.0h0M314.8 257.0h0M310.2 266.7h0M313.7 260.5h0M313.3 263.7h0M309.4 258.5h0M309.7 259.6h0M310.1 265.8h0M313.7 255.3h0M312.8 253.2h0M312.0 261.9h0M313.7 249.7h0M311.3 261.7h0M312.3 265.0h0M309.3 261.5h0M310.8 260.0h0M312.7 262.7h0M310.9 260.0h0M310.5 251.9h0M313.4 259.0h0M309.3 254.6h0M311.5 266.9h0M314.0 263.4h0M308.5 258.3h0M313.0 261.3h0M313.2 258.1h0M315.1 266.9h0M312.5 254.3h0M316.8 256.9h0M313.8 268.9h0M310.1 260.4h0M311.2 261.7h0M311.9 268.9h0M313.4 259.3h0M314.7 258.1h0M310.3 270.3h0M310.7 256.6h0M312.8 253.9h0M307.3 264.0h0M310.8 256.3h0M311.9 254.2h0M309.9 259.8h0M316.8 263.4h0M314.5 251.9h0M312.7 253.3h0M313.9 258.2h0M312.3 258.8h0M311.7 251.5h0M314.1 252.4h0M309.9 257.5h0M310.6 260.3h0M314.2 260.6h0M312.6 259.4h0M314.9 250.2h0M313.4 254.6h0M309.6 259.0h0M311.1 262.0h0M315.7 247.9h0M311.1 268.9h0M313.3 266.6h0M313.1 252.1h0M309.5 262.5h0M314.6 255.8h0M311.5 260.4h0M308.7 257.1h0M314.5 270.4h0M311.1 268.3h0M311.5 255.1h0M307.1 263.5h0M310.3 270.8h0M312.8 260.2h0M307.7 266.3h0M311.5 258.3h0M307.1 263.3h0M314.6 256.4h0M312.2 261.2h0M314.2 259.9h0M315.9 258.4h0M311.2 256.8h0M307.3 254.7h0M314.2 260.7h0M310.3 260.8h0M308.1 257.4h0M313.0 262.8h0M310.1 263.6h0M316.3 257.5h0M314.5 251.6h0M307.8 261.9h0M312.2 260.2h0M311.1 257.6h0M313.1 267.9h0M312.6 251.0h0M314.6 262.5h0M313.6 260.3h0M317.0 260.1h0M314.2 250.1h0M311.4 255.7h0M312.0 261.0h0M309.8 267.7h0M310.2 256.8h0M313.3 253.1h0M313.1 262.5h0M310.7 268.7h0M312.2 260.7h0M311.0 250.7h0M311.1 257.5h0M310.9 263.0h0M307.8 253.1h0M307.7 265.5h0M311.3 256.6h0M309.5 263.5h0M311.2 260.3h0M307.4 264.6h0M312.8 262.1h0M314.9 258.5h0M311.5 262.8h0M313.2 258.1h0M312.6 256.7h0M313.3 264.0h0M311.3 268.6h0M309.1 257.8h0M316.0 257.5h0M308.2 265.9h0M314.0 253.4h0M314.4 254.3h0M309.5 258.2h0M311.8 253.7h0M312.0 254.2h0M312.4 259.2h0M314.0 257.1h0M310.1 252.4h0M310.9 266.9h0M314.3 256.2h0M314.8 253.7h0M314.5 257.6h0M313.5 262.5h0M311.5 260.8h0M310.0 258.7h0M313.7 259.8h0M309.6 264.3h0M309.2 254.9h0M313.6 253.3h0M314.9 265.0h0M311.3 256.4h0M310.2 252.0h0M312.8 262.5h0M312.8 260.7h0M310.9 260.9h0M309.1 259.0h0M314.7 266.2h0M311.4 257.5h0M314.2 268.5h0M309.3 256.8h0M312.1 265.4h0M310.1 262.3h0M313.2 258.7h0M311.0 264.5h0M314.2 254.0h0M313.4 252.6h0M311.3 252.6h0M309.8 255.6h0M309.9 261.7h0M314.0 258.2h0M309.5 263.0h0M308.9 249.2h0M313.4 262.7h0M314.4 258.4h0M309.8 256.5h0M313.8 255.6h0M311.5 252.2h0M309.4 263.2h0M313.8 253.6h0M310.2 256.2h0M314.0 253.5h0M313.0 248.5h0M309.4 261.1h0M314.7 253.7h0M310.2 263.1h0M311.7 256.5h0M313.2 260.4h0M314.2 263.5h0M311.1 258.6h0M312.8 252.5h0M309.7 263.9h0M308.4 263.9h0M312.9 258.6h0M313.1 261.8h0M315.0 257.5h0M311.9 258.0h0M315.7 264.4h0M310.5 257.4h0M310.7 259.2h0M311.5 270.8h0M307.9 264.0h0M313.5 255.9h0M312.2 256.8h0M311.8 264.3h0M308.4 265.5h0M310.7 266.7h0M312.5 265.5h0M312.9 264.8h0M312.8 255.2h0M313.3 263.0h0M317.6 249.8h0M311.3 264.6h0M309.7 257.9h0M316.0 266.8h0M309.7 266.3h0M314.3 263.5h0M312.9 260.6h0M310.7 256.6h0M313.7 260.2h0M316.3 258.1h0M307.4 257.2h0M312.6 261.3h0M312.8 255.3h0M315.7 256.4h0M313.9 258.1h0M309.0 266.1h0M307.4 254.6h0M313.3 257.7h0M313.9 259.0h0M310.2 270.0h0M311.9 258.5h0M310.4 255.4h0M313.3 262.3h0M312.6 255.9h0M314.6 251.1h0M311.7 258.1h0M310.4 260.0h0M311.3 255.3h0M315.7 263.5h0M314.8 259.9h0M313.9 263.5h0M311.7 260.7h0M313.9 241.9h0M309.4 259.3h0M313.9 256.7h0M314.0 266.1h0M310.7 266.5h0M315.7 262.1h0M309.5 266.6h0M312.1 257.6h0M312.8 256.8h0M314.1 263.6h0M314.6 262.6h0M310.7 258.5h0M314.3 257.7h0M318.5 258.9h0M310.5 265.1h0M313.9 259.5h0M311.6 261.6h0M313.7 263.5h0M311.5 261.6h0M313.7 263.5h0M306.3 254.4h0M310.8 258.2h0M312.2 264.1h0M313.7 259.0h0M311.5 268.3h0M310.9 260.9h0M315.4 261.5h0M307.8 260.9h0M311.5 258.9h0M314.3 262.1h0M311.3 263.9h0M313.2 260.1h0M312.8 260.8h0M311.8 257.1h0M312.8 254.8h0M309.0 265.7h0M311.8 259.3h0M312.0 259.6h0M312.3 259.8h0M310.2 264.0h0M310.3 264.5h0M308.8 253.8h0M314.4 259.0h0M310.7 261.2h0M310.1 259.7h0M307.9 256.8h0M310.7 262.0h0M314.6 255.4h0M316.0 256.9h0M309.2 247.2h0M315.6 259.4h0M311.3 255.6h0M309.3 266.0h0M311.2 268.4h0M313.1 247.8h0M314.2 257.8h0M311.0 267.2h0M311.2 265.2h0M312.7 255.8h0M313.7 256.6h0M314.4 264.5h0M312.1 262.5h0M313.6 258.2h0M314.3 258.6h0M314.1 254.9h0M312.3 261.6h0M310.9 257.3h0M310.8 263.0h0M310.6 261.5h0M315.3 261.6h0M308.9 259.8h0M314.6 258.3h0M314.3 262.8h0M313.3 258.3h0M311.4 258.2h0M312.2 262.2h0M313.3 258.1h0M312.3 261.5h0M309.3 255.4h0M310.8 258.4h0M311.9 258.2h0M310.2 262.7h0M313.7 251.5h0M312.9 254.0h0M316.1 257.7h0M311.5 259.9h0M311.9 259.2h0M315.4 261.0h0M313.5 265.4h0M309.4 267.8h0M313.3 264.5h0M310.1 263.5h0M313.5 257.0h0" stroke="#e01515" stroke-width="1.20" stroke-linecap="round" fill="none" opacity="1.0"/>
<line x1="190.8" y1="326.7" x2="190.8" y2="528.2" stroke="#333" stroke-width="1.1" />
<line x1="190.4" y1="527.7" x2="511" y2="527.7" stroke="#777" stroke-width="1.0" />
<line x1="191.8" y1="527.7" x2="191.8" y2="525.5" stroke="#777" stroke-width="0.9" />
<text x="191.8" y="540.8" font-size="9.5" text-anchor="middle" fill="#000" style="font-family:'Liberation Serif',serif;font-weight:bold"  stroke="#000" stroke-width="0.3">0</text>
<line x1="237.5" y1="527.7" x2="237.5" y2="525.5" stroke="#777" stroke-width="0.9" />
<text x="237.5" y="540.8" font-size="9.5" text-anchor="middle" fill="#000" style="font-family:'Liberation Serif',serif;font-weight:bold"  stroke="#000" stroke-width="0.3">10</text>
<line x1="283.1" y1="527.7" x2="283.1" y2="525.5" stroke="#777" stroke-width="0.9" />
<text x="283.1" y="540.8" font-size="9.5" text-anchor="middle" fill="#000" style="font-family:'Liberation Serif',serif;font-weight:bold"  stroke="#000" stroke-width="0.3">20</text>
<line x1="328.8" y1="527.7" x2="328.8" y2="525.5" stroke="#777" stroke-width="0.9" />
<text x="328.8" y="540.8" font-size="9.5" text-anchor="middle" fill="#000" style="font-family:'Liberation Serif',serif;font-weight:bold"  stroke="#000" stroke-width="0.3">30</text>
<line x1="374.4" y1="527.7" x2="374.4" y2="525.5" stroke="#777" stroke-width="0.9" />
<text x="374.4" y="540.8" font-size="9.5" text-anchor="middle" fill="#000" style="font-family:'Liberation Serif',serif;font-weight:bold"  stroke="#000" stroke-width="0.3">40</text>
<line x1="420.1" y1="527.7" x2="420.1" y2="525.5" stroke="#777" stroke-width="0.9" />
<text x="420.1" y="540.8" font-size="9.5" text-anchor="middle" fill="#000" style="font-family:'Liberation Serif',serif;font-weight:bold"  stroke="#000" stroke-width="0.3">50</text>
<line x1="465.7" y1="527.7" x2="465.7" y2="525.5" stroke="#777" stroke-width="0.9" />
<text x="465.7" y="540.8" font-size="9.5" text-anchor="middle" fill="#000" style="font-family:'Liberation Serif',serif;font-weight:bold"  stroke="#000" stroke-width="0.3">60</text>
<line x1="511.4" y1="527.7" x2="511.4" y2="525.5" stroke="#777" stroke-width="0.9" />
<text x="511.4" y="540.8" font-size="9.5" text-anchor="middle" fill="#000" style="font-family:'Liberation Serif',serif;font-weight:bold"  stroke="#000" stroke-width="0.3">70</text>
<text x="353.8" y="556.3" font-size="10" text-anchor="middle" fill="#000" style="font-family:'Liberation Serif',serif;font-weight:bold"  stroke="#000" stroke-width="0.3">OVA-specific CD4 T cells ( × 10<tspan font-size="8" dy="-3.8">4</tspan><tspan dy="3.8"> )</tspan></text>
<rect x="191.3" y="330.7" width="259.2" height="5.8" fill="#000" />
<line x1="450.5" y1="333.6" x2="470.1" y2="333.6" stroke="#444" stroke-width="0.9" />
<line x1="470.1" y1="331.8" x2="470.1" y2="335.4" stroke="#444" stroke-width="0.9" />
<text x="184.8" y="338.2" font-size="10" text-anchor="end" fill="#000" style="font-family:'Liberation Serif',serif;font-weight:bold"  stroke="#000" stroke-width="0.3">Transwell/LRDC/cDC/CD4 T</text>
<rect x="191.3" y="344.1" width="222.7" height="5.8" fill="#000" />
<line x1="414" y1="347" x2="430.4" y2="347" stroke="#444" stroke-width="0.9" />
<line x1="430.4" y1="345.2" x2="430.4" y2="348.8" stroke="#444" stroke-width="0.9" />
<text x="184.8" y="351.6" font-size="10" text-anchor="end" fill="#000" style="font-family:'Liberation Serif',serif;font-weight:bold"  stroke="#000" stroke-width="0.3">Indomethacin/LRDC/cDC/CD4 T</text>
<rect x="191.3" y="357.6" width="84.5" height="5.8" fill="#000" />
<line x1="275.8" y1="360.5" x2="288.1" y2="360.5" stroke="#444" stroke-width="0.9" />
<line x1="288.1" y1="358.7" x2="288.1" y2="362.3" stroke="#444" stroke-width="0.9" />
<text x="184.8" y="365.1" font-size="10" text-anchor="end" fill="#000" style="font-family:'Liberation Serif',serif;font-weight:bold"  stroke="#000" stroke-width="0.3">IDO inhibitor/LRDC/cDC/CD4 T</text>
<rect x="191.3" y="371" width="82.7" height="5.8" fill="#000" />
<line x1="274" y1="373.9" x2="282.7" y2="373.9" stroke="#444" stroke-width="0.9" />
<line x1="282.7" y1="372.1" x2="282.7" y2="375.7" stroke="#444" stroke-width="0.9" />
<text x="184.8" y="378.5" font-size="10" text-anchor="end" fill="#000" style="font-family:'Liberation Serif',serif;font-weight:bold"  stroke="#000" stroke-width="0.3">Anti-IFN-γ isotype/LRDC/cDC/CD4 T</text>
<rect x="191.3" y="384.5" width="151.5" height="5.8" fill="#000" />
<line x1="342.8" y1="387.4" x2="355.6" y2="387.4" stroke="#444" stroke-width="0.9" />
<line x1="355.6" y1="385.6" x2="355.6" y2="389.2" stroke="#444" stroke-width="0.9" />
<text x="184.8" y="392" font-size="10" text-anchor="end" fill="#000" style="font-family:'Liberation Serif',serif;font-weight:bold"  stroke="#000" stroke-width="0.3">Anti-IFN-γ/LRDC/cDC/CD4 T</text>
<rect x="191.3" y="397.9" width="92.7" height="5.8" fill="#000" />
<line x1="284" y1="400.8" x2="295.4" y2="400.8" stroke="#444" stroke-width="0.9" />
<line x1="295.4" y1="399" x2="295.4" y2="402.6" stroke="#444" stroke-width="0.9" />
<text x="184.8" y="405.4" font-size="10" text-anchor="end" fill="#000" style="font-family:'Liberation Serif',serif;font-weight:bold"  stroke="#000" stroke-width="0.3">Anti-IL-10 isotype/LRDC/cDC/CD4T</text>
<rect x="191.3" y="411.3" width="90" height="5.8" fill="#000" />
<line x1="281.3" y1="414.2" x2="295" y2="414.2" stroke="#444" stroke-width="0.9" />
<line x1="295" y1="412.4" x2="295" y2="416" stroke="#444" stroke-width="0.9" />
<text x="184.8" y="418.8" font-size="10" text-anchor="end" fill="#000" style="font-family:'Liberation Serif',serif;font-weight:bold"  stroke="#000" stroke-width="0.3">Anti-IL-10/LRDC/cDC/CD4T</text>
<rect x="191.3" y="424.8" width="89.1" height="5.8" fill="#000" />
<line x1="280.4" y1="427.7" x2="292.7" y2="427.7" stroke="#444" stroke-width="0.9" />
<line x1="292.7" y1="425.9" x2="292.7" y2="429.5" stroke="#444" stroke-width="0.9" />
<text x="184.8" y="432.3" font-size="10" text-anchor="end" fill="#000" style="font-family:'Liberation Serif',serif;font-weight:bold"  stroke="#000" stroke-width="0.3">Anti-TGF-β isotype/LRDC/cDC/CD4 T</text>
<rect x="191.3" y="438.2" width="88.2" height="5.8" fill="#000" />
<line x1="279.5" y1="441.1" x2="291.8" y2="441.1" stroke="#444" stroke-width="0.9" />
<line x1="291.8" y1="439.3" x2="291.8" y2="442.9" stroke="#444" stroke-width="0.9" />
<text x="184.8" y="445.7" font-size="10" text-anchor="end" fill="#000" style="font-family:'Liberation Serif',serif;font-weight:bold"  stroke="#000" stroke-width="0.3">Anti-TGF-β/LRDC/cDC/CD4 T</text>
<rect x="191.3" y="451.7" width="82.2" height="5.8" fill="#000" />
<line x1="273.5" y1="454.6" x2="282.7" y2="454.6" stroke="#444" stroke-width="0.9" />
<line x1="282.7" y1="452.8" x2="282.7" y2="456.4" stroke="#444" stroke-width="0.9" />
<text x="184.8" y="459.2" font-size="10" text-anchor="end" fill="#000" style="font-family:'Liberation Serif',serif;font-weight:bold"  stroke="#000" stroke-width="0.3">Anti-B7-H1 isotype/LRDC/cDC/CD4 T</text>
<rect x="191.3" y="465.1" width="81.3" height="5.8" fill="#000" />
<line x1="272.6" y1="468" x2="282.2" y2="468" stroke="#444" stroke-width="0.9" />
<line x1="282.2" y1="466.2" x2="282.2" y2="469.8" stroke="#444" stroke-width="0.9" />
<text x="184.8" y="472.6" font-size="10" text-anchor="end" fill="#000" style="font-family:'Liberation Serif',serif;font-weight:bold"  stroke="#000" stroke-width="0.3">Anti-B7-H1/LRDC/cDC/CD4 T</text>
<rect x="191.3" y="478.5" width="79.5" height="5.8" fill="#000" />
<line x1="270.8" y1="481.4" x2="282.7" y2="481.4" stroke="#444" stroke-width="0.9" />
<line x1="282.7" y1="479.6" x2="282.7" y2="483.2" stroke="#444" stroke-width="0.9" />
<text x="184.8" y="486" font-size="10" text-anchor="end" fill="#000" style="font-family:'Liberation Serif',serif;font-weight:bold"  stroke="#000" stroke-width="0.3">LRDC/cDC/CD4 T</text>
<rect x="191.3" y="492" width="30.7" height="5.8" fill="#000" />
<line x1="222" y1="494.9" x2="230.9" y2="494.9" stroke="#444" stroke-width="0.9" />
<line x1="230.9" y1="493.1" x2="230.9" y2="496.7" stroke="#444" stroke-width="0.9" />
<text x="184.8" y="499.5" font-size="10" text-anchor="end" fill="#000" style="font-family:'Liberation Serif',serif;font-weight:bold"  stroke="#000" stroke-width="0.3">LRDC/CD4 T</text>
<rect x="191.3" y="505.4" width="261.4" height="5.8" fill="#000" />
<line x1="452.7" y1="508.3" x2="473.7" y2="508.3" stroke="#444" stroke-width="0.9" />
<line x1="473.7" y1="506.5" x2="473.7" y2="510.1" stroke="#444" stroke-width="0.9" />
<text x="184.8" y="512.9" font-size="10" text-anchor="end" fill="#000" style="font-family:'Liberation Serif',serif;font-weight:bold"  stroke="#000" stroke-width="0.3">cDC/CD4 T</text>
<rect x="191.3" y="518.9" width="17.5" height="5.8" fill="#000" />
<line x1="208.8" y1="521.8" x2="212.9" y2="521.8" stroke="#444" stroke-width="0.9" />
<line x1="212.9" y1="520" x2="212.9" y2="523.6" stroke="#444" stroke-width="0.9" />
<text x="184.8" y="526.4" font-size="10" text-anchor="end" fill="#000" style="font-family:'Liberation Serif',serif;font-weight:bold"  stroke="#000" stroke-width="0.3">CD4 T</text>
<text x="482.7" y="336.8" font-size="8.0" text-anchor="middle" fill="#383838" stroke="#383838" stroke-width="0.45" stroke-linejoin="round" style="font-family:'DejaVu Sans',sans-serif">★</text>
<text x="442.2" y="350.3" font-size="8.0" text-anchor="middle" fill="#383838" stroke="#383838" stroke-width="0.45" stroke-linejoin="round" style="font-family:'DejaVu Sans',sans-serif">★</text>
<text x="363.8" y="389.4" font-size="8.0" text-anchor="middle" fill="#383838" stroke="#383838" stroke-width="0.45" stroke-linejoin="round" style="font-family:'DejaVu Sans',sans-serif">★</text>
<text x="370.6" y="389.4" font-size="8.0" text-anchor="middle" fill="#383838" stroke="#383838" stroke-width="0.45" stroke-linejoin="round" style="font-family:'DejaVu Sans',sans-serif">★</text>
<path d="M493.3 334.6H515.6V485.1H303.3" stroke="#555" stroke-width="1.1" fill="none" />
<path d="M455.3 347.4H467V482H303.3" stroke="#555" stroke-width="1.1" fill="none" />
<path d="M377.5 386.5H396.9V478.9H303.3" stroke="#555" stroke-width="1.1" fill="none" />
<line x1="59.5" y1="690.2" x2="59.5" y2="609" stroke="#000" stroke-width="2.8" />
<path d="M59.5 599.4L53.4 610.4L65.6 610.4Z" stroke="none" stroke-width="0" fill="#000" />
<line x1="58.1" y1="689.2" x2="471" y2="689.2" stroke="#000" stroke-width="2.8" />
<path d="M482 689.2L470 683.3L470 695.1Z" stroke="none" stroke-width="0" fill="#000" />
<text transform="translate(51,641) rotate(-90)" font-size="10" text-anchor="middle" style="font-family:'Liberation Serif',serif;font-weight:bold">CD4</text>
<text x="278.9" y="703.7" font-size="10" text-anchor="middle" fill="#000" style="font-family:'Liberation Serif',serif;font-weight:bold"  stroke="#000" stroke-width="0.3">Annexin V</text>
<rect x="71.5" y="597.6" width="94.7" height="85.3" fill="none" stroke="#555" stroke-width="1.2"/>
<text x="120.4" y="590.8" font-size="10" text-anchor="middle" fill="#000" style="font-family:'Liberation Serif',serif;font-weight:bold"  stroke="#000" stroke-width="0.3">CD4 T/cDC</text>
<text x="160.4" y="659.6" font-size="10.3" text-anchor="end" fill="#000" style="font-family:'Liberation Serif',serif;font-weight:bold"  stroke="#000" stroke-width="0.3">5.6%</text>
<rect x="176.5" y="597.6" width="97" height="85.3" fill="none" stroke="#555" stroke-width="1.2"/>
<text x="221.5" y="590.8" font-size="10" text-anchor="middle" fill="#000" style="font-family:'Liberation Serif',serif;font-weight:bold"  stroke="#000" stroke-width="0.3">CD4 T/ LRDC</text>
<text x="267.7" y="659.6" font-size="10.3" text-anchor="end" fill="#000" style="font-family:'Liberation Serif',serif;font-weight:bold"  stroke="#000" stroke-width="0.3">2.9%</text>
<rect x="282.4" y="597.6" width="95.8" height="85.3" fill="none" stroke="#555" stroke-width="1.2"/>
<text x="328.5" y="580.6" font-size="10" text-anchor="middle" fill="#000" style="font-family:'Liberation Serif',serif;font-weight:bold"  stroke="#000" stroke-width="0.3">CD4 T/cDC</text>
<text x="328.5" y="592.6" font-size="10" text-anchor="middle" fill="#000" style="font-family:'Liberation Serif',serif;font-weight:bold"  stroke="#000" stroke-width="0.3">/LRDC</text>
<text x="372.4" y="659.6" font-size="10.3" text-anchor="end" fill="#000" style="font-family:'Liberation Serif',serif;font-weight:bold"  stroke="#000" stroke-width="0.3">19.9%</text>
<rect x="387.5" y="597.6" width="95.4" height="85.3" fill="none" stroke="#555" stroke-width="1.2"/>
<text x="431.2" y="580.6" font-size="10" text-anchor="middle" fill="#000" style="font-family:'Liberation Serif',serif;font-weight:bold"  stroke="#000" stroke-width="0.3">CD4 T/cDC/LRDC</text>
<text x="434.5" y="592.6" font-size="10" text-anchor="middle" fill="#000" style="font-family:'Liberation Serif',serif;font-weight:bold"  stroke="#000" stroke-width="0.3">anti-IFN-γ</text>
<text x="479" y="659.6" font-size="10.3" text-anchor="end" fill="#000" style="font-family:'Liberation Serif',serif;font-weight:bold"  stroke="#000" stroke-width="0.3">10.6%</text>
<path d="M138.6 610.7h0M103.3 620.6h0M120.8 620.0h0M116.4 622.0h0M124.3 605.2h0M98.0 616.0h0M110.2 625.5h0M113.4 610.1h0M104.1 625.2h0M98.8 620.5h0M107.3 607.7h0M117.6 616.6h0M112.4 610.8h0M94.7 619.0h0M109.9 617.7h0M111.2 627.1h0M123.0 608.7h0M100.4 630.4h0M104.4 627.1h0M127.3 608.2h0M102.8 620.2h0M92.7 617.5h0M102.3 624.8h0M99.8 619.6h0M97.5 613.7h0M122.5 599.5h0M98.3 624.5h0M88.2 628.2h0M122.0 608.2h0M107.2 611.8h0M113.4 616.6h0M111.7 624.5h0M115.1 623.2h0M112.9 609.4h0M110.7 619.8h0M88.8 632.2h0M107.9 620.1h0M94.1 623.1h0M109.8 615.4h0M103.7 607.2h0M123.0 606.4h0M74.7 623.8h0M95.8 625.2h0M94.3 624.3h0M97.0 634.4h0M117.2 626.0h0M93.5 626.7h0M94.2 626.0h0M112.8 607.1h0M88.6 617.8h0M84.3 621.8h0M90.5 615.6h0M108.5 620.9h0M87.2 621.8h0M105.9 617.3h0M98.0 626.0h0M119.0 618.0h0M106.8 629.7h0M129.4 608.3h0M106.6 625.2h0M95.9 624.3h0M105.6 614.7h0M100.2 611.5h0M95.2 610.8h0M140.1 615.5h0M123.5 614.3h0M122.1 620.4h0M121.7 618.5h0M94.4 625.0h0M96.7 614.9h0M91.2 626.1h0M118.1 606.5h0M132.6 617.9h0M100.0 617.9h0M106.8 623.9h0M98.8 614.6h0M107.1 606.3h0M110.0 623.8h0M111.6 621.1h0M114.1 619.9h0M106.5 613.5h0M102.8 619.2h0M126.1 621.0h0M110.4 612.6h0M95.7 621.0h0M125.6 613.7h0M103.9 614.8h0M118.6 615.8h0M105.5 619.3h0M128.9 609.8h0M131.4 617.0h0M108.3 622.8h0M102.8 614.8h0M100.7 615.1h0M113.0 616.2h0M115.2 620.1h0M81.6 627.8h0M94.1 623.2h0M121.7 603.3h0M108.5 617.2h0M81.2 630.7h0M105.6 615.7h0M101.8 638.4h0M97.4 611.1h0M92.6 621.0h0M100.6 619.9h0M92.6 626.2h0M97.0 613.8h0M94.1 620.4h0M118.5 617.0h0M101.4 620.2h0M112.5 628.0h0M98.4 623.8h0M114.3 610.2h0M108.9 618.5h0M100.6 623.6h0M122.1 619.5h0M103.7 620.4h0M136.3 601.8h0M110.6 622.0h0M109.2 621.2h0M109.7 621.6h0M123.2 611.3h0M108.6 617.3h0M100.4 620.3h0M91.8 627.6h0M132.4 619.3h0M121.8 607.5h0M125.6 607.7h0M108.5 628.3h0M92.8 627.9h0M109.6 616.4h0M94.7 624.8h0M101.5 626.1h0M120.4 605.6h0M98.5 619.2h0M87.8 618.3h0M106.8 617.0h0M82.4 623.5h0M111.0 609.9h0M96.1 631.0h0M121.2 604.0h0M88.1 626.8h0M89.2 622.8h0M100.8 623.5h0M91.0 629.5h0M100.9 610.4h0M114.0 619.8h0M102.0 618.0h0M114.1 622.7h0M109.0 620.5h0M104.7 616.8h0M93.9 624.1h0M101.5 618.7h0M119.6 616.6h0M115.2 606.3h0M112.6 612.8h0M93.4 617.9h0M124.1 617.1h0M94.2 616.0h0M105.4 616.1h0M126.2 603.2h0M80.4 625.8h0M106.4 619.1h0M120.0 625.6h0M100.3 617.3h0M82.3 628.0h0M117.2 613.1h0M122.2 613.1h0M127.4 613.1h0M90.4 620.2h0M81.9 616.8h0M111.2 621.7h0M132.7 609.0h0M100.8 613.9h0M120.2 615.9h0M99.0 624.8h0M110.4 606.2h0M116.4 615.7h0M99.9 618.2h0M132.7 618.2h0M129.0 604.0h0M98.6 626.2h0M88.2 620.5h0M84.5 636.5h0M121.4 615.9h0M108.3 615.3h0M101.6 623.5h0M98.4 628.2h0M97.7 616.3h0M123.6 611.7h0M112.9 613.8h0M76.1 631.9h0M89.4 630.4h0M81.4 616.2h0M111.0 619.2h0M105.3 611.8h0M115.6 606.8h0M98.2 616.6h0M102.3 624.7h0M98.3 624.4h0M112.5 606.4h0M89.3 622.0h0M98.4 622.9h0M80.8 631.3h0M115.9 614.1h0M87.0 625.0h0M99.6 623.9h0M106.1 622.6h0M102.6 628.0h0M72.6 624.1h0M110.1 608.4h0M114.0 608.8h0M105.7 613.4h0M100.3 621.5h0M103.9 617.0h0M135.6 608.4h0M94.3 627.8h0M119.4 620.9h0M128.9 605.3h0M122.5 619.4h0M106.4 619.8h0M127.4 600.9h0M99.2 622.5h0M116.8 624.2h0M81.9 627.0h0M115.5 607.7h0M108.8 628.4h0M125.0 615.1h0M110.8 615.1h0M110.5 634.7h0M101.3 614.5h0M108.8 615.7h0M101.6 619.5h0M117.0 616.1h0M89.3 623.5h0M111.7 613.9h0M123.1 617.1h0M93.0 624.8h0M136.0 617.2h0M106.8 623.4h0M94.2 614.2h0M114.0 617.2h0M113.0 616.0h0M109.6 614.3h0M114.0 620.6h0M106.6 623.0h0M80.3 622.8h0M128.9 620.8h0M109.3 616.8h0M89.2 626.3h0M114.1 607.2h0M114.5 618.4h0M110.1 610.6h0M110.8 608.2h0M126.7 612.2h0M92.4 630.9h0M120.7 609.7h0M134.5 603.0h0M112.4 623.1h0M76.6 634.3h0M105.1 618.7h0M91.8 625.3h0M89.1 618.7h0M97.7 614.3h0M125.2 604.3h0M95.1 620.4h0M107.4 622.6h0M116.7 613.1h0M100.8 620.5h0M118.5 618.2h0M95.3 610.3h0M137.1 613.3h0M110.2 619.0h0M97.1 615.8h0M101.0 618.9h0M94.9 613.9h0M102.7 622.9h0M99.2 620.9h0M77.2 627.2h0M102.2 612.8h0M83.0 628.7h0M95.8 624.8h0M101.3 623.7h0M98.7 612.3h0M104.2 617.2h0M114.2 613.1h0M102.1 624.8h0M123.3 616.9h0M121.0 616.0h0M118.1 619.4h0M111.6 616.9h0M112.2 630.2h0M105.8 617.2h0M100.9 620.0h0M107.4 611.5h0M79.4 629.3h0M84.4 627.4h0M110.0 623.8h0M129.6 612.5h0M96.3 615.1h0M95.2 622.4h0M77.7 628.6h0M107.0 621.9h0M101.6 620.6h0M95.1 619.6h0M81.9 627.5h0M127.5 612.1h0M109.3 611.7h0M124.3 607.8h0M117.2 615.3h0M94.7 628.3h0M106.5 619.3h0M112.2 616.3h0M101.6 622.7h0M100.6 620.7h0M94.2 614.0h0M95.9 619.1h0M108.3 624.5h0M83.1 627.1h0M73.8 623.5h0M95.1 609.3h0M80.8 628.0h0M106.9 617.5h0M98.8 633.4h0M102.3 614.8h0M130.1 613.8h0M103.0 626.4h0M109.3 621.1h0" stroke="#f070b8" stroke-width="1.00" stroke-linecap="round" fill="none" opacity="0.85"/>
<path d="M107.1 614.4h0M115.4 615.9h0M95.6 619.3h0M114.6 614.2h0M107.2 620.5h0M105.5 613.2h0M113.1 619.5h0M116.0 620.9h0M110.3 619.8h0M120.7 612.4h0M124.3 618.5h0M115.4 621.9h0M113.1 612.9h0M117.1 615.9h0M110.1 617.7h0M119.5 615.9h0M100.0 622.3h0M112.1 613.8h0M101.5 618.7h0M100.6 621.6h0M117.7 621.3h0M118.4 617.9h0M118.3 619.1h0M103.2 622.0h0M108.9 617.0h0M101.1 618.3h0M102.1 615.4h0M110.9 616.7h0M107.4 619.2h0M112.2 614.2h0M103.2 613.7h0M82.9 619.5h0M118.5 607.6h0M112.1 621.7h0M103.5 625.2h0M124.5 615.6h0M129.1 612.8h0M99.7 622.5h0M100.4 615.7h0M96.5 630.1h0M100.9 620.2h0M99.9 621.1h0M103.4 618.0h0M93.1 617.9h0M99.4 621.9h0M126.9 615.2h0M123.9 614.2h0M103.9 614.5h0M103.8 611.6h0M105.1 624.7h0M110.5 621.1h0M101.1 615.3h0M101.2 618.8h0M119.8 620.9h0M98.8 619.7h0M104.5 617.9h0M94.6 622.8h0M110.1 618.6h0M94.7 622.0h0M90.8 627.1h0M96.3 620.9h0M101.4 618.1h0M94.3 616.2h0M123.0 613.7h0M111.1 624.4h0M106.0 620.6h0M107.8 622.3h0M111.4 617.9h0M104.2 620.2h0M115.1 608.0h0M104.7 617.6h0M101.3 613.1h0M112.3 613.4h0M103.6 617.6h0M90.1 622.5h0M87.9 621.4h0M103.4 619.5h0M106.7 617.9h0M127.1 613.0h0M94.1 620.5h0M99.9 620.1h0M99.7 617.7h0M122.0 613.3h0M102.9 618.8h0M105.8 623.7h0M112.1 620.6h0M77.2 629.7h0M118.6 621.4h0M104.8 612.9h0M111.3 614.7h0M88.7 622.3h0M117.7 618.9h0M112.0 612.8h0M128.9 606.6h0M104.1 614.1h0M119.3 615.7h0M114.9 615.9h0M105.9 619.3h0M89.6 627.8h0M114.6 614.3h0M106.6 619.5h0M121.8 614.8h0M106.3 616.7h0M91.6 621.5h0M106.8 617.5h0M108.0 620.7h0M110.9 618.0h0M112.9 617.0h0M106.7 620.1h0M91.5 628.1h0M95.2 625.4h0M107.8 622.0h0M105.8 615.3h0M116.9 615.6h0M107.7 618.4h0M116.9 617.9h0M107.0 612.8h0M102.8 620.1h0M124.0 613.9h0M107.0 622.6h0M105.5 618.8h0M106.4 613.2h0M116.1 616.8h0M102.6 615.7h0M110.1 622.3h0M99.3 617.2h0M108.8 612.0h0M85.1 624.3h0M99.8 619.8h0M101.7 621.4h0M103.8 617.3h0M103.0 622.0h0M116.7 618.3h0M109.6 605.6h0M96.8 620.7h0M106.8 612.6h0M120.4 614.9h0M100.9 621.0h0M102.5 617.2h0M110.9 615.4h0M92.6 621.0h0M104.4 615.4h0M117.4 610.9h0M124.3 615.7h0M97.9 622.0h0M117.6 614.1h0M95.5 622.7h0M123.9 607.3h0M111.9 616.7h0M105.1 617.6h0M104.8 622.9h0M111.3 613.4h0M120.0 609.3h0M113.2 616.9h0M118.5 615.8h0M116.7 615.0h0M116.3 616.5h0M126.3 609.3h0M118.6 616.1h0M107.8 616.1h0M109.4 612.3h0M94.6 625.2h0M93.6 628.2h0M104.5 620.2h0M108.0 619.6h0M103.7 618.2h0M106.8 622.3h0M118.9 618.9h0M110.0 616.7h0M91.6 626.0h0M114.3 614.5h0M115.9 620.0h0M108.9 621.6h0M107.8 611.9h0M101.9 618.7h0M110.9 614.0h0M101.6 616.8h0M106.5 618.8h0M116.9 617.9h0M108.6 618.7h0M108.0 618.5h0M118.7 605.5h0M105.5 620.1h0M116.3 611.3h0M111.0 620.1h0M100.5 613.8h0M102.1 615.8h0M112.0 613.7h0M123.8 613.2h0M98.6 619.5h0M96.9 623.3h0M120.7 613.0h0M114.5 612.5h0M112.3 624.9h0M94.9 627.0h0M115.8 608.6h0M92.2 620.0h0M115.5 614.0h0M106.0 621.3h0M108.2 618.8h0M105.0 623.2h0M101.3 626.4h0M102.7 617.0h0M113.4 617.9h0M88.3 625.6h0M93.1 620.2h0M113.3 613.2h0M109.7 616.1h0M125.0 611.9h0M94.4 618.8h0M98.3 621.8h0M107.8 621.6h0M108.5 618.4h0M109.6 617.0h0M110.3 620.1h0M113.5 614.2h0M89.1 621.6h0M106.6 609.6h0M102.7 621.5h0M100.1 616.7h0M124.8 617.3h0M105.7 623.6h0M117.7 610.7h0M131.0 606.8h0M102.9 615.8h0M105.9 614.0h0M107.7 622.0h0M108.3 617.0h0M120.2 610.6h0M115.4 614.4h0M108.6 617.9h0M107.7 617.9h0M98.5 619.2h0M110.6 616.7h0M94.7 620.0h0M99.9 620.6h0M108.3 618.2h0M100.3 620.7h0M90.3 613.7h0M104.1 613.4h0M96.1 617.7h0M111.0 612.6h0M108.4 616.0h0M92.9 617.4h0M111.1 618.2h0M115.6 621.9h0M109.2 618.5h0M105.2 619.2h0M101.9 616.8h0M123.0 606.0h0M109.1 619.1h0M106.5 614.9h0M103.8 617.6h0M95.9 621.8h0M101.6 618.0h0M111.4 612.9h0M109.5 615.1h0M110.2 617.3h0M107.2 614.6h0M97.7 618.3h0M108.4 620.3h0M115.6 613.4h0M105.0 613.0h0M84.0 622.9h0M97.9 615.7h0M89.7 626.0h0M96.5 615.7h0M128.0 611.5h0M103.6 621.7h0M100.4 626.0h0M89.9 619.3h0M103.7 616.5h0M117.3 608.8h0M99.1 621.6h0M112.1 619.9h0M111.4 624.5h0M101.4 620.6h0M113.4 614.7h0M102.4 618.0h0M98.3 617.0h0M98.7 615.3h0M107.4 612.2h0M126.9 617.3h0M115.8 614.3h0M101.4 624.3h0M107.9 619.7h0M99.9 624.2h0M98.1 621.4h0M88.5 622.0h0M109.7 615.4h0M102.2 622.5h0M106.2 622.7h0M83.3 628.1h0M108.6 611.9h0M94.2 625.5h0M94.7 619.9h0M110.7 615.5h0M109.0 614.2h0M109.4 621.0h0M106.1 610.4h0M111.6 616.6h0M98.4 625.9h0M91.1 630.1h0M101.2 625.6h0M103.6 614.4h0M106.7 619.3h0M111.7 620.2h0M97.5 623.0h0M112.1 615.3h0M95.6 618.5h0M113.4 618.6h0M96.1 616.9h0M115.4 609.5h0M106.0 615.4h0M89.0 624.6h0M105.2 623.7h0M126.6 610.6h0M116.2 618.5h0M99.5 617.4h0M120.2 612.1h0M104.8 617.7h0M103.5 617.0h0M113.8 620.1h0M100.4 615.3h0M104.3 613.6h0M100.7 624.5h0M127.7 612.2h0M96.2 624.4h0M83.5 623.5h0M120.6 616.0h0M90.6 617.6h0M113.4 615.6h0M100.3 621.7h0M97.9 614.2h0M112.3 613.8h0M94.5 617.5h0M106.9 615.1h0M111.0 615.6h0M115.2 613.8h0M97.1 614.3h0M95.9 624.3h0M132.8 604.6h0M96.0 622.9h0M109.2 614.8h0M104.4 613.1h0M103.6 622.3h0M120.6 612.7h0M103.5 620.8h0M116.4 616.5h0M98.7 622.1h0M113.7 613.1h0M93.4 624.4h0M109.9 620.4h0M105.6 616.2h0M100.2 616.6h0M95.9 619.8h0M102.1 623.6h0M93.9 622.3h0M101.5 625.2h0M107.5 616.5h0M113.2 616.1h0M102.7 624.9h0M114.1 621.7h0M117.2 617.3h0M105.5 614.6h0M112.3 616.4h0M111.9 616.3h0M97.9 617.5h0M113.5 620.4h0M103.3 620.9h0M117.6 611.4h0M101.1 616.0h0M116.9 615.5h0M99.4 614.7h0M105.0 622.3h0M102.3 618.1h0M110.2 612.5h0M106.7 620.2h0M97.3 618.4h0M107.8 617.4h0M103.6 619.9h0M106.7 614.8h0M99.8 622.1h0M117.6 619.2h0M98.8 624.7h0M112.7 616.0h0M111.1 619.6h0M121.3 609.4h0M111.1 616.1h0M104.9 622.8h0M112.2 612.6h0M103.2 620.1h0M93.3 625.8h0M105.1 619.3h0M110.8 623.2h0M105.6 617.2h0M121.4 611.3h0M99.2 615.8h0M116.1 615.9h0M110.3 617.5h0M103.6 616.4h0M98.8 622.4h0M108.6 623.3h0M98.0 619.4h0M97.6 626.2h0M95.0 624.9h0M119.0 613.4h0M110.2 609.4h0M100.3 614.5h0M107.3 618.0h0M99.5 624.0h0M108.5 615.7h0M99.3 615.5h0M106.3 625.8h0M99.5 622.1h0M101.5 622.8h0M109.6 616.4h0M88.5 622.6h0M116.7 613.9h0M111.1 615.0h0M88.7 625.8h0M108.1 615.6h0M102.6 620.6h0M100.6 621.5h0M101.3 611.7h0M103.7 617.1h0M98.4 622.5h0M101.8 621.8h0M116.1 615.5h0M90.5 621.1h0M114.0 614.8h0M98.1 620.8h0M110.8 617.7h0M110.9 613.8h0M102.9 618.6h0M103.3 611.9h0M102.1 615.0h0M120.5 619.0h0M122.4 615.7h0M102.3 623.1h0M104.6 621.1h0M96.7 619.5h0M112.1 622.6h0M108.0 625.7h0M130.2 605.6h0M104.5 615.6h0M103.9 617.2h0M106.2 621.8h0M114.9 616.3h0M106.0 618.9h0M107.6 619.9h0M106.4 620.1h0M94.5 625.2h0M122.4 613.5h0M94.1 627.3h0M99.5 610.0h0M104.5 621.1h0M110.8 621.2h0M111.8 616.9h0M86.2 621.3h0M108.3 620.1h0M95.6 619.8h0M108.2 610.9h0M87.4 624.0h0M107.7 616.2h0M84.4 625.9h0M94.1 624.8h0M105.2 619.7h0M111.3 614.8h0M115.0 619.8h0M111.0 621.5h0M101.0 623.4h0M107.3 614.5h0M104.6 617.1h0M100.8 620.5h0M115.5 614.1h0M105.4 613.4h0M108.1 621.8h0M114.0 617.4h0M99.9 617.1h0M103.5 614.5h0M95.4 625.5h0M99.2 627.2h0M93.0 624.5h0M95.1 622.8h0M96.2 622.0h0M103.9 617.6h0M112.3 621.7h0M101.3 623.2h0M106.6 618.1h0M124.1 604.5h0M97.5 614.9h0M102.7 618.8h0M142.0 607.4h0M124.1 616.9h0M102.3 621.4h0M121.7 613.7h0M108.4 619.4h0M90.9 620.7h0M109.6 619.2h0M96.9 620.4h0M104.6 618.4h0M112.5 616.6h0M105.9 613.5h0M96.3 622.9h0M91.2 624.5h0M98.8 618.0h0M111.2 614.3h0M97.1 619.1h0M109.4 627.1h0M85.9 625.2h0M104.6 622.3h0M99.6 611.8h0M117.1 610.8h0M103.7 614.3h0M95.0 620.4h0M114.8 618.4h0M100.7 622.0h0M102.4 620.1h0M107.9 620.0h0M99.8 620.1h0M107.9 618.1h0M100.1 626.6h0M102.2 622.4h0M109.0 621.7h0M87.4 632.1h0M102.4 615.3h0M109.4 625.3h0M109.1 612.9h0M102.8 624.3h0M92.3 622.4h0M105.3 626.4h0M104.4 623.6h0M98.4 618.1h0M115.8 617.3h0M90.1 626.1h0M111.0 614.5h0M108.0 618.7h0M100.5 618.2h0M99.1 619.8h0M93.1 622.6h0M91.7 623.6h0M103.7 615.5h0M115.8 621.9h0M116.6 609.9h0M117.9 615.1h0M104.5 616.8h0M107.1 623.0h0M110.3 615.4h0M98.9 619.3h0M113.2 622.6h0M95.7 621.9h0M101.2 617.3h0M110.0 619.0h0M91.2 619.8h0M117.2 615.7h0M110.0 615.2h0M102.6 621.2h0M99.8 616.6h0M106.6 621.4h0M97.1 625.2h0M111.3 613.5h0M105.7 618.3h0M112.3 618.6h0M92.0 618.4h0M115.4 615.6h0M109.9 618.2h0M118.7 609.7h0M115.0 612.4h0M113.9 620.4h0M93.1 624.2h0M102.7 618.5h0M104.9 615.0h0M97.3 623.7h0M112.9 614.0h0M94.5 630.5h0M116.3 616.1h0M95.4 619.9h0M106.9 614.7h0M120.8 613.8h0M108.2 614.0h0M96.3 618.9h0M107.9 616.8h0M103.3 620.4h0M109.4 622.5h0M102.7 615.9h0M107.1 623.2h0M100.5 620.4h0M102.7 620.9h0M107.2 615.1h0M104.5 622.2h0M116.8 617.9h0M113.3 614.7h0M103.3 622.6h0M94.7 622.1h0M88.0 623.2h0M97.8 616.9h0M110.2 614.3h0M102.0 618.9h0M100.3 625.3h0M101.3 620.7h0M93.0 621.2h0M102.3 618.6h0M100.4 620.8h0M120.0 613.1h0M103.9 617.7h0M131.0 615.5h0M111.6 619.0h0M98.9 620.3h0M107.7 618.2h0M96.9 618.8h0M110.8 617.8h0M86.2 625.5h0M116.8 612.4h0M106.3 613.1h0M112.2 612.3h0M93.7 621.5h0M127.0 609.0h0M94.5 624.0h0M109.6 623.0h0M92.2 617.5h0M103.2 620.7h0M110.2 620.8h0M90.9 620.6h0M105.4 621.6h0M109.6 615.7h0M97.2 624.5h0M117.4 624.0h0M105.8 624.2h0M93.9 620.6h0M98.9 619.2h0M97.0 619.6h0M104.7 617.3h0M111.7 616.1h0M107.3 623.2h0M108.8 618.0h0M105.6 618.8h0M110.1 614.2h0M118.0 619.8h0M115.9 613.3h0M90.5 622.2h0M108.0 620.6h0M103.7 618.1h0M119.1 611.6h0M116.5 618.0h0M93.7 623.6h0M99.5 617.3h0M86.9 619.4h0M109.1 616.0h0M107.1 614.3h0M102.4 618.7h0M89.6 618.2h0M109.9 617.6h0M96.9 621.1h0M113.8 622.2h0M98.1 623.3h0M125.4 612.0h0M116.5 605.7h0M119.1 613.9h0M89.1 626.9h0M116.7 619.0h0M116.8 614.6h0M98.3 619.4h0M105.8 619.9h0M101.3 620.2h0M114.2 616.7h0M129.3 618.0h0M94.4 620.4h0M92.3 619.0h0M109.7 613.6h0M95.7 621.0h0M112.7 614.8h0M103.4 622.5h0M110.6 618.4h0M113.4 612.3h0M107.0 615.8h0M116.1 617.8h0M97.4 626.1h0M96.1 625.9h0M106.7 615.1h0M95.0 621.1h0M104.7 616.3h0M109.4 612.3h0M105.6 618.5h0M88.6 625.4h0M91.2 614.6h0M99.7 619.7h0M113.6 614.1h0M121.0 618.4h0M117.3 619.2h0M108.3 615.6h0M112.8 619.5h0M107.6 617.0h0M91.8 625.6h0M107.5 613.3h0M107.4 620.5h0M105.5 621.3h0M111.1 611.4h0M103.4 621.0h0M115.8 620.0h0M87.7 624.4h0M113.7 620.1h0M120.4 610.1h0M101.1 616.3h0M111.9 611.7h0M117.8 617.7h0M107.9 610.0h0M100.2 623.0h0M92.2 622.3h0M105.7 621.7h0M108.6 618.5h0M101.6 619.9h0M105.2 621.2h0M105.1 622.4h0M91.1 627.8h0M105.3 622.6h0M107.4 620.9h0M119.0 612.0h0M106.2 617.7h0M105.8 612.7h0M103.8 618.3h0M98.1 620.4h0M92.8 627.9h0M111.9 623.1h0M96.2 617.6h0M106.5 612.3h0M107.0 615.5h0M102.8 620.4h0M108.1 624.3h0M110.1 612.4h0M113.3 611.1h0M105.1 614.3h0M99.3 625.3h0M99.7 618.2h0M100.0 619.3h0M117.8 610.1h0M94.7 624.3h0M90.3 622.4h0M116.2 614.9h0M100.3 617.8h0M96.4 619.6h0M108.2 622.0h0M114.0 613.6h0M99.5 623.1h0M88.1 622.9h0M101.3 616.0h0M96.6 622.8h0M89.0 620.9h0M99.5 620.8h0M93.8 626.3h0M102.3 618.7h0M101.3 617.5h0M97.5 625.3h0M107.2 617.5h0M113.9 613.1h0M111.2 616.6h0M97.9 623.8h0M92.1 625.3h0M97.5 622.6h0M118.8 615.9h0M99.6 620.3h0M100.5 616.0h0M95.0 622.2h0M108.3 611.2h0M105.1 620.3h0M105.1 615.0h0M113.5 611.3h0M112.9 621.5h0M86.4 625.8h0M108.3 618.2h0M97.6 620.0h0M92.2 623.4h0M109.3 614.7h0M95.9 620.0h0M105.0 618.7h0M104.1 619.0h0M89.9 614.0h0M112.3 621.0h0M91.1 620.9h0M108.8 620.6h0M112.4 620.5h0M104.9 620.0h0M108.3 615.8h0M116.8 616.6h0M113.6 614.2h0M113.4 611.9h0M105.8 609.0h0M96.4 624.0h0M101.0 620.5h0M91.6 628.5h0M110.5 616.5h0M109.2 618.2h0M118.3 614.7h0M91.0 622.4h0M117.4 616.2h0M101.7 621.8h0M106.7 620.1h0M89.3 620.7h0M110.9 615.7h0M110.3 623.6h0M102.3 620.3h0M99.1 618.3h0M102.7 614.2h0M87.0 629.5h0M105.2 622.4h0M106.2 618.6h0M111.9 618.6h0M95.1 626.1h0M96.2 622.2h0M128.7 610.7h0M120.0 612.1h0M110.7 616.7h0M107.9 614.5h0M96.8 622.5h0M89.6 620.8h0M110.2 614.5h0M95.6 617.8h0M105.9 616.9h0M106.1 617.4h0M121.6 611.3h0M87.0 625.1h0M105.2 619.0h0M91.4 627.1h0M104.6 618.5h0M90.9 625.0h0M105.8 622.9h0M99.8 615.9h0M105.2 615.2h0M107.6 613.8h0M103.5 618.2h0M104.1 617.0h0M97.4 620.9h0M99.8 620.8h0M100.1 612.3h0M105.9 623.0h0M108.4 619.4h0M108.7 615.6h0M93.6 625.2h0M115.3 617.0h0M109.3 618.4h0M105.0 619.4h0M105.4 619.5h0M95.6 619.5h0M109.8 615.7h0M83.0 626.5h0M86.1 631.6h0M112.3 618.3h0M97.7 617.1h0M103.1 619.2h0M98.1 621.4h0M111.9 618.2h0M93.3 615.0h0M104.3 616.5h0M110.8 622.2h0M120.2 614.3h0M116.8 620.1h0M105.8 619.2h0M112.8 615.7h0M99.8 617.7h0M104.5 616.6h0M112.0 615.0h0M119.6 617.7h0M95.0 625.7h0M102.9 624.0h0M109.7 616.8h0M110.7 614.7h0M108.6 618.7h0M104.3 620.1h0M96.8 623.3h0M94.9 624.2h0M110.2 619.2h0M103.4 629.5h0M103.4 619.7h0M100.0 625.2h0M102.1 623.0h0M97.1 622.4h0M103.0 622.5h0M101.8 616.8h0M108.2 613.5h0M97.6 623.8h0M89.4 626.6h0M100.9 616.9h0M108.3 619.7h0M100.0 619.8h0M113.4 618.3h0M104.2 616.3h0M96.4 619.6h0M112.2 618.2h0M109.7 621.8h0M102.5 618.3h0M104.1 625.5h0M87.5 625.7h0M109.7 617.3h0M127.7 614.9h0M111.6 613.4h0M109.7 615.9h0M106.3 619.0h0M102.1 621.9h0M121.3 616.7h0M105.7 612.0h0M116.6 618.5h0M103.6 617.6h0M110.8 614.0h0M111.8 612.8h0M97.6 621.4h0M92.9 622.9h0M109.2 612.9h0M113.5 614.0h0M111.0 617.5h0M101.3 618.3h0M90.0 621.6h0M100.7 625.8h0M113.5 611.3h0M113.3 616.7h0M103.0 621.1h0M112.4 614.4h0M103.7 619.8h0M97.4 622.1h0M104.5 616.7h0M98.8 622.0h0M114.1 616.8h0M99.1 623.4h0M108.1 619.8h0M115.3 612.2h0M104.1 617.1h0M100.3 627.2h0M112.5 610.3h0M109.2 615.5h0M116.2 615.3h0M104.6 619.5h0M109.4 617.4h0M103.9 618.8h0M109.3 613.6h0M105.8 618.1h0M102.4 622.2h0M94.2 621.3h0M99.0 622.7h0M101.9 620.1h0M107.7 612.5h0M109.2 614.9h0M103.6 618.9h0M113.9 618.3h0M121.8 613.7h0M101.3 618.4h0M113.4 621.3h0M108.4 615.7h0M108.7 618.4h0M105.5 616.2h0M83.0 624.6h0M115.5 616.0h0M86.5 625.2h0M91.7 630.1h0M106.4 614.3h0M112.2 613.7h0M111.0 616.9h0M96.3 624.1h0M95.5 626.6h0M105.5 615.2h0M91.6 628.8h0M117.5 610.3h0M120.7 614.0h0M104.0 618.9h0M105.1 623.6h0M105.4 612.5h0M125.4 614.8h0M96.0 620.7h0M98.1 621.4h0M109.7 618.0h0M99.9 617.9h0M113.4 615.6h0M125.1 609.3h0M113.0 616.3h0M100.7 624.9h0M106.2 615.4h0M104.2 622.5h0M96.6 626.3h0M111.8 615.6h0M119.8 619.6h0M111.5 617.2h0M123.9 617.4h0M97.6 620.7h0M103.7 617.9h0M93.7 625.8h0M106.8 618.5h0M117.9 612.5h0M105.8 619.5h0M102.1 619.5h0M112.8 616.1h0M117.0 612.2h0M106.3 613.6h0M104.2 616.7h0M118.9 616.6h0M112.4 622.5h0M119.6 616.3h0M98.4 616.2h0M105.4 617.5h0M99.9 619.6h0M92.8 628.1h0M95.1 619.9h0M109.4 611.8h0" stroke="#f5078e" stroke-width="1.20" stroke-linecap="round" fill="none" opacity="1.0"/>
<path d="M108.6 624.0h0M145.2 629.7h0M114.6 630.9h0M155.4 629.8h0M108.3 612.4h0M112.4 603.9h0M124.8 641.1h0M106.8 638.9h0M144.0 623.2h0M118.2 629.4h0M147.3 606.6h0M160.3 621.3h0M133.2 626.5h0M133.2 631.0h0M163.0 611.8h0M124.3 606.7h0M156.7 641.4h0M146.9 636.9h0M107.0 610.1h0M123.4 635.9h0M147.4 635.5h0M109.1 610.3h0M155.1 635.2h0M158.2 618.3h0M149.6 616.4h0M152.5 609.4h0M140.4 626.7h0M152.3 627.5h0M133.0 623.5h0M129.7 607.0h0M146.4 634.8h0M132.9 615.7h0M124.1 613.6h0M121.5 628.6h0M131.3 610.4h0M128.2 639.4h0M149.3 628.9h0M151.0 634.6h0M151.8 616.6h0M154.4 620.1h0M127.0 613.1h0M127.4 613.0h0M154.0 619.6h0M116.7 634.5h0M146.3 623.1h0" stroke="#f060b0" stroke-width="0.90" stroke-linecap="round" fill="none" opacity="0.9"/>
<path d="M224.8 615.9h0M215.3 611.9h0M201.8 625.1h0M215.9 610.9h0M181.2 620.4h0M187.7 629.6h0M211.1 610.8h0M210.8 629.0h0M223.2 603.4h0M206.3 609.8h0M188.4 623.6h0M243.3 612.3h0M209.9 613.2h0M214.3 619.4h0M188.2 612.4h0M234.5 608.3h0M230.9 609.3h0M227.9 605.7h0M219.0 620.6h0M222.3 608.5h0M220.4 608.0h0M192.6 624.1h0M229.4 613.2h0M195.3 625.0h0M218.0 609.9h0M179.7 631.2h0M222.3 613.7h0M185.1 615.5h0M224.4 614.7h0M216.0 611.8h0M214.2 610.8h0M204.5 612.3h0M212.6 612.0h0M223.6 614.6h0M202.6 627.9h0M196.2 622.4h0M226.2 616.8h0M183.1 630.0h0M228.3 616.9h0M180.0 621.7h0M208.0 613.4h0M226.3 605.8h0M226.9 612.5h0M189.4 616.7h0M204.1 617.8h0M222.6 609.9h0M219.1 603.3h0M215.4 611.3h0M197.6 621.8h0M235.0 606.1h0M199.1 614.2h0M235.6 606.2h0M220.1 618.6h0M222.5 605.8h0M223.9 615.1h0M218.1 618.1h0M202.6 617.3h0M204.5 621.3h0M202.2 620.1h0M195.5 619.5h0M205.1 616.2h0M211.4 613.7h0M203.6 605.8h0M223.3 607.2h0M205.4 612.2h0M221.5 606.2h0M218.6 618.8h0M233.5 613.8h0M216.0 606.5h0M228.9 615.4h0M222.3 615.5h0M210.2 612.3h0M226.3 616.7h0M198.1 624.4h0M214.8 618.5h0M215.6 619.5h0M225.0 615.1h0M193.7 625.4h0M208.9 609.4h0M217.0 605.3h0M224.7 619.7h0M205.3 622.0h0M217.2 616.4h0M193.8 624.2h0M213.3 618.3h0M212.3 620.6h0M215.0 617.4h0M228.4 610.1h0M223.6 611.9h0M216.2 610.3h0M222.5 617.9h0M210.7 619.5h0M214.1 607.9h0M217.2 620.2h0M201.2 608.6h0M212.0 611.1h0M234.8 606.7h0M209.4 612.1h0M212.7 611.3h0M198.8 618.9h0M202.3 625.3h0M195.4 620.0h0M199.4 611.5h0M226.8 601.9h0M215.5 625.9h0M181.0 617.8h0M227.6 610.3h0M203.5 617.5h0M198.4 620.0h0M229.0 606.8h0M214.3 620.5h0M234.9 603.6h0M213.4 611.1h0M201.6 616.1h0M199.5 609.5h0M183.9 620.3h0M214.2 620.6h0M203.5 616.7h0M220.2 616.0h0M209.0 615.5h0M233.9 605.4h0M201.5 609.4h0M215.6 612.0h0M234.3 605.2h0M222.4 616.2h0M229.4 601.6h0M230.5 608.4h0M208.7 614.2h0M204.9 615.3h0M181.6 627.9h0M209.7 610.3h0M213.6 626.7h0M214.7 611.7h0M231.0 603.9h0M207.6 613.2h0M208.7 619.8h0M216.7 609.1h0M209.0 616.2h0M205.2 616.8h0M200.1 614.8h0M209.3 610.0h0M215.5 612.5h0M197.7 616.2h0M204.1 616.5h0M211.6 613.7h0M201.8 626.0h0M222.1 611.8h0M223.1 612.7h0M207.3 616.8h0M245.9 608.5h0M223.0 608.8h0M221.8 623.6h0M217.6 618.6h0M227.4 612.9h0M230.8 609.5h0M215.7 610.0h0M244.3 605.3h0M214.1 621.5h0M204.3 617.3h0M200.6 618.7h0M206.4 619.5h0M207.8 612.9h0M206.5 615.9h0M205.5 622.0h0M219.1 613.0h0M196.3 622.9h0M194.6 621.6h0M210.0 612.2h0M198.8 615.4h0M235.8 605.1h0M209.4 620.7h0M217.4 618.5h0M193.2 615.3h0M252.2 600.7h0M207.0 617.2h0M220.9 605.2h0M213.9 613.9h0M219.1 613.2h0M202.3 613.3h0M181.4 630.4h0M191.3 619.6h0M230.6 606.0h0M217.7 611.6h0M219.2 612.3h0M206.2 623.9h0M204.8 609.9h0M207.1 619.2h0M197.7 623.8h0M223.5 622.1h0M203.4 621.1h0M188.8 620.4h0M212.4 616.7h0M209.5 615.0h0M202.0 615.7h0M215.1 616.6h0M220.0 617.2h0M222.3 601.5h0M203.6 616.7h0M204.0 623.0h0M219.6 611.5h0M214.0 620.8h0M205.5 615.2h0M222.5 613.6h0M228.7 610.9h0M218.8 609.4h0M198.6 619.2h0M177.9 628.5h0M222.6 611.4h0M209.4 621.4h0M211.5 620.1h0M238.9 609.3h0M222.9 613.6h0M214.0 615.5h0M213.0 620.1h0M189.8 620.8h0M217.2 608.4h0M207.9 612.3h0M217.3 617.5h0M229.3 611.4h0M201.8 619.5h0M219.8 619.5h0M184.3 626.1h0M188.8 626.4h0M216.7 615.7h0M222.0 613.3h0M202.9 619.6h0M225.1 609.5h0M208.8 609.3h0M224.0 607.9h0M200.4 616.2h0M199.3 617.7h0M227.6 613.6h0M230.6 616.2h0M200.0 621.3h0M232.8 619.8h0M190.5 614.4h0M215.7 611.6h0M198.6 621.3h0M196.9 607.8h0M210.3 615.9h0M219.8 617.0h0M212.2 613.3h0M199.4 610.2h0M206.5 621.8h0M221.8 622.2h0M205.5 607.4h0M222.3 616.6h0M193.2 612.5h0M213.4 618.0h0M195.8 618.4h0M198.7 612.9h0M194.1 621.5h0M204.6 613.6h0M180.7 634.7h0M198.3 618.6h0M196.7 621.9h0M191.6 622.1h0M209.4 620.4h0M195.5 616.8h0M210.7 626.2h0M192.4 622.9h0M202.6 619.5h0M218.6 613.1h0M213.9 615.4h0M202.5 616.7h0M189.0 620.6h0M200.2 617.3h0M219.9 613.9h0M217.8 618.5h0M181.2 627.4h0M209.7 614.8h0M194.8 623.4h0M226.1 615.2h0M210.1 618.6h0M224.5 620.0h0M225.6 610.7h0M211.5 615.6h0M212.1 611.9h0M218.5 608.6h0M200.7 620.3h0M202.5 616.5h0M185.5 627.8h0M209.8 614.6h0M216.2 614.2h0M204.6 627.7h0M206.0 621.8h0M231.8 604.4h0M209.9 610.9h0M222.6 609.1h0M198.5 626.2h0M220.0 607.1h0M225.1 611.1h0M246.6 611.8h0M202.7 616.3h0M199.3 619.6h0M211.8 618.5h0M208.7 607.8h0M202.2 625.4h0" stroke="#f070b8" stroke-width="1.00" stroke-linecap="round" fill="none" opacity="0.85"/>
<path d="M219.8 611.3h0M208.7 615.1h0M208.5 610.1h0M217.0 610.6h0M208.7 607.2h0M213.4 618.5h0M192.4 626.3h0M213.3 611.6h0M197.6 623.3h0M212.8 616.2h0M206.9 613.6h0M216.5 609.8h0M216.0 607.6h0M200.6 613.6h0M219.5 606.1h0M200.9 620.5h0M214.2 621.1h0M226.4 611.6h0M214.1 607.7h0M202.1 616.8h0M207.1 611.6h0M201.1 615.4h0M219.6 613.3h0M206.9 615.4h0M211.8 612.3h0M206.0 610.8h0M216.7 616.1h0M213.6 615.6h0M215.2 620.2h0M210.4 610.6h0M201.7 620.4h0M220.0 614.4h0M217.4 613.3h0M196.5 617.5h0M194.0 619.4h0M198.3 619.5h0M206.5 609.9h0M217.1 615.3h0M198.1 619.7h0M215.8 612.2h0M217.5 613.2h0M219.4 612.6h0M209.0 617.2h0M216.9 613.6h0M205.2 614.2h0M206.1 614.6h0M211.8 615.1h0M209.2 615.4h0M213.0 619.4h0M219.7 609.9h0M213.2 613.0h0M208.8 614.8h0M203.1 613.0h0M188.8 623.1h0M219.2 609.0h0M213.8 612.5h0M211.4 611.9h0M207.7 615.6h0M189.4 622.9h0M206.1 608.1h0M215.4 613.2h0M211.9 615.7h0M205.1 613.2h0M205.5 615.2h0M231.0 614.2h0M205.1 615.4h0M213.2 615.9h0M202.7 614.2h0M227.7 612.6h0M194.4 614.5h0M202.8 618.3h0M214.1 612.5h0M195.9 620.7h0M215.0 613.4h0M206.0 618.4h0M208.1 612.0h0M209.2 611.0h0M218.6 613.7h0M201.2 618.8h0M218.4 605.0h0M210.2 620.6h0M196.0 619.3h0M197.2 619.3h0M187.0 617.5h0M205.1 617.2h0M213.5 615.4h0M220.5 613.9h0M215.1 610.0h0M211.6 625.4h0M230.5 610.9h0M217.2 616.0h0M208.2 622.4h0M206.3 616.1h0M226.7 602.3h0M211.1 608.8h0M203.8 616.9h0M206.8 616.8h0M202.8 617.2h0M198.8 617.6h0M198.1 621.4h0M199.0 621.2h0M205.7 615.5h0M220.3 612.0h0M193.4 622.5h0M184.3 624.8h0M204.7 612.1h0M210.1 614.0h0M227.0 607.7h0M228.4 613.6h0M203.4 614.5h0M221.3 610.8h0M210.9 613.9h0M198.5 617.7h0M199.5 613.4h0M209.0 621.6h0M224.0 610.1h0M211.5 616.4h0M222.2 612.0h0M205.0 615.4h0M222.6 619.8h0M201.9 610.8h0M216.9 612.5h0M212.3 618.6h0M208.9 610.9h0M192.1 621.1h0M199.7 619.6h0M197.9 618.0h0M196.2 618.6h0M206.3 618.4h0M221.5 610.5h0M204.1 623.9h0M213.6 616.0h0M216.7 617.9h0M219.5 614.2h0M215.7 610.2h0M204.2 616.7h0M210.6 615.0h0M212.5 614.3h0M204.2 611.5h0M217.9 614.5h0M202.4 619.4h0M213.4 614.2h0M192.0 617.1h0M206.1 622.1h0M201.7 616.8h0M199.3 617.1h0M210.6 607.7h0M185.0 626.0h0M209.4 613.2h0M219.5 615.2h0M190.8 621.1h0M219.0 609.7h0M207.9 619.1h0M206.1 612.3h0M202.2 613.2h0M212.9 608.1h0M217.0 607.0h0M208.6 610.5h0M208.0 619.4h0M221.2 615.8h0M209.1 615.8h0M212.5 616.4h0M207.3 619.9h0M213.9 617.8h0M214.8 615.8h0M202.7 616.1h0M197.8 618.3h0M209.0 618.3h0M201.9 629.2h0M210.0 619.5h0M216.4 604.1h0M209.0 620.6h0M188.8 625.1h0M201.0 616.6h0M209.7 608.7h0M210.8 612.6h0M203.7 619.7h0M241.6 605.5h0M214.6 613.3h0M203.5 618.2h0M223.6 611.1h0M217.5 611.7h0M230.6 602.3h0M215.5 615.1h0M210.9 610.9h0M199.2 618.0h0M209.3 611.1h0M200.7 620.2h0M218.4 610.3h0M202.6 615.1h0M232.5 609.1h0M210.1 618.5h0M231.5 611.8h0M196.7 619.3h0M205.6 615.4h0M198.3 617.7h0M200.2 619.6h0M208.5 610.6h0M193.7 619.0h0M216.0 614.7h0M205.5 605.1h0M204.4 614.4h0M205.3 612.4h0M205.0 614.5h0M234.8 609.0h0M207.8 615.6h0M208.7 616.2h0M205.9 616.4h0M219.7 614.6h0M213.8 618.4h0M210.6 611.4h0M193.1 618.4h0M209.5 616.6h0M218.7 610.1h0M203.2 620.1h0M219.7 610.1h0M214.1 618.5h0M212.4 614.0h0M192.3 625.8h0M215.5 613.6h0M204.1 612.7h0M208.6 615.2h0M218.2 608.0h0M222.6 610.9h0M219.3 608.5h0M214.0 617.9h0M209.1 610.2h0M207.2 617.9h0M195.4 615.0h0M210.7 611.5h0M214.5 609.4h0M192.2 618.4h0M222.1 607.9h0M209.8 616.0h0M202.2 621.5h0M211.7 616.0h0M192.6 614.9h0M184.6 623.1h0M208.3 618.2h0M222.7 609.8h0M207.7 617.4h0M222.5 607.9h0M215.0 612.5h0M207.5 618.8h0M201.4 614.3h0M215.6 613.1h0M207.1 615.6h0M213.7 612.5h0M217.0 614.1h0M224.3 614.6h0M217.1 611.9h0M210.1 613.0h0M235.1 605.7h0M216.1 617.7h0M196.5 616.8h0M205.0 613.3h0M197.7 617.5h0M222.1 613.5h0M210.0 615.2h0M195.5 622.5h0M212.3 610.5h0M211.3 614.0h0M204.0 613.7h0M202.6 614.3h0M214.2 614.9h0M212.4 613.6h0M208.2 622.8h0M194.2 624.7h0M212.9 614.3h0M204.9 616.1h0M197.6 614.5h0M206.9 610.4h0M218.4 616.1h0M212.4 615.0h0M211.2 616.2h0M217.3 615.6h0M225.8 609.8h0M215.7 607.5h0M207.2 611.8h0M224.7 618.2h0M213.2 609.5h0M208.8 615.6h0M212.7 618.0h0M215.5 604.0h0M221.5 609.4h0M206.2 621.3h0M205.9 611.7h0M197.9 619.5h0M219.5 617.1h0M207.7 614.3h0M223.9 608.8h0M223.1 611.4h0M211.6 613.7h0M211.9 612.8h0M203.5 616.9h0M204.3 618.2h0M210.3 614.1h0M207.7 615.1h0M225.4 609.8h0M204.1 616.1h0M215.5 612.5h0M208.1 614.9h0M211.7 615.9h0M212.0 608.7h0M197.4 610.3h0M218.1 616.2h0M221.6 611.6h0M220.0 611.5h0M207.0 610.8h0M202.1 615.8h0M219.8 617.5h0M205.9 617.8h0M211.4 611.9h0M193.5 618.1h0M196.5 618.6h0M208.3 615.1h0M208.8 617.2h0M202.3 620.8h0M194.8 620.5h0M212.4 611.5h0M196.1 622.1h0M204.5 619.7h0M216.6 612.8h0M210.8 618.3h0M212.1 611.1h0M211.8 616.4h0M211.7 615.2h0M208.3 615.3h0M199.8 613.6h0M219.1 609.8h0M210.1 609.8h0M210.3 612.1h0M235.2 602.9h0M202.1 621.1h0M217.7 605.2h0M212.9 617.1h0M199.5 621.1h0M203.9 613.7h0M206.1 614.8h0M199.7 626.4h0M204.9 614.3h0M217.3 612.4h0M221.3 610.3h0M212.9 614.4h0M211.0 614.0h0M210.6 620.7h0M203.1 615.6h0M207.2 618.0h0M214.3 616.9h0M198.0 620.1h0M207.8 614.8h0M209.1 608.6h0M212.3 614.8h0M196.9 619.3h0M223.1 609.3h0M214.8 612.7h0M201.5 614.8h0M207.5 620.4h0M216.2 610.5h0M218.5 611.8h0M204.0 618.6h0M199.9 613.1h0M219.3 605.6h0M212.9 608.8h0M209.2 614.7h0M203.5 609.8h0M208.7 615.4h0M201.7 617.7h0M217.8 610.0h0M210.8 610.9h0M213.8 616.0h0M232.7 610.4h0M215.1 618.2h0M202.0 621.5h0M204.3 614.9h0M219.7 612.6h0M220.0 606.7h0M211.6 612.8h0M205.4 610.1h0M218.3 613.0h0M199.6 614.0h0M203.6 622.1h0M208.6 614.5h0M214.2 613.7h0M212.6 616.8h0M213.7 616.9h0M199.4 619.0h0M206.8 616.6h0M208.8 613.4h0M207.8 619.2h0M203.7 613.1h0M216.2 616.4h0M207.7 616.4h0M202.3 617.1h0M220.5 614.3h0M211.0 613.9h0M195.9 621.1h0M215.1 617.0h0M228.1 610.3h0M217.2 608.9h0M221.5 614.2h0M222.7 613.2h0M215.5 618.4h0M204.8 619.2h0M218.7 609.5h0M200.4 620.0h0M211.8 616.7h0M214.9 610.9h0M214.2 617.6h0M206.7 615.4h0M201.1 621.1h0M225.8 605.2h0M217.7 615.7h0M204.8 615.7h0M200.1 616.0h0M212.3 616.7h0M212.1 617.5h0M210.7 611.0h0M224.1 614.5h0M205.8 622.7h0M214.4 614.2h0M224.4 601.8h0M196.9 622.2h0M207.1 613.1h0M223.9 612.2h0M198.4 617.0h0M219.5 618.1h0M193.0 622.0h0M205.1 611.0h0M207.1 610.8h0M207.2 621.7h0M215.6 616.0h0M215.9 614.5h0M217.6 608.7h0M208.0 618.9h0M203.5 616.1h0M222.5 616.3h0M204.2 614.5h0M215.8 614.3h0M205.1 619.0h0M215.3 613.8h0M237.6 610.5h0M218.6 615.9h0M237.5 609.6h0M204.4 618.3h0M210.5 613.3h0M212.9 615.2h0M209.4 613.9h0M216.0 607.8h0M217.7 612.8h0M210.3 607.1h0M223.4 604.9h0M203.5 619.8h0M204.7 615.8h0M190.3 620.6h0M213.0 616.6h0M208.1 616.7h0M213.6 611.8h0M205.9 623.5h0M204.2 621.5h0M212.6 619.5h0M205.4 618.7h0M213.1 613.5h0M212.4 611.9h0M209.3 614.2h0M217.1 612.6h0M197.8 618.3h0M208.6 612.7h0M222.6 612.4h0M217.1 610.3h0M208.0 619.5h0M198.2 620.6h0M210.7 613.4h0M210.1 611.6h0M211.2 610.8h0M200.7 623.3h0M202.1 610.8h0M218.2 609.9h0M179.3 625.7h0M219.0 613.5h0M225.5 609.6h0M214.7 610.3h0M213.5 619.4h0M215.1 614.2h0M192.6 620.0h0M199.9 621.5h0M204.3 618.5h0M203.6 624.0h0M200.2 619.2h0M233.9 607.9h0M203.4 619.7h0M220.2 614.9h0M193.3 621.8h0M193.6 627.5h0M210.6 613.6h0M216.9 614.7h0M201.7 623.8h0M206.5 610.5h0M224.5 615.7h0M222.2 613.1h0M203.6 620.8h0M227.9 612.1h0M223.9 607.9h0M220.5 615.0h0M195.5 614.7h0M204.2 617.6h0M214.3 613.1h0M209.8 615.1h0M211.9 616.7h0M214.9 613.5h0M212.4 613.0h0M217.1 611.2h0M225.1 610.1h0M212.2 612.0h0M207.6 616.8h0M210.0 613.2h0M200.2 618.9h0M212.5 616.4h0M221.3 610.4h0M192.6 620.9h0M192.7 616.9h0M220.3 613.8h0M204.1 615.2h0M207.9 610.0h0M214.5 612.7h0M225.9 606.3h0M218.8 610.0h0M218.6 609.0h0M216.6 611.6h0M203.0 617.3h0M215.2 615.0h0M225.6 612.9h0M186.6 622.0h0M192.3 620.1h0M214.7 609.1h0M200.2 619.3h0M209.7 621.0h0M214.0 615.9h0M225.7 608.3h0M209.5 612.1h0M214.0 617.6h0M222.8 610.9h0M203.4 615.0h0M198.2 619.9h0M220.2 603.7h0M192.6 626.2h0M196.5 621.2h0M200.1 621.5h0M217.8 613.3h0M218.1 612.8h0M217.6 619.2h0M219.8 609.8h0M203.2 616.9h0M208.7 616.1h0M205.9 619.1h0M211.4 616.2h0M211.4 617.1h0M201.6 623.8h0M214.3 615.5h0M217.3 616.7h0M217.6 613.7h0M207.3 610.6h0M212.3 613.6h0M210.5 623.7h0M194.1 621.1h0M222.7 614.5h0M220.5 607.4h0M202.8 620.1h0M209.9 621.5h0M213.0 615.1h0M214.5 613.0h0M211.1 612.7h0M210.0 613.8h0M211.6 610.0h0M197.9 621.2h0M211.8 611.5h0M207.7 612.6h0M227.5 604.0h0M225.4 607.4h0M214.4 613.1h0M208.4 619.3h0M217.9 611.8h0M204.9 624.5h0M223.6 611.3h0M208.5 617.0h0M212.9 618.7h0M202.2 618.2h0M205.2 621.7h0M227.0 609.4h0M217.3 617.9h0M207.2 613.2h0M220.8 613.6h0M210.6 620.4h0M211.1 608.9h0M214.0 614.0h0M227.8 609.4h0M209.5 617.2h0M211.6 610.1h0M211.6 613.8h0M226.1 618.4h0M199.8 615.6h0M202.7 615.7h0M204.8 617.5h0M219.3 607.8h0M195.1 614.2h0M222.3 615.9h0M195.4 614.8h0M213.3 618.2h0M220.3 612.7h0M217.4 614.1h0M208.0 622.9h0M209.7 611.7h0M205.1 611.8h0M212.3 618.6h0M200.8 622.6h0M230.2 609.9h0M199.6 616.1h0M206.6 612.2h0M199.4 618.2h0M210.0 617.7h0M202.2 624.7h0M221.4 614.7h0M207.0 622.6h0M209.8 621.9h0M219.6 609.1h0M208.9 622.4h0M219.8 611.6h0M213.0 615.2h0M203.8 617.0h0M204.6 615.9h0M214.1 610.8h0M217.6 613.3h0M218.8 615.6h0M222.8 613.3h0M217.1 612.5h0M215.1 610.6h0M209.5 618.3h0M211.0 616.8h0M202.9 622.7h0M206.2 618.2h0M211.8 618.2h0M206.4 613.3h0M193.5 620.1h0M200.8 620.6h0M221.6 603.8h0M199.7 620.2h0M222.4 612.4h0M214.4 615.8h0M217.9 618.6h0M215.1 609.4h0M206.9 617.3h0M203.4 616.9h0M205.5 614.6h0M216.8 611.8h0M200.3 616.3h0M213.6 621.7h0M214.9 619.1h0M213.1 606.9h0M213.5 611.4h0M197.6 616.0h0M225.4 604.7h0M206.6 620.8h0M215.1 607.8h0M209.4 613.9h0M210.0 618.2h0M205.4 616.0h0M222.2 604.9h0M208.1 617.8h0M199.0 617.1h0M199.2 619.8h0M206.1 619.6h0M220.2 612.2h0M207.8 617.2h0M210.1 611.2h0M220.9 612.6h0M216.6 608.5h0M221.1 619.1h0M214.9 608.7h0M211.2 614.9h0M212.6 613.8h0M214.9 612.2h0M212.2 612.3h0M212.9 618.0h0M207.2 618.8h0M202.4 616.8h0M210.1 619.9h0M205.3 621.4h0M197.4 619.3h0M219.9 614.6h0M200.4 614.5h0M217.5 608.5h0M215.6 611.8h0M213.3 622.5h0M225.8 613.0h0M198.7 620.5h0M211.2 614.7h0M221.1 605.6h0M213.9 614.6h0M205.9 623.0h0M199.4 619.2h0M209.2 608.0h0M196.8 616.6h0M219.0 615.7h0M216.5 614.1h0M191.1 622.7h0M207.4 620.5h0M225.5 618.1h0M218.1 615.6h0M201.5 618.7h0M200.5 621.9h0M199.7 618.2h0M202.8 616.3h0M214.3 612.0h0M211.7 611.3h0M222.8 608.8h0M222.3 618.8h0M187.5 619.7h0M210.2 619.5h0M206.8 617.9h0M204.7 619.3h0M200.6 621.6h0M181.4 618.6h0M227.5 610.1h0M205.0 625.0h0M221.6 615.5h0M207.6 618.5h0M213.6 608.3h0M216.0 612.8h0M223.9 615.3h0M204.2 615.3h0M213.2 616.7h0M206.8 616.1h0M216.8 614.6h0M221.6 612.3h0M200.6 612.4h0M217.8 611.6h0M207.2 615.4h0M195.8 618.9h0M186.4 622.1h0M204.5 623.9h0M214.6 613.1h0M213.0 617.0h0M203.5 616.9h0M210.1 624.3h0M209.2 608.7h0M220.8 621.0h0M205.7 629.4h0M211.2 618.6h0M205.2 616.1h0M198.1 615.7h0M192.1 625.6h0M200.5 620.0h0M213.0 612.1h0M211.0 614.7h0M206.1 616.9h0M210.0 611.8h0M197.7 616.6h0M213.3 619.3h0M224.6 611.6h0M219.5 612.6h0M221.0 612.1h0M213.9 613.0h0M212.6 621.3h0M199.5 619.0h0M206.2 620.2h0M227.1 608.4h0M185.5 626.0h0M214.4 607.8h0M208.3 615.8h0M189.8 624.7h0M214.9 614.6h0M199.9 616.3h0M205.2 618.8h0M203.0 623.1h0M211.7 607.0h0M226.4 610.3h0M205.5 617.3h0M193.7 621.6h0M186.5 619.7h0M224.5 615.0h0M206.2 613.2h0M219.1 612.1h0M213.2 616.6h0M201.3 621.2h0M192.4 626.7h0M195.1 618.2h0M205.0 619.7h0M217.8 614.0h0M216.0 615.0h0M207.6 609.2h0M186.3 615.1h0M209.7 614.6h0M209.4 616.4h0M207.1 612.7h0M194.2 613.8h0M222.8 614.3h0M197.4 618.7h0M216.3 619.0h0M204.9 617.7h0M219.3 605.8h0M203.4 617.4h0M205.9 624.4h0M218.7 613.1h0M202.3 621.1h0M215.7 611.5h0M204.6 611.8h0M210.6 618.3h0M220.4 613.9h0M217.4 610.6h0M207.2 620.6h0M213.6 611.2h0M215.9 616.3h0M217.0 613.3h0M205.9 618.2h0M226.3 610.2h0M204.4 618.5h0M199.0 619.9h0M208.5 619.3h0M212.4 618.3h0M231.6 607.1h0M202.9 619.4h0M209.6 615.9h0M205.2 618.9h0M208.5 608.0h0M208.4 617.0h0M220.6 609.5h0M204.0 621.5h0M204.6 617.5h0M215.5 616.1h0M209.1 611.6h0M219.2 610.6h0M207.6 623.4h0M217.3 608.9h0M205.4 615.9h0M201.1 611.4h0M218.6 615.2h0M212.0 613.1h0M212.9 616.6h0M200.1 617.5h0M205.8 619.2h0M211.2 610.2h0M206.4 622.9h0M201.3 618.8h0M205.7 621.2h0M209.1 614.0h0M199.0 618.2h0M218.6 614.7h0M199.6 624.5h0M206.7 612.6h0M210.7 612.8h0M204.1 615.0h0M208.8 613.9h0M194.8 622.3h0M206.6 620.7h0M215.8 615.5h0M213.3 618.8h0M206.0 613.0h0M210.3 605.3h0M206.9 617.1h0M207.6 620.6h0M216.7 613.3h0M207.6 620.0h0M203.3 616.0h0M217.7 614.7h0M228.8 608.0h0M193.4 623.3h0M221.6 610.7h0M226.5 616.0h0M203.4 615.8h0M199.0 620.9h0M217.4 614.9h0M197.8 616.7h0M195.0 614.6h0M195.8 614.4h0M208.8 617.1h0M215.8 613.1h0M203.8 617.3h0M215.0 612.4h0M210.2 614.0h0M205.2 617.0h0M200.8 622.1h0M196.1 621.6h0M199.1 624.4h0M217.2 609.8h0M204.6 613.0h0M209.9 616.7h0M232.2 602.7h0M220.8 609.4h0M213.5 617.2h0M215.5 614.8h0M208.2 615.8h0M212.7 618.6h0M195.9 618.3h0M197.4 616.1h0M203.8 621.3h0M231.3 612.8h0M199.1 619.2h0M200.0 620.2h0M222.4 613.1h0" stroke="#f5078e" stroke-width="1.20" stroke-linecap="round" fill="none" opacity="1.0"/>
<path d="M238.1 641.2h0M212.2 628.0h0M240.5 627.6h0M217.8 642.9h0M219.4 619.6h0M218.6 634.0h0M261.5 606.2h0M259.6 612.5h0M269.6 623.2h0M259.0 632.4h0M241.4 610.2h0M234.7 635.8h0M246.0 626.0h0M248.7 608.4h0M269.8 604.5h0M231.3 618.9h0M264.8 635.9h0M267.6 642.1h0" stroke="#f060b0" stroke-width="0.90" stroke-linecap="round" fill="none" opacity="0.9"/>
<path d="M316.3 612.5h0M317.7 619.3h0M311.5 616.0h0M304.0 622.9h0M309.1 621.3h0M302.0 628.2h0M306.1 626.1h0M311.7 621.4h0M315.2 621.4h0M317.5 624.4h0M324.1 619.6h0M333.5 609.7h0M330.3 614.8h0M300.4 623.3h0M315.7 627.3h0M310.7 618.7h0M316.4 606.1h0M320.4 610.6h0M333.3 623.6h0M314.1 608.4h0M318.2 617.9h0M323.5 614.0h0M302.8 619.1h0M307.9 629.3h0M307.5 615.2h0M314.1 610.4h0M311.0 617.5h0M310.4 617.0h0M330.1 617.0h0M300.9 617.8h0M323.4 612.0h0M316.9 617.0h0M321.6 615.1h0M313.5 612.8h0M318.9 611.3h0M334.9 613.3h0M314.5 622.2h0M315.2 618.0h0M314.6 613.3h0M305.1 615.4h0M327.6 611.3h0M311.1 615.7h0M325.9 626.9h0M306.5 622.4h0M317.0 615.3h0M320.1 609.0h0M325.3 616.7h0M306.9 628.5h0M326.6 621.9h0M299.8 619.0h0M311.0 622.0h0M328.6 603.6h0M316.1 616.5h0M326.9 614.9h0M301.9 619.0h0M303.8 615.2h0M315.9 614.5h0M317.3 608.2h0M342.7 619.3h0M322.4 608.5h0M291.5 617.2h0M316.0 630.3h0M329.6 611.5h0M330.6 621.5h0M317.6 624.1h0M318.9 612.9h0M303.1 619.2h0M325.3 607.5h0M299.1 623.9h0M288.5 633.5h0M312.0 622.4h0M334.6 605.0h0M307.1 632.2h0M312.8 617.2h0M319.7 622.7h0M330.6 615.0h0M312.3 617.8h0M320.8 624.0h0M319.5 627.2h0M307.3 622.2h0M336.6 620.6h0M318.6 611.6h0M308.1 618.0h0M319.1 615.2h0M299.3 616.4h0M322.6 620.8h0M300.3 618.3h0M297.1 617.8h0M354.7 609.8h0M311.6 614.8h0M300.7 609.5h0M315.2 615.8h0M330.2 604.9h0M322.3 623.9h0M295.4 625.3h0M299.0 623.8h0M332.1 614.0h0M318.3 612.8h0M320.4 623.0h0M313.8 616.9h0M321.2 621.1h0M298.2 621.3h0M309.1 621.6h0M327.7 616.8h0M329.0 608.9h0M310.4 612.6h0M316.8 617.7h0M312.5 610.9h0M314.7 615.0h0M322.3 614.5h0M329.0 616.0h0M295.6 620.4h0M301.5 625.9h0M331.6 614.0h0M319.2 608.2h0M290.9 619.2h0M311.5 609.4h0M317.4 618.9h0M324.8 624.6h0M324.4 613.5h0M317.9 620.4h0M306.1 627.1h0M325.6 614.0h0M313.4 640.1h0M326.3 620.7h0M336.8 618.8h0M319.1 620.8h0M306.9 623.4h0M299.7 623.1h0M320.4 607.3h0M335.7 606.6h0M326.9 612.0h0M318.7 612.9h0M344.5 617.6h0M336.8 617.7h0M323.9 616.7h0M314.3 621.3h0M317.8 616.2h0M300.8 618.7h0M322.3 613.4h0M319.9 615.8h0M303.9 614.6h0M307.8 617.4h0M314.7 624.2h0M302.1 608.3h0M323.2 613.3h0M317.9 632.0h0M333.0 617.5h0M326.8 616.0h0M326.1 611.8h0M308.0 616.3h0M335.4 622.7h0M311.0 625.3h0M315.8 623.8h0M314.0 623.5h0M314.8 616.0h0M316.3 618.3h0M308.5 611.0h0M334.5 611.4h0M293.9 608.7h0M285.0 620.2h0M329.4 605.2h0M310.8 607.8h0M328.9 617.0h0M321.5 624.3h0M335.6 619.6h0M308.6 611.2h0M303.0 609.9h0M336.0 612.3h0M318.1 618.3h0M337.9 609.8h0M329.8 616.5h0M312.6 606.9h0M325.7 611.2h0M311.7 619.7h0M318.8 623.6h0M309.3 619.9h0M319.6 617.0h0M323.7 614.5h0M328.9 610.8h0M300.7 620.4h0M328.9 611.9h0M309.2 616.9h0M318.1 616.1h0M317.9 607.0h0M333.6 617.4h0M308.6 627.1h0M323.1 624.8h0M305.5 629.4h0M314.7 605.7h0M324.4 614.1h0M305.1 618.5h0M295.9 625.1h0M313.8 616.4h0M332.1 614.5h0M308.2 613.5h0M317.1 623.6h0M308.9 612.9h0M326.7 615.7h0M318.6 629.3h0" stroke="#f070b8" stroke-width="1.00" stroke-linecap="round" fill="none" opacity="0.85"/>
<path d="M307.3 619.9h0M302.7 619.0h0M321.6 620.5h0M307.3 622.3h0M322.2 615.7h0M335.0 613.6h0M310.0 620.2h0M303.4 625.7h0M323.5 614.5h0M321.4 618.3h0M330.5 612.2h0M305.1 612.2h0M313.0 612.3h0M315.3 619.1h0M312.3 614.7h0M325.2 614.8h0M318.8 620.4h0M305.8 616.1h0M335.1 613.0h0M308.3 618.1h0M311.1 613.9h0M313.2 617.9h0M316.6 619.3h0M302.1 614.8h0M322.0 614.6h0M325.8 616.6h0M306.0 621.4h0M308.9 619.8h0M327.1 623.0h0M316.3 619.9h0M319.2 619.7h0M296.8 619.9h0M318.9 618.6h0M311.2 621.4h0M324.7 615.9h0M314.4 616.5h0M318.2 621.3h0M327.3 613.4h0M308.7 616.0h0M323.9 616.7h0M318.9 618.6h0M319.1 616.4h0M308.0 616.8h0M317.5 618.6h0M313.2 616.5h0M326.3 613.6h0M317.8 615.9h0M308.8 613.4h0M311.7 615.3h0M321.9 612.0h0M313.7 620.3h0M315.8 619.3h0M321.4 610.3h0M312.6 614.6h0M326.4 614.9h0M321.3 622.6h0M313.7 618.2h0M319.2 615.8h0M326.3 618.3h0M323.9 616.0h0M313.5 616.7h0M312.4 612.2h0M319.6 619.7h0M315.9 615.7h0M316.8 618.1h0M320.0 623.2h0M310.2 619.9h0M321.5 616.6h0M313.8 614.2h0M312.4 620.7h0M326.7 612.9h0M320.2 618.5h0M324.0 616.7h0M320.2 619.8h0M307.7 619.3h0M301.8 613.2h0M309.1 613.3h0M320.8 620.1h0M313.9 617.4h0M314.4 616.8h0M317.6 618.4h0M312.3 615.3h0M313.0 620.9h0M314.2 623.0h0M315.5 622.5h0M306.9 616.8h0M320.2 618.3h0M316.6 624.7h0M317.0 618.3h0M313.2 623.9h0M322.9 617.5h0M304.4 621.1h0M313.1 619.4h0M322.5 613.4h0M318.5 620.1h0M317.2 616.0h0M308.0 616.6h0M307.6 622.7h0M316.2 613.0h0M315.3 612.9h0M292.8 626.4h0M323.9 610.5h0M311.1 619.1h0M312.8 615.0h0M312.3 617.3h0M312.3 618.9h0M314.0 615.1h0M315.3 611.6h0M325.7 609.2h0M315.9 618.7h0M319.5 617.6h0M324.8 611.6h0M315.8 618.0h0M312.2 616.1h0M325.2 613.0h0M312.5 617.1h0M314.8 618.2h0M315.0 618.9h0M317.5 618.8h0M325.7 612.4h0M328.0 613.4h0M321.2 616.9h0M312.7 611.1h0M327.5 612.4h0M311.2 622.2h0M318.1 623.7h0M329.0 617.3h0M318.6 619.6h0M306.7 619.9h0M316.9 615.5h0M317.0 612.0h0M323.7 620.4h0M306.8 619.8h0M327.8 616.5h0M307.9 615.5h0M323.7 622.3h0M308.3 619.1h0M310.3 617.5h0M318.4 616.7h0M312.6 625.5h0M314.9 617.0h0M324.3 615.7h0M315.3 620.9h0M309.1 621.4h0M324.1 618.1h0M314.9 617.6h0M303.5 619.4h0M318.9 619.9h0M316.9 615.8h0M310.0 618.4h0M318.0 621.3h0M315.9 615.6h0M315.0 615.9h0M312.9 610.2h0M303.7 615.6h0M319.5 616.4h0M318.0 621.1h0M309.4 622.8h0M318.5 614.3h0M326.0 610.3h0M307.8 618.3h0M319.0 616.1h0M300.4 619.5h0M317.3 626.1h0M326.2 615.7h0M308.4 620.1h0M307.8 619.7h0M318.5 615.4h0M317.7 615.8h0M313.0 623.4h0M320.1 615.4h0M310.7 619.1h0M320.8 619.4h0M327.1 616.7h0M309.4 625.9h0M325.1 618.4h0M324.8 610.3h0M313.1 616.1h0M323.9 611.6h0M314.8 622.9h0M320.6 615.1h0M328.8 610.1h0M319.2 615.9h0M319.6 615.6h0M310.2 619.3h0M306.9 621.1h0M314.4 620.9h0M312.4 615.7h0M319.8 620.9h0M301.2 620.8h0M319.7 611.6h0M310.2 620.8h0M309.7 616.4h0M327.9 611.6h0M308.2 610.8h0M307.3 614.8h0M329.3 618.9h0M308.3 625.8h0M321.5 615.6h0M322.2 617.4h0M309.3 612.5h0M309.5 618.6h0M313.0 615.3h0M322.4 612.3h0M322.2 614.4h0M316.1 613.4h0M315.5 614.7h0M303.4 619.8h0M316.3 620.2h0M317.4 613.5h0M309.9 609.8h0M308.8 623.3h0M327.6 617.7h0M318.7 618.9h0M318.4 610.7h0M310.5 622.6h0M324.8 616.4h0M313.5 616.5h0M311.5 615.0h0M302.2 620.6h0M312.6 617.3h0M328.9 616.8h0M311.3 620.3h0M305.8 623.1h0M317.8 616.3h0M321.2 621.4h0M312.0 614.6h0M331.4 614.2h0M326.4 612.8h0M318.3 614.6h0M320.5 615.4h0M312.2 623.6h0M317.1 609.9h0M313.7 614.5h0M306.8 617.1h0M312.6 618.1h0M309.0 612.2h0M312.7 621.1h0M306.5 621.4h0M319.1 615.1h0M317.8 614.3h0M312.4 614.4h0M320.4 621.3h0M311.9 622.4h0M299.8 617.4h0M309.8 624.7h0M312.2 620.8h0M301.1 620.7h0M320.1 616.3h0M296.2 621.9h0M322.9 620.6h0M317.8 610.9h0M315.1 620.7h0M310.4 620.4h0M312.6 618.3h0M321.1 613.8h0M337.1 613.6h0M318.0 614.3h0M316.3 616.3h0M304.2 614.2h0M318.0 616.6h0M295.2 613.9h0M313.7 617.5h0M319.6 612.2h0M320.1 615.4h0M312.2 617.6h0M323.6 617.7h0M322.1 613.6h0M313.1 613.7h0M311.7 616.8h0M313.1 620.4h0M319.7 619.3h0M317.7 620.8h0M317.5 620.4h0M320.2 619.1h0M314.6 613.2h0M306.7 626.2h0M319.2 618.2h0M314.5 616.0h0M336.3 609.2h0M315.5 617.2h0M306.8 614.6h0M310.6 617.2h0M313.0 620.8h0M307.6 620.4h0M327.4 618.2h0M305.6 608.9h0M322.6 617.7h0M312.6 622.6h0M313.1 618.3h0M308.6 619.9h0M312.5 616.2h0M324.1 616.4h0M305.5 621.9h0M321.6 613.2h0M313.1 618.1h0M314.3 618.1h0M320.4 614.6h0M330.8 611.8h0M313.4 624.9h0M333.6 613.9h0M313.9 613.9h0M324.5 616.2h0M310.1 620.0h0M326.6 617.6h0M333.0 618.0h0M319.2 616.5h0M320.9 620.7h0M323.0 619.6h0M318.2 619.6h0M324.8 614.9h0M307.7 625.2h0M320.0 614.9h0M317.5 616.1h0M303.3 619.2h0M305.7 620.1h0M316.0 621.4h0M315.4 618.8h0M313.5 616.4h0M306.4 622.8h0M316.8 615.0h0M317.2 615.6h0M310.9 619.2h0M324.7 614.6h0M305.1 617.3h0M328.6 611.8h0M324.6 614.7h0M321.4 615.8h0M304.1 618.2h0M331.4 613.7h0M319.9 615.3h0M315.3 618.6h0M321.0 624.2h0M315.8 616.7h0M310.2 613.8h0M304.6 622.0h0M303.3 624.9h0M322.1 615.0h0M307.6 619.1h0M317.0 621.1h0M310.3 617.1h0M315.4 616.4h0M310.2 612.4h0M303.5 617.4h0M315.1 621.1h0M334.2 619.7h0M320.2 623.2h0M314.8 615.7h0M332.3 610.2h0M312.8 617.0h0M326.3 613.1h0M321.5 614.7h0M307.2 619.9h0M316.5 613.1h0M309.1 615.9h0M323.4 617.5h0M318.1 618.6h0M312.9 619.7h0M310.7 613.6h0M311.0 619.1h0M317.4 620.8h0M303.5 619.1h0M318.3 613.4h0M317.6 615.5h0M308.5 622.8h0M306.5 622.8h0M312.4 614.7h0M309.0 616.1h0M310.0 619.5h0M303.2 624.3h0M323.2 620.8h0M307.2 610.8h0M311.4 617.7h0M317.9 615.1h0M315.6 618.0h0M305.9 625.8h0M308.0 619.9h0M323.5 613.0h0M317.2 622.9h0M314.7 621.3h0M318.4 617.7h0M321.2 615.5h0M315.2 620.9h0M318.4 618.6h0M307.3 619.2h0M325.6 618.6h0M318.3 615.0h0M311.9 619.7h0M326.6 615.4h0M325.5 614.4h0M324.2 612.1h0M316.8 613.4h0M321.4 618.3h0M308.6 616.2h0M311.8 612.9h0M308.7 615.7h0M322.8 620.9h0M312.7 617.0h0M317.3 615.2h0M314.7 620.6h0M317.8 616.7h0M312.9 623.2h0M311.7 618.7h0M308.1 616.8h0M316.5 615.8h0M320.1 616.8h0M304.4 611.5h0M323.0 613.8h0M327.0 615.2h0M310.9 620.4h0M314.1 617.8h0M309.7 620.9h0M323.8 613.9h0M328.8 612.7h0M316.8 611.4h0M303.5 627.4h0M327.4 619.1h0M303.8 620.6h0M319.2 617.0h0M317.7 613.7h0M314.1 613.7h0M313.8 619.1h0M310.2 617.5h0M312.9 618.0h0M323.0 616.8h0M318.0 611.8h0M314.0 620.7h0M309.5 617.1h0M309.9 623.3h0M312.3 615.5h0M321.4 620.2h0M320.4 619.9h0M317.5 616.6h0M312.5 616.2h0M311.9 619.5h0M315.3 617.8h0M320.5 616.2h0M305.5 616.6h0M306.5 612.4h0M316.0 613.1h0M305.9 615.5h0M322.3 614.9h0M323.3 615.5h0M313.2 619.9h0M320.5 616.8h0M308.1 617.3h0M307.2 618.2h0M317.8 622.3h0M326.9 617.5h0M323.2 616.7h0M337.5 618.4h0M335.7 614.7h0M319.8 620.3h0M317.6 618.1h0M309.4 622.0h0M317.6 619.9h0M313.2 611.5h0M320.5 620.6h0M305.9 615.9h0M313.6 616.9h0M304.7 625.9h0M323.0 613.7h0M302.9 621.2h0M331.2 617.2h0M323.8 612.4h0M316.7 611.8h0M330.9 616.3h0M299.2 614.1h0M319.6 617.1h0M314.1 619.9h0M331.0 615.6h0M302.6 619.4h0M305.8 616.5h0M318.3 616.2h0M308.1 618.8h0M310.3 620.3h0M314.4 619.0h0M314.5 620.3h0M314.9 617.4h0M311.9 618.6h0M304.8 629.1h0M311.0 618.6h0M312.1 616.3h0M318.5 614.9h0M311.8 613.2h0M308.3 614.6h0M328.2 610.0h0M308.1 619.5h0M325.2 609.3h0M304.6 620.0h0M317.4 611.9h0M302.0 616.7h0M321.3 616.0h0M321.3 615.8h0M316.0 619.4h0M315.2 618.3h0M308.7 616.6h0M319.1 615.7h0M310.8 620.6h0M319.9 616.4h0M310.9 621.5h0M333.6 610.7h0M304.0 616.9h0M308.1 614.3h0M307.7 621.9h0M323.2 621.1h0M321.0 614.5h0M323.4 613.5h0M312.4 613.7h0M325.5 618.9h0M312.2 616.9h0M316.2 617.9h0M322.0 616.2h0M317.7 611.5h0M312.3 611.5h0M329.9 619.4h0M321.8 620.0h0M331.2 617.5h0M303.9 618.9h0M297.9 618.0h0M306.6 619.1h0M318.0 613.5h0M313.9 618.6h0M314.5 616.9h0M297.8 619.3h0M321.7 616.9h0M304.6 618.5h0M317.0 613.5h0M320.1 613.5h0M313.2 617.4h0M331.9 612.8h0M312.0 620.5h0M312.4 618.6h0M299.4 621.6h0M314.7 612.8h0M325.5 614.4h0M313.3 613.0h0M303.4 617.7h0M304.8 621.2h0M321.6 613.8h0M303.6 618.3h0M308.0 619.4h0M316.7 615.5h0M317.0 620.7h0M327.8 612.9h0M320.8 615.3h0M308.8 623.2h0M318.7 617.1h0M318.2 616.1h0M309.2 624.9h0M322.5 616.8h0M323.7 620.2h0M314.6 619.5h0M313.7 619.9h0M315.5 625.9h0M313.4 619.5h0M318.8 615.4h0M322.5 615.5h0M312.6 617.8h0M311.0 622.4h0M320.9 619.7h0M305.9 620.2h0M310.1 618.7h0M325.2 616.2h0M315.2 621.3h0M324.4 622.1h0M302.2 621.1h0M312.0 614.8h0M315.7 613.1h0M298.6 617.5h0M315.0 624.0h0M309.6 614.3h0M300.9 619.0h0M314.0 618.1h0M304.5 616.8h0M299.1 621.2h0M302.2 610.1h0M324.5 617.2h0M318.5 617.9h0M308.8 622.4h0M309.3 625.3h0M316.0 610.6h0M323.4 622.7h0M314.5 621.3h0M313.7 615.4h0M297.6 625.3h0M312.7 619.2h0M306.7 615.8h0M323.6 614.2h0M311.9 613.5h0M317.8 619.6h0M312.2 617.3h0M307.7 623.9h0M311.0 617.6h0M327.9 613.9h0M303.6 616.4h0M314.3 623.9h0M317.2 616.1h0M322.7 620.5h0M311.1 623.3h0" stroke="#f5078e" stroke-width="1.20" stroke-linecap="round" fill="none" opacity="1.0"/>
<path d="M357.8 623.0h0M322.7 626.8h0M363.0 618.1h0M373.2 618.5h0M337.7 626.8h0M352.0 626.0h0M346.9 629.5h0M342.3 623.5h0M334.0 619.5h0M349.8 617.9h0M343.1 621.5h0M351.6 625.8h0M357.4 626.4h0M350.0 618.5h0M330.7 622.6h0M338.0 613.1h0M364.6 608.9h0M352.6 624.4h0M347.9 636.8h0M347.8 617.6h0M366.7 614.5h0M331.8 618.6h0M341.3 623.2h0M350.6 612.8h0M353.9 633.9h0M340.4 622.3h0M356.8 627.5h0M340.1 617.6h0M338.2 629.7h0M356.2 608.3h0M323.9 618.5h0M332.2 626.7h0M352.3 632.6h0M357.0 621.3h0M360.4 615.0h0M333.0 624.4h0M357.1 611.3h0M358.7 625.3h0M342.9 623.7h0M345.3 622.8h0M356.4 616.1h0M360.3 625.1h0M356.5 609.3h0M328.5 628.9h0M341.3 619.0h0M338.8 615.6h0M344.5 618.3h0M341.5 625.7h0M336.3 630.2h0M326.1 639.7h0M333.9 627.4h0M358.2 620.4h0M356.3 620.1h0M329.3 626.8h0M360.3 616.9h0M329.2 621.3h0M352.0 623.1h0M360.8 623.2h0M352.1 609.8h0M372.7 618.5h0M357.4 618.5h0M346.6 622.5h0M366.8 627.9h0M356.7 632.1h0M344.4 625.5h0M344.4 630.0h0M349.5 627.4h0M365.4 607.4h0M372.4 620.1h0M343.2 611.6h0M343.0 609.4h0M349.1 620.8h0M368.1 617.1h0M361.1 626.8h0M370.8 617.1h0M355.4 612.1h0M335.9 622.2h0M347.1 615.1h0M344.4 626.6h0M343.2 621.8h0M339.8 631.3h0M368.2 620.2h0M348.6 631.6h0M353.1 617.4h0M333.0 620.9h0M372.1 615.0h0M347.2 629.8h0M346.1 624.5h0M335.9 616.6h0M340.5 624.5h0M339.4 611.9h0M353.6 620.3h0M344.8 619.0h0M325.0 634.8h0M343.6 625.8h0M364.8 626.1h0M350.7 621.7h0M352.6 626.6h0M354.5 618.5h0M353.8 623.4h0M356.3 622.0h0M363.8 620.9h0M358.3 620.8h0M341.3 617.6h0M347.2 625.3h0M362.4 619.4h0M342.3 620.0h0M362.8 620.4h0M343.6 627.0h0M334.0 624.9h0M347.9 621.3h0M336.6 629.5h0M365.9 611.7h0M350.4 625.5h0M373.0 615.9h0M338.0 623.6h0M370.8 619.0h0M352.9 631.6h0M323.1 613.3h0M359.2 624.9h0M333.7 627.2h0M349.1 623.2h0M339.2 620.8h0M338.9 623.8h0M347.4 631.9h0M354.1 612.0h0M354.3 629.4h0M352.5 627.7h0M348.7 626.1h0M338.9 628.0h0M334.4 631.6h0M330.0 612.5h0M354.2 620.1h0M350.1 624.2h0M347.4 617.0h0M351.1 623.6h0M355.6 632.5h0M340.5 623.6h0M354.3 618.5h0M334.8 620.8h0M360.0 618.7h0M354.6 616.8h0M352.8 617.4h0M339.3 624.0h0M350.3 630.3h0M331.0 627.6h0M367.4 627.0h0M343.7 618.8h0M343.3 624.5h0M350.9 623.7h0M354.2 614.9h0M335.0 616.9h0M333.6 623.7h0M354.1 635.9h0M354.4 621.2h0M363.5 615.5h0M353.1 627.0h0M357.5 623.0h0M343.6 615.5h0M346.3 618.9h0M356.0 620.1h0M353.3 611.9h0M358.5 615.5h0M330.1 616.8h0M342.5 629.4h0" stroke="#f070b8" stroke-width="1.00" stroke-linecap="round" fill="none" opacity="0.85"/>
<path d="M353.3 617.0h0M349.1 621.5h0M336.0 620.3h0M332.5 621.3h0M327.9 622.2h0M341.0 620.2h0M342.9 627.0h0M346.0 623.3h0M354.7 624.3h0M353.4 619.3h0M339.7 620.5h0M344.9 622.6h0M348.4 626.0h0M348.7 628.5h0M356.1 619.1h0M353.5 610.8h0M359.2 621.9h0M350.6 615.6h0M367.5 618.2h0M348.0 626.2h0M346.6 619.2h0M353.0 617.7h0M354.2 621.6h0M356.4 616.4h0M358.1 621.6h0M363.1 617.4h0M363.0 622.4h0M354.1 618.5h0M353.1 623.7h0M341.6 618.9h0M343.4 628.1h0M350.2 625.1h0M350.8 622.1h0M350.0 620.3h0M357.9 621.2h0M349.5 616.8h0M350.5 619.3h0M345.3 626.2h0M340.1 622.5h0M353.9 625.4h0M344.7 623.7h0M350.1 617.7h0M331.2 617.6h0M353.1 621.7h0M338.0 621.3h0M345.3 621.2h0M349.4 629.8h0M342.6 623.4h0M342.3 620.7h0M341.7 622.2h0M344.5 623.9h0M349.6 618.6h0M362.4 615.7h0M352.3 629.3h0M343.8 627.5h0M359.4 621.6h0M335.2 629.1h0M348.9 620.0h0M357.8 618.0h0M356.3 618.8h0M352.0 617.6h0M345.0 619.2h0M343.2 623.5h0M347.3 622.9h0M358.1 620.1h0M334.2 623.1h0M349.6 625.5h0M356.8 624.2h0M347.1 624.5h0M338.3 628.2h0M352.1 623.3h0M345.7 622.6h0M343.7 624.8h0M339.0 627.0h0M353.7 628.5h0M348.2 621.7h0M350.0 621.9h0M347.1 618.2h0M339.8 621.3h0M345.7 618.1h0M339.6 622.3h0M354.0 620.5h0M354.2 624.7h0M354.1 619.6h0M344.4 615.9h0M343.6 624.4h0M341.0 628.0h0M359.2 619.1h0M354.7 615.9h0M340.4 621.9h0M348.5 621.3h0M343.0 629.9h0M350.9 622.7h0M353.8 621.8h0M346.5 620.3h0M336.9 629.2h0M340.6 617.2h0M341.5 617.3h0M363.8 621.0h0M359.9 625.5h0M353.1 623.4h0M343.0 622.5h0M343.9 622.8h0M343.9 627.3h0M354.2 620.7h0M336.2 626.3h0M355.2 620.7h0M339.2 625.0h0M355.4 614.0h0M351.8 614.9h0M350.0 628.1h0M349.5 623.6h0M346.1 622.3h0M367.0 624.0h0M345.9 621.0h0M349.8 629.7h0M350.7 625.7h0M345.1 617.9h0M358.5 620.2h0M342.2 620.5h0M343.1 620.6h0M337.5 628.0h0M351.9 625.0h0M346.1 623.6h0M350.4 625.9h0M354.8 622.3h0M343.0 618.5h0M342.1 620.7h0M343.8 618.3h0M361.2 621.1h0M332.7 620.5h0M338.5 624.4h0M356.0 617.3h0M353.0 620.3h0M357.9 625.5h0M351.2 624.2h0M348.3 620.7h0M339.9 624.5h0M347.8 620.7h0M347.8 621.4h0M340.4 621.3h0M357.0 619.9h0M358.4 616.4h0M338.4 624.0h0M354.0 618.8h0M353.7 624.6h0M356.5 620.4h0M347.2 616.3h0M348.8 623.0h0M358.4 615.9h0M341.6 619.5h0M353.9 612.1h0M341.5 630.5h0M352.7 616.6h0M348.5 625.0h0M352.5 620.6h0M343.0 625.8h0M348.9 624.8h0M351.2 619.9h0M359.0 618.6h0M351.4 619.3h0M346.6 621.4h0M343.7 623.6h0M359.3 627.0h0M359.2 619.8h0M359.6 621.8h0M361.3 615.6h0M359.3 618.2h0M356.9 619.1h0M355.2 620.0h0M333.9 620.7h0M346.7 622.4h0M331.1 620.3h0M342.9 622.1h0M349.7 618.9h0M337.3 624.8h0M346.5 625.5h0M344.9 624.8h0M342.0 623.9h0M349.4 623.5h0M341.5 622.6h0M342.1 622.4h0M354.7 631.7h0M349.1 624.5h0M349.9 625.8h0M352.5 625.1h0M352.4 630.0h0M357.9 614.5h0M350.8 621.9h0M331.6 621.5h0M344.7 620.0h0M348.5 615.6h0M354.5 623.9h0M351.0 620.5h0M348.3 620.4h0M357.3 622.5h0M363.2 618.5h0M359.0 618.4h0M346.7 618.6h0M352.4 621.2h0M354.0 626.5h0M348.3 623.4h0M355.2 620.8h0M344.7 623.9h0M352.7 624.2h0M354.4 618.8h0M352.5 625.8h0M345.3 623.8h0M344.0 623.3h0M361.6 620.7h0M341.6 624.3h0M350.7 625.6h0M337.9 620.4h0M347.2 616.7h0M355.9 613.7h0M341.6 617.8h0M344.1 625.5h0M353.5 624.6h0M352.0 614.3h0M349.8 615.3h0M344.6 621.2h0M344.8 624.3h0M343.5 628.9h0M353.6 625.4h0M354.7 624.3h0M349.3 628.9h0M341.0 624.8h0M348.5 621.2h0M350.5 619.1h0M355.4 623.8h0M349.7 624.5h0M339.9 616.9h0M344.1 621.9h0M367.0 618.4h0M356.7 623.8h0M364.3 620.1h0M353.3 620.6h0M341.6 619.5h0M343.5 627.9h0M350.6 621.2h0M348.4 620.0h0M348.3 621.9h0M353.9 624.4h0M336.5 624.7h0M358.3 616.9h0M346.8 622.9h0M357.1 622.9h0M347.2 624.0h0M356.5 622.2h0M362.6 621.4h0M340.4 620.5h0M347.5 621.5h0M353.4 622.6h0M361.7 622.9h0M359.2 617.7h0M345.8 624.9h0M349.6 624.1h0M350.1 619.6h0M361.8 624.1h0M336.8 621.6h0M349.1 624.4h0M347.4 617.4h0M354.7 620.4h0M357.7 621.7h0M356.5 623.8h0M354.9 619.3h0M356.4 621.6h0M339.2 622.1h0M346.4 624.0h0M353.2 617.4h0M354.0 621.0h0M341.3 626.1h0M342.4 618.8h0M354.7 624.3h0M344.3 626.4h0M355.8 619.1h0M363.5 619.6h0M349.1 613.6h0M353.1 619.2h0M351.1 615.7h0M358.0 625.8h0M361.2 609.7h0M353.2 622.6h0M326.0 622.9h0M348.9 627.1h0M342.7 623.7h0M348.5 623.4h0M346.3 625.6h0M355.3 616.3h0M356.7 618.3h0M347.4 626.3h0M349.8 624.0h0M355.0 623.3h0M344.3 619.4h0M354.3 624.0h0M351.4 621.1h0M355.2 621.1h0M338.9 624.6h0M353.0 624.2h0M341.9 620.5h0M351.1 620.2h0M348.9 625.4h0M352.8 628.0h0M352.0 627.7h0M358.2 629.7h0M349.1 621.8h0M358.4 618.9h0M345.7 623.5h0M351.1 616.9h0M350.8 620.8h0M349.0 622.8h0M348.3 626.1h0M352.6 621.0h0M350.3 625.7h0M355.6 625.7h0M348.3 622.8h0M364.0 619.8h0M362.1 623.3h0M345.4 617.9h0M353.6 619.1h0M343.2 617.1h0M358.1 621.3h0M349.7 623.6h0M351.1 622.3h0M353.0 620.7h0M330.7 627.7h0M352.5 621.9h0M360.3 615.7h0M328.8 630.6h0M351.5 616.1h0M346.6 624.8h0M340.7 625.5h0M365.6 624.7h0M349.3 623.4h0M342.4 623.8h0M346.4 619.2h0M340.4 630.4h0M349.4 618.6h0M347.0 627.8h0M360.9 618.3h0M351.2 625.1h0M346.2 618.6h0M342.2 623.4h0M343.0 618.6h0M348.1 625.7h0M354.2 620.7h0M363.0 617.4h0M348.1 617.6h0M355.0 620.9h0M336.5 621.3h0M362.9 622.7h0M350.6 625.1h0M337.1 621.2h0M339.1 620.9h0M346.7 624.5h0M357.2 624.5h0M368.8 617.5h0M349.4 624.0h0M343.0 622.2h0M351.8 618.7h0M353.4 625.9h0M339.9 615.6h0M349.3 618.5h0M350.3 620.5h0M352.1 625.8h0M355.1 620.1h0M339.3 615.0h0M332.8 621.9h0M349.5 619.8h0M343.9 617.4h0M336.1 618.1h0M352.6 614.7h0M353.5 618.3h0M353.0 622.3h0M355.1 625.3h0M342.6 619.6h0M345.2 619.9h0M353.5 620.9h0M348.9 623.5h0M345.7 626.3h0M335.2 624.9h0M351.9 618.8h0M343.9 625.9h0M345.2 615.8h0M339.1 627.0h0M342.7 627.5h0M358.5 619.8h0M352.1 618.6h0M345.2 620.0h0M352.2 616.9h0M347.6 622.3h0M351.2 614.1h0M334.8 621.0h0M346.9 622.7h0M350.9 628.7h0M353.6 623.3h0M345.2 625.2h0M353.9 623.5h0M347.9 624.2h0M359.2 617.5h0M332.9 627.2h0M353.7 620.4h0M346.6 631.9h0M344.3 618.3h0M345.1 624.2h0M343.7 621.3h0M350.4 620.1h0M349.3 621.7h0M340.6 623.4h0M340.3 626.5h0M341.4 622.2h0M334.7 622.4h0M339.9 628.5h0M347.7 623.9h0M334.8 619.6h0M346.4 617.5h0M356.5 619.3h0M349.6 622.8h0M347.6 624.8h0M343.6 623.9h0M357.2 621.3h0M349.1 620.7h0M349.1 624.2h0M345.6 616.5h0M349.4 621.2h0M351.8 621.6h0M359.2 616.1h0M341.5 625.2h0M340.9 624.2h0M347.2 615.3h0M353.9 625.9h0M349.1 616.9h0M353.5 617.5h0M347.6 623.5h0M341.7 617.0h0M347.2 621.9h0M341.6 620.2h0M353.6 620.8h0M344.5 620.4h0M349.5 622.1h0M346.3 617.4h0M345.2 620.2h0M349.3 625.8h0M355.5 623.1h0M348.9 620.7h0M350.4 619.9h0M345.3 619.5h0M347.8 621.7h0M361.8 621.8h0M345.9 624.9h0M345.3 625.8h0M355.3 630.8h0M340.4 622.9h0M347.5 623.0h0M352.9 617.9h0M343.2 623.7h0M354.6 617.1h0M337.6 627.4h0M354.8 624.6h0M341.1 622.3h0M350.1 623.2h0M347.3 621.9h0M355.3 619.4h0M344.1 621.1h0M344.6 622.9h0M346.5 620.7h0M358.6 621.4h0M346.5 626.5h0M344.3 622.5h0M347.3 620.1h0M345.5 622.6h0M337.8 622.2h0M350.1 622.6h0M351.5 629.4h0M352.9 620.7h0M347.4 622.0h0M351.2 620.5h0M358.4 616.6h0M353.0 622.9h0M340.4 625.2h0M351.8 619.2h0M365.0 621.8h0M345.7 620.7h0M343.1 623.6h0M347.9 617.2h0M340.5 620.7h0M345.2 621.2h0M343.8 624.7h0M354.9 621.1h0M332.6 623.7h0M352.1 621.0h0M350.2 622.0h0M336.4 615.2h0M352.3 619.5h0M351.0 620.5h0M347.7 626.6h0M339.7 623.2h0M340.5 623.3h0M351.9 623.5h0M348.6 617.2h0" stroke="#f5078e" stroke-width="1.20" stroke-linecap="round" fill="none" opacity="1.0"/>
<path d="M334.2 630.8h0M369.9 616.4h0M344.8 631.6h0M360.2 603.0h0M364.3 617.2h0M358.0 637.1h0M343.6 612.1h0M339.3 608.1h0M320.9 622.6h0M367.4 630.0h0M357.4 615.4h0M321.0 635.7h0M365.6 639.3h0M333.9 611.7h0M366.6 618.4h0M326.0 636.4h0M318.7 623.1h0M367.0 632.9h0M368.8 615.5h0M345.9 635.7h0M370.2 636.4h0M322.6 634.0h0M326.1 638.2h0M373.5 618.6h0M371.7 623.7h0" stroke="#f060b0" stroke-width="0.90" stroke-linecap="round" fill="none" opacity="0.9"/>
<path d="M409.2 637.4h0M416.8 622.3h0M393.4 625.6h0M413.8 623.1h0M407.5 625.5h0M398.9 628.1h0M392.0 624.5h0M405.3 631.7h0M420.5 623.0h0M398.0 625.8h0M426.4 628.7h0M393.6 626.8h0M415.9 625.9h0M415.0 628.0h0M396.9 638.1h0M398.8 628.5h0M422.6 629.1h0M427.3 626.1h0M430.8 619.0h0M426.3 630.5h0M401.8 618.8h0M402.7 635.8h0M430.1 617.9h0M418.0 626.1h0M425.4 609.8h0M406.2 624.6h0M418.5 623.6h0M410.3 627.0h0M426.5 626.5h0M406.0 628.9h0M444.4 627.7h0M413.4 616.8h0M415.9 622.0h0M423.7 613.9h0M412.1 626.5h0M409.5 632.0h0M397.1 621.0h0M410.7 630.3h0M409.3 621.9h0M425.4 622.8h0M407.3 626.8h0M411.9 628.6h0M415.0 619.1h0M407.2 623.5h0M419.8 625.2h0M402.8 626.0h0M420.0 629.6h0M420.5 634.7h0M415.7 628.4h0M408.4 619.6h0M416.4 626.7h0M418.8 624.0h0M408.5 620.7h0M410.9 628.0h0M422.2 601.9h0M424.0 628.4h0M431.8 622.1h0M422.6 619.4h0M413.8 627.6h0M398.3 623.4h0M414.9 615.9h0M412.7 615.5h0M416.9 623.7h0M405.2 620.7h0M404.1 613.0h0M409.0 626.3h0M429.7 617.2h0M413.9 632.9h0M436.9 615.5h0M430.1 627.5h0M419.7 616.8h0M402.4 630.8h0M445.4 615.2h0M438.1 629.8h0M396.5 625.1h0M436.0 624.7h0M421.6 622.3h0M421.8 618.4h0M446.2 609.0h0M390.2 631.3h0M432.9 616.4h0M412.0 618.5h0M411.7 618.6h0M398.5 619.2h0M409.6 637.0h0M413.7 625.6h0M443.4 612.9h0M401.5 630.7h0M398.1 630.4h0M428.2 614.0h0M409.7 635.9h0M398.9 623.9h0M416.9 621.6h0M405.1 636.5h0M406.8 628.2h0M408.3 624.3h0M397.0 634.4h0M410.3 633.1h0M397.7 625.5h0M420.8 623.2h0M405.1 625.7h0M396.7 629.0h0M433.9 624.8h0M425.1 618.9h0M420.2 620.2h0M412.8 624.0h0M421.6 627.6h0M402.4 631.6h0M417.4 609.6h0M390.4 630.6h0M405.2 626.4h0M407.8 635.2h0M399.0 619.7h0M406.3 626.1h0M396.6 631.0h0M433.6 626.1h0M443.0 623.9h0M416.5 634.7h0M426.6 632.7h0M408.5 612.7h0M398.7 629.3h0M421.4 621.2h0M426.1 614.1h0M406.3 632.5h0M415.2 624.7h0M435.0 625.8h0M403.9 628.2h0M391.3 630.1h0M417.1 612.8h0M438.5 630.5h0M422.5 628.0h0M434.5 618.1h0M429.1 622.9h0M392.4 624.3h0M408.4 632.5h0M417.3 629.7h0M406.2 618.5h0M446.5 633.0h0M419.4 621.8h0M428.9 613.8h0M409.6 616.7h0M421.4 624.1h0M408.1 621.9h0M392.8 624.7h0M430.6 618.0h0M430.3 614.9h0M412.7 621.9h0M412.2 629.7h0M423.9 621.9h0M415.2 622.8h0M424.0 622.3h0M403.3 628.1h0M428.0 623.2h0M415.2 625.4h0M407.2 623.3h0M388.8 629.7h0M427.3 618.6h0M403.6 632.6h0M417.0 624.6h0M421.9 626.7h0M412.7 619.6h0M438.1 618.6h0M404.4 628.0h0M428.5 612.0h0M432.0 619.0h0M442.4 621.3h0M415.0 631.9h0M431.2 617.9h0M416.9 620.5h0M424.8 613.0h0M409.0 612.6h0M419.2 609.4h0M400.7 629.5h0M409.2 623.0h0M400.9 624.9h0M391.5 632.2h0M426.5 626.0h0M415.9 631.5h0M422.2 628.2h0M419.9 623.2h0M400.5 611.7h0M423.0 621.4h0M438.3 606.1h0M424.4 616.0h0M413.2 619.2h0M419.2 622.9h0M426.5 622.2h0M422.9 630.0h0M421.3 621.8h0M431.0 619.4h0M419.6 621.1h0M401.3 609.3h0M422.2 615.3h0M427.1 632.2h0M398.3 633.9h0M414.0 627.3h0M398.7 628.6h0M418.8 632.0h0M443.7 618.8h0M413.0 638.3h0M413.1 624.4h0M416.7 626.7h0M423.3 618.6h0M416.0 635.5h0M436.7 621.4h0M418.0 622.1h0M427.6 617.9h0M415.7 621.3h0M406.4 626.7h0M413.9 621.0h0M414.0 624.9h0M407.5 622.2h0M413.9 628.8h0M429.8 621.6h0M411.1 625.1h0M441.6 623.1h0M402.0 627.3h0M407.1 624.1h0M392.3 630.2h0M395.8 625.6h0M436.5 624.9h0M401.6 621.4h0M399.8 616.6h0M401.3 626.1h0M401.9 632.3h0M413.3 621.5h0M439.2 622.4h0M418.4 634.7h0M431.3 615.8h0M418.5 620.7h0M398.4 640.2h0M433.0 611.9h0M419.0 613.2h0M429.1 620.4h0M412.7 632.6h0M414.5 622.8h0M426.6 619.5h0M426.5 621.4h0M426.8 625.1h0M423.9 615.8h0M439.8 617.0h0M437.6 614.9h0M410.7 623.8h0M429.7 617.9h0M418.1 613.8h0M408.7 627.3h0M410.6 613.9h0M420.1 617.0h0M440.7 616.6h0M446.3 620.4h0M420.3 620.0h0M413.9 627.4h0M390.0 636.9h0M398.6 626.9h0M425.3 623.4h0M418.6 621.1h0M418.7 630.9h0M409.8 628.7h0M424.3 620.5h0M418.3 624.8h0M411.7 640.3h0M411.5 635.8h0M426.3 608.8h0M419.7 629.5h0M424.5 616.2h0M416.5 616.4h0M400.3 626.5h0M419.7 633.1h0M421.2 629.3h0M396.7 621.7h0M410.8 636.3h0M394.2 619.7h0M415.5 631.6h0M392.2 628.5h0M398.4 637.6h0M424.6 623.5h0M413.7 623.1h0" stroke="#f070b8" stroke-width="1.00" stroke-linecap="round" fill="none" opacity="0.85"/>
<path d="M415.4 621.6h0M405.3 622.4h0M414.0 621.4h0M420.9 614.5h0M420.5 624.9h0M425.9 620.5h0M399.6 624.5h0M425.0 620.5h0M410.2 623.2h0M413.8 623.6h0M399.4 625.9h0M425.5 627.2h0M413.0 622.7h0M427.2 620.4h0M403.4 626.7h0M422.6 628.4h0M410.5 627.5h0M412.6 629.3h0M417.3 624.7h0M405.0 625.5h0M408.2 611.9h0M422.7 622.2h0M412.3 623.5h0M415.1 625.1h0M402.4 627.9h0M415.7 624.1h0M400.5 627.4h0M402.8 628.7h0M427.8 624.3h0M410.9 623.1h0M409.6 627.0h0M407.8 623.9h0M390.2 627.2h0M406.7 624.2h0M424.7 616.4h0M402.6 629.7h0M405.2 626.1h0M416.2 623.9h0M408.1 629.6h0M427.7 617.0h0M412.9 628.4h0M411.7 621.1h0M411.3 628.4h0M405.4 627.6h0M417.5 621.0h0M420.5 625.4h0M424.8 625.3h0M401.4 631.2h0M421.0 626.5h0M407.4 629.7h0M417.0 619.2h0M425.8 618.4h0M405.4 628.2h0M409.2 627.1h0M412.5 625.9h0M422.2 622.2h0M423.5 625.3h0M407.5 629.5h0M420.5 623.3h0M426.7 627.7h0M420.4 617.1h0M418.7 622.8h0M412.4 626.2h0M413.1 631.1h0M417.2 623.7h0M422.7 625.4h0M426.3 623.8h0M414.4 624.9h0M393.0 624.1h0M424.1 620.6h0M433.4 626.6h0M403.2 628.5h0M441.0 614.5h0M418.2 622.5h0M412.1 623.9h0M415.2 627.2h0M407.6 628.1h0M408.5 627.9h0M416.9 620.7h0M415.3 621.3h0M407.8 630.6h0M398.1 630.7h0M420.8 620.5h0M425.8 625.0h0M403.0 629.4h0M418.4 620.5h0M420.8 625.7h0M406.0 618.7h0M417.8 620.6h0M398.2 627.0h0M392.0 628.8h0M426.1 610.3h0M418.1 619.8h0M410.0 622.0h0M420.7 622.8h0M406.1 621.4h0M411.7 629.6h0M403.6 628.8h0M416.0 616.2h0M425.0 621.5h0M437.3 625.3h0M412.2 624.4h0M403.9 621.7h0M422.0 621.5h0M410.7 624.7h0M422.0 626.2h0M414.5 623.6h0M417.6 631.7h0M394.0 625.1h0M419.3 623.7h0M427.6 626.2h0M432.7 616.6h0M420.3 622.0h0M424.1 622.7h0M422.4 619.4h0M415.8 622.0h0M411.8 623.3h0M406.0 631.0h0M418.6 627.7h0M403.5 619.5h0M408.5 625.3h0M423.3 626.3h0M427.8 627.1h0M421.8 623.0h0M408.2 628.7h0M409.2 622.6h0M420.5 623.7h0M422.2 619.6h0M426.2 622.8h0M412.4 621.9h0M403.2 621.9h0M426.7 615.7h0M420.5 621.9h0M408.8 624.0h0M414.7 627.9h0M420.1 623.0h0M400.0 621.1h0M431.6 616.1h0M400.9 632.3h0M401.2 630.7h0M423.9 623.0h0M422.6 616.8h0M402.9 626.6h0M414.6 624.0h0M418.5 620.5h0M394.9 631.0h0M413.4 627.9h0M434.6 619.6h0M419.4 619.6h0M423.7 623.4h0M418.0 627.1h0M404.5 629.2h0M420.6 629.1h0M397.5 628.4h0M435.2 617.5h0M412.3 632.0h0M438.7 618.7h0M407.4 623.9h0M410.2 622.2h0M407.2 626.9h0M415.5 626.0h0M413.8 619.8h0M422.0 623.4h0M408.9 624.7h0M417.8 623.8h0M414.2 627.5h0M424.5 620.6h0M413.5 620.3h0M413.6 626.5h0M423.1 622.8h0M413.2 621.9h0M415.7 619.8h0M415.9 624.1h0M406.4 627.7h0M413.2 627.1h0M410.6 627.3h0M429.7 621.2h0M421.6 620.0h0M409.6 618.2h0M412.2 620.5h0M413.8 616.4h0M406.6 626.7h0M416.8 617.2h0M413.2 634.8h0M422.3 623.0h0M419.8 623.9h0M419.9 626.8h0M416.4 627.2h0M400.0 637.9h0M411.2 622.6h0M429.5 622.9h0M423.3 619.7h0M418.0 626.3h0M403.6 626.3h0M412.1 623.8h0M406.8 621.4h0M418.9 624.2h0M425.5 621.3h0M406.9 620.6h0M415.1 623.0h0M435.9 627.9h0M428.7 617.2h0M401.2 626.8h0M407.5 631.7h0M415.3 622.5h0M415.7 629.0h0M406.1 628.4h0M401.9 626.7h0M408.6 627.1h0M417.2 628.4h0M420.5 620.4h0M401.3 624.5h0M410.3 624.5h0M408.4 630.1h0M423.2 621.0h0M409.7 624.6h0M414.1 624.3h0M398.8 626.6h0M396.8 629.0h0M420.0 618.7h0M415.6 621.6h0M409.8 633.3h0M423.5 623.9h0M410.8 626.9h0M413.2 626.5h0M406.0 626.2h0M409.5 620.0h0M431.4 623.2h0M405.7 620.8h0M406.9 623.0h0M407.3 620.2h0M406.7 626.5h0M416.6 616.0h0M413.6 620.7h0M404.3 625.6h0M408.7 628.6h0M420.9 621.5h0M410.1 632.5h0M432.7 621.2h0M414.0 628.4h0M427.8 618.8h0M431.6 619.3h0M424.4 619.7h0M414.7 622.5h0M415.7 628.0h0M405.7 625.4h0M419.3 621.2h0M432.6 613.9h0M438.1 615.7h0M425.4 627.9h0M418.3 617.7h0M411.4 625.4h0M420.9 626.6h0M426.7 627.1h0M406.4 630.3h0M398.0 629.1h0M402.6 620.3h0M423.3 621.9h0M422.5 616.0h0M402.7 626.9h0M408.2 626.2h0M408.2 624.6h0M404.8 631.9h0M410.3 620.7h0M421.5 624.4h0M416.8 624.6h0M410.6 624.8h0M391.8 623.9h0M403.0 628.4h0M426.1 620.7h0M413.0 629.2h0M411.6 627.7h0M417.4 618.3h0M417.7 624.3h0M402.5 623.2h0M403.6 632.6h0M435.5 621.8h0M428.3 615.4h0M430.0 628.3h0M429.2 616.8h0M424.9 621.2h0M424.3 619.2h0M414.1 622.1h0M419.0 622.7h0M426.0 624.7h0M418.5 623.1h0M411.6 625.1h0M421.9 622.9h0M417.3 623.4h0M413.2 622.0h0M397.0 631.1h0M419.0 619.3h0M431.9 615.2h0M424.4 622.8h0M418.7 627.8h0M423.5 622.1h0M403.1 622.3h0M417.9 629.8h0M423.0 622.0h0M418.4 626.1h0M430.4 617.2h0M421.8 623.6h0M406.2 622.3h0M427.1 622.4h0M412.6 625.2h0M424.1 622.2h0M429.8 619.4h0M406.9 625.8h0M405.1 625.3h0M428.0 627.7h0M420.8 623.5h0M404.8 622.8h0M418.3 624.0h0M408.5 624.1h0M430.6 624.2h0M415.3 625.0h0M427.2 622.5h0M415.3 617.8h0M396.4 621.3h0M392.7 629.8h0M416.9 620.2h0M419.2 624.9h0M412.4 618.9h0M429.8 625.9h0M410.8 633.1h0M414.2 621.2h0M408.8 618.3h0M409.6 619.1h0M425.8 622.7h0M401.7 629.9h0M398.1 629.1h0M419.2 623.4h0M403.6 626.7h0M412.8 625.0h0M430.6 627.0h0M429.2 618.0h0M407.3 626.2h0M416.8 615.5h0M410.3 632.6h0M401.8 624.6h0M408.2 627.9h0M413.6 623.2h0M400.4 630.4h0M413.9 621.8h0M415.5 627.2h0M398.7 622.1h0M403.8 623.5h0M425.0 620.3h0M421.6 610.9h0M414.8 629.8h0M429.3 618.5h0M406.9 627.8h0M402.3 625.9h0M398.4 628.8h0M416.1 630.4h0M417.3 620.9h0M412.4 619.7h0M414.6 623.4h0M419.5 626.8h0M395.4 630.5h0M420.5 617.9h0M432.2 616.9h0M439.2 621.2h0M424.2 622.9h0M423.3 617.9h0M404.8 618.9h0M419.1 620.3h0M422.4 624.7h0M402.2 630.3h0M417.2 624.4h0M418.9 623.1h0M415.6 628.3h0M403.7 622.2h0M408.1 630.1h0M413.2 632.4h0M410.4 626.4h0M427.3 620.3h0M405.4 630.0h0M427.1 610.8h0M420.4 624.0h0M405.9 624.6h0M417.3 623.7h0M411.0 620.5h0M416.6 621.1h0M414.8 621.9h0M417.1 626.6h0M417.4 626.2h0M401.5 629.5h0M416.7 621.2h0M410.2 614.1h0M414.9 622.5h0M393.0 631.8h0M408.5 626.9h0M412.6 626.7h0M415.0 623.0h0M420.1 626.2h0M392.5 630.0h0M407.6 621.6h0M428.0 624.7h0M403.3 622.6h0M421.8 619.9h0M409.4 617.6h0M414.2 628.9h0M409.9 625.0h0M432.2 623.3h0M428.9 623.2h0M424.5 615.0h0M404.9 620.1h0M436.1 619.5h0M412.5 621.7h0M401.9 616.2h0M436.1 618.4h0M413.7 618.8h0M414.2 625.9h0M414.2 626.8h0M406.6 627.6h0M423.6 624.2h0M418.0 623.0h0M405.4 628.8h0M409.7 621.7h0M420.3 616.3h0M409.8 628.6h0M423.2 620.5h0M415.6 626.2h0M413.0 621.5h0M418.8 623.8h0M416.5 628.2h0M416.9 621.8h0M417.9 631.2h0M407.2 625.1h0M407.0 627.6h0M402.6 629.1h0M421.0 619.5h0M404.8 620.8h0M413.8 620.0h0M407.9 624.2h0M408.5 629.1h0M427.8 612.3h0M406.8 627.2h0M403.7 624.9h0M417.8 629.0h0M425.5 620.3h0M415.3 622.6h0M411.6 620.3h0M396.9 627.3h0M424.6 624.8h0M396.2 628.2h0M408.6 626.9h0M404.7 630.5h0M413.0 627.0h0M421.1 614.8h0M413.8 630.5h0M415.6 628.2h0M418.0 621.4h0M418.2 627.6h0M428.3 626.6h0M404.5 630.2h0M401.0 627.2h0M413.0 627.2h0M418.7 628.2h0M409.3 629.0h0M418.2 623.3h0M403.4 629.4h0M418.3 626.5h0M413.8 623.4h0M418.7 625.1h0M422.9 629.7h0M410.4 633.4h0M408.5 633.9h0M406.9 630.5h0M403.8 622.5h0M423.1 625.6h0M410.0 635.1h0M412.9 631.0h0M403.7 623.2h0M414.4 620.3h0M416.8 615.1h0M415.6 621.7h0M405.4 627.5h0M411.9 623.2h0M422.6 623.4h0M419.4 628.4h0M414.6 627.6h0M411.0 627.6h0M419.0 620.9h0M398.6 623.2h0M405.9 628.7h0M412.9 623.5h0M419.8 625.9h0M427.4 618.6h0M420.5 625.6h0M405.4 627.1h0M405.4 625.7h0M416.9 616.9h0M405.3 623.4h0M414.7 621.3h0M417.3 620.2h0M410.1 627.8h0M417.7 624.1h0M415.1 628.2h0M427.4 619.5h0M406.5 622.2h0M430.3 616.7h0M402.0 628.6h0M423.4 617.1h0M411.9 619.2h0M409.3 632.1h0M415.8 622.9h0M415.4 625.2h0M412.3 620.1h0M405.0 634.8h0M408.3 630.7h0M408.8 630.9h0M421.0 621.8h0M432.9 615.8h0M411.4 621.7h0M406.7 624.8h0M405.0 625.4h0M428.0 613.9h0M401.5 623.8h0M411.0 629.2h0M421.9 624.3h0M418.7 632.8h0M402.5 622.7h0M414.4 625.1h0M411.4 621.7h0M401.6 626.5h0M407.2 624.2h0M405.4 632.0h0M420.6 630.1h0M409.6 625.8h0M412.1 625.0h0M411.9 624.3h0M395.3 628.1h0M419.3 615.3h0M411.7 627.3h0M426.6 620.9h0M420.6 629.8h0M426.5 619.4h0M409.6 629.6h0M416.1 621.7h0M412.6 626.1h0M412.3 623.8h0M410.8 619.3h0M432.4 624.6h0M428.9 620.1h0M416.2 626.2h0M420.6 615.4h0M416.9 619.7h0M413.2 622.0h0M431.4 622.1h0M415.6 629.6h0M413.1 621.8h0M412.4 623.4h0M415.8 627.3h0M413.3 624.3h0M424.5 622.9h0M423.7 622.5h0M400.9 623.3h0M399.6 632.6h0M418.0 621.5h0M405.3 628.1h0M413.5 625.8h0M405.3 622.2h0M428.7 616.9h0M415.6 629.4h0M397.6 631.4h0M415.0 623.6h0M416.0 619.2h0M395.0 636.8h0M412.6 628.3h0M425.4 622.7h0M419.6 625.8h0M430.1 622.3h0M426.3 620.1h0M410.5 625.7h0M418.9 625.3h0M434.0 622.7h0M417.0 631.6h0M418.0 624.8h0M418.9 621.9h0M404.2 627.5h0M410.7 621.8h0M415.5 623.3h0M407.2 619.1h0M414.6 631.3h0M424.1 626.2h0M415.3 628.3h0M407.6 624.2h0M418.1 617.7h0M415.4 625.3h0M430.0 617.6h0M417.9 620.8h0M406.7 615.6h0M406.6 630.9h0M419.6 623.6h0M438.7 620.3h0M402.5 626.6h0M415.5 630.4h0M406.3 628.1h0M423.1 618.9h0M413.5 616.6h0M413.4 615.8h0M412.5 631.7h0M418.5 623.5h0M418.1 632.0h0M420.8 626.8h0M410.0 623.8h0M404.4 626.2h0M408.8 629.7h0M420.6 622.3h0M406.6 614.8h0M409.2 626.9h0M417.9 611.2h0M391.7 630.8h0M404.5 626.0h0M410.6 627.7h0M396.2 626.7h0M423.8 622.8h0M407.0 628.0h0M416.4 620.3h0M421.8 625.1h0M414.2 628.1h0M404.1 630.0h0M411.8 621.3h0M410.0 630.1h0M408.9 624.4h0M407.5 622.9h0M425.9 630.2h0M427.9 622.9h0M421.5 621.2h0M408.7 621.1h0M428.0 619.5h0M407.1 623.7h0M415.9 621.8h0M414.9 624.9h0M426.2 616.4h0M416.7 621.0h0M412.0 631.4h0M420.2 621.3h0M419.3 623.0h0M424.7 619.8h0M419.1 622.3h0M414.5 623.7h0M408.7 626.2h0M423.4 619.7h0M411.2 626.6h0M408.2 629.4h0M419.2 614.0h0M407.3 621.9h0M423.4 625.8h0M402.5 624.7h0M413.5 623.1h0M422.4 626.2h0M421.3 626.9h0M423.5 621.8h0M409.8 622.6h0M423.3 625.6h0M424.0 620.6h0M411.1 626.3h0M426.9 622.6h0M416.0 620.7h0M419.4 625.2h0M407.2 633.2h0M406.7 630.0h0M412.8 625.4h0M406.6 624.1h0M421.1 621.9h0M412.2 628.5h0M421.6 623.2h0M418.5 630.2h0M413.4 626.2h0M417.4 618.1h0M396.3 629.5h0M423.1 623.0h0M408.9 623.2h0M422.1 621.2h0M399.9 630.8h0M417.3 625.2h0M425.8 626.7h0M419.8 622.3h0M394.7 630.6h0M414.5 629.6h0M427.3 623.0h0M427.6 620.7h0M413.4 621.3h0M411.9 625.9h0M424.0 619.0h0M424.5 631.1h0M401.6 626.6h0M415.8 628.0h0M434.8 624.1h0M413.5 621.2h0M414.1 624.3h0M416.1 620.4h0M428.5 617.9h0M421.3 623.5h0M404.2 627.2h0M414.6 623.6h0M421.9 620.6h0M440.0 622.3h0M403.5 617.3h0M426.9 622.2h0M414.5 620.5h0M399.1 620.9h0M440.7 624.0h0M411.1 632.7h0M397.5 631.4h0M420.5 619.4h0M409.2 621.5h0M416.2 629.1h0M424.5 623.4h0M423.6 614.9h0M433.9 619.2h0M401.6 626.1h0M408.4 626.3h0M415.3 614.8h0M428.3 627.7h0M406.0 632.4h0M427.6 625.0h0M428.9 615.1h0M420.6 618.7h0M436.4 614.8h0M403.8 631.5h0M420.6 622.9h0M416.4 626.3h0M430.5 617.4h0M408.6 623.5h0M413.8 624.5h0M402.4 628.6h0M402.0 626.2h0M411.9 624.0h0M430.4 626.8h0M426.5 627.6h0M413.1 630.3h0M414.2 625.3h0M415.9 618.6h0M408.5 625.2h0M417.9 622.9h0M405.2 622.0h0M413.5 619.8h0M403.0 626.8h0M415.4 620.7h0M397.5 629.8h0M422.0 620.7h0M408.6 616.5h0M422.2 617.9h0M420.9 620.3h0M412.9 623.9h0M399.7 639.1h0M399.5 628.6h0M406.4 625.4h0M426.0 613.9h0M413.6 626.5h0M416.1 625.5h0M405.7 620.0h0M401.4 626.0h0M421.8 622.8h0M430.1 620.7h0M416.6 624.6h0M398.3 630.8h0M403.4 625.6h0M436.0 613.8h0M415.9 625.1h0M415.8 624.0h0M411.0 633.2h0M394.1 625.4h0M429.4 622.7h0M406.2 622.8h0M414.6 634.9h0M418.3 619.2h0M416.2 621.3h0M429.3 621.7h0M426.9 621.8h0M434.7 620.8h0M416.2 619.8h0M410.8 626.8h0M412.1 634.9h0M413.7 621.5h0M423.6 619.9h0M418.4 622.9h0M408.9 631.3h0M416.4 628.2h0M409.8 619.7h0M402.0 625.4h0M412.8 625.0h0M418.3 618.3h0M415.5 619.1h0M410.3 635.7h0M426.5 619.8h0M433.2 625.2h0M424.5 627.6h0M412.0 624.4h0M406.7 628.6h0M401.9 625.5h0M418.5 621.3h0M419.6 630.3h0M406.3 632.0h0M407.0 622.5h0M417.7 627.6h0M406.9 623.3h0M409.5 622.7h0M415.6 621.1h0M412.4 626.3h0M411.6 629.7h0M407.2 623.1h0M435.7 624.9h0M416.0 627.3h0M417.3 621.5h0M421.3 623.8h0M425.1 614.2h0M422.5 622.9h0M407.4 624.4h0M409.3 620.3h0M409.7 628.7h0M399.4 626.6h0M391.0 628.0h0M418.2 623.1h0M413.8 620.0h0M419.2 619.5h0M423.5 622.9h0M412.2 630.9h0M411.7 629.1h0M415.5 624.0h0M424.6 623.5h0M414.3 623.9h0M416.6 624.1h0M410.3 621.2h0M389.3 630.3h0M413.3 629.5h0M420.0 627.5h0M431.2 619.6h0M407.1 629.5h0M408.5 624.8h0M429.0 622.8h0M423.8 616.5h0M415.9 628.4h0M402.3 628.2h0M416.2 614.6h0M429.3 617.7h0M414.8 631.0h0M397.6 630.5h0M410.2 625.6h0M407.9 631.5h0M404.0 628.4h0M419.7 622.6h0" stroke="#f5078e" stroke-width="1.20" stroke-linecap="round" fill="none" opacity="1.0"/>
<path d="M452.3 629.4h0M469.2 632.4h0M453.1 621.8h0M458.9 635.2h0M458.2 643.5h0M437.3 657.2h0M451.8 621.6h0M436.5 642.8h0M462.6 627.7h0M455.8 632.6h0M453.0 642.0h0M463.4 628.5h0M438.7 646.9h0M448.5 623.3h0M472.5 632.2h0M428.8 621.6h0M449.1 621.2h0M458.8 654.0h0M467.3 636.8h0M452.1 618.6h0M468.8 626.9h0M462.8 636.0h0M449.3 647.6h0M457.4 632.8h0M452.1 638.2h0M467.4 623.8h0M462.4 625.9h0M440.7 631.2h0M464.5 634.3h0M468.0 622.6h0M452.6 632.4h0M463.4 628.5h0M441.9 620.0h0M472.3 637.4h0M450.7 645.5h0" stroke="#f070b8" stroke-width="1.00" stroke-linecap="round" fill="none" opacity="0.85"/>
<path d="M456.1 633.6h0M466.1 626.3h0M447.7 623.0h0M459.2 633.0h0M464.0 632.9h0M458.3 637.1h0M448.0 634.9h0M460.3 629.5h0M471.1 630.5h0M468.4 633.6h0M456.8 641.8h0M465.4 629.3h0M454.0 625.7h0M454.6 630.0h0M457.4 628.4h0M460.8 629.6h0M442.4 631.0h0M447.2 625.7h0M455.0 636.4h0M444.6 622.1h0M458.1 647.5h0M451.5 633.5h0M453.7 636.4h0M468.1 627.8h0M464.9 623.2h0M456.5 623.8h0M457.1 627.4h0M457.0 624.6h0M458.2 631.3h0M450.5 627.7h0M445.8 630.9h0M459.4 629.7h0M458.9 637.7h0M453.8 633.2h0M463.7 632.5h0M459.5 630.9h0M472.3 627.4h0M453.6 634.9h0M471.5 636.0h0M457.4 635.5h0M460.5 630.7h0M462.4 633.3h0M459.3 640.2h0M454.6 639.3h0M476.1 639.0h0M458.3 629.6h0M442.8 633.5h0M474.9 618.5h0M444.2 638.2h0M459.4 620.2h0M456.1 633.0h0M444.6 638.9h0M446.4 639.5h0M457.2 627.0h0M442.4 632.0h0M455.3 630.6h0M451.0 631.0h0M462.5 624.7h0M455.0 633.9h0M457.0 635.8h0M468.8 626.5h0M454.8 614.8h0M454.1 635.3h0M448.3 640.2h0M441.9 641.6h0M450.8 626.4h0M451.8 630.5h0M446.2 625.3h0M452.9 637.1h0M461.0 637.6h0M450.7 630.2h0M453.5 632.4h0M462.0 639.8h0M462.2 630.8h0M466.6 624.5h0M445.9 636.9h0M457.7 631.4h0M463.6 627.7h0M455.6 633.3h0M462.7 635.3h0M457.4 632.3h0M437.3 641.8h0M443.0 633.5h0M476.9 625.0h0M444.7 642.4h0M451.3 631.1h0M455.5 635.3h0M462.5 629.1h0M464.4 624.3h0M461.1 626.5h0M461.2 626.2h0M454.0 639.8h0M445.4 626.6h0M460.6 628.6h0M452.3 631.0h0M472.7 621.8h0M454.0 632.4h0M448.2 632.4h0M459.1 625.3h0M464.1 623.0h0M455.2 633.1h0M480.7 616.2h0M461.2 644.1h0M452.3 637.9h0M456.3 622.9h0M458.4 625.5h0M455.1 622.8h0M459.5 616.8h0M456.0 638.2h0M459.9 628.3h0" stroke="#f5078e" stroke-width="1.20" stroke-linecap="round" fill="none" opacity="1.0"/>
<path d="M467.4 640.7h0M453.4 620.5h0M429.2 624.9h0M474.4 607.1h0M474.1 641.1h0M429.8 626.5h0M441.5 614.8h0M455.0 629.5h0M428.6 628.8h0M445.7 622.4h0M426.3 620.1h0M453.0 606.8h0M450.2 633.4h0M475.8 604.6h0M468.7 605.6h0M438.0 628.0h0M461.6 637.9h0M477.5 639.0h0M429.9 611.8h0M453.0 635.6h0M430.8 610.3h0M437.1 610.7h0M450.9 621.5h0M423.0 626.0h0M450.1 624.2h0M439.5 639.6h0M426.1 622.9h0M453.0 617.5h0M434.0 621.5h0M434.0 610.4h0" stroke="#f060b0" stroke-width="0.90" stroke-linecap="round" fill="none" opacity="0.9"/>
<path d="M102.7 644.2 L107.3 635.5 L139.6 603.8 L162.7 602.2 L162.7 644.2Z" stroke="#222" stroke-width="1.2" fill="none" stroke-linejoin="round"/>
<path d="M208.4 643.8 L212.3 635.5 L245.8 603.8 L270.7 600.8 L270.7 643.8Z" stroke="#222" stroke-width="1.2" fill="none" stroke-linejoin="round"/>
<path d="M314.2 643.9 L317.7 635.8 L350 603.5 L374.7 601.2 L374.7 643.9Z" stroke="#222" stroke-width="1.2" fill="none" stroke-linejoin="round"/>
<path d="M418.2 645 L420.4 637.7 L458.1 602.2 L481 600.5 L481 645Z" stroke="#222" stroke-width="1.2" fill="none" stroke-linejoin="round"/>
<line x1="156.6" y1="722" x2="156.6" y2="861.9" stroke="#333" stroke-width="1.0" />
<line x1="156.6" y1="861.5" x2="251.7" y2="861.5" stroke="#666" stroke-width="0.9" />
<line x1="156.6" y1="861.5" x2="156.6" y2="859.7" stroke="#666" stroke-width="0.8" />
<text x="156.6" y="875.6" font-size="8.2" text-anchor="middle" fill="#000" style="font-family:'Liberation Serif',serif;font-weight:bold"  stroke="#000" stroke-width="0.3">0</text>
<line x1="170.4" y1="861.5" x2="170.4" y2="859.7" stroke="#666" stroke-width="0.8" />
<text x="170.4" y="875.6" font-size="8.2" text-anchor="middle" fill="#000" style="font-family:'Liberation Serif',serif;font-weight:bold"  stroke="#000" stroke-width="0.3">10</text>
<line x1="184.1" y1="861.5" x2="184.1" y2="859.7" stroke="#666" stroke-width="0.8" />
<text x="184.1" y="875.6" font-size="8.2" text-anchor="middle" fill="#000" style="font-family:'Liberation Serif',serif;font-weight:bold"  stroke="#000" stroke-width="0.3">20</text>
<line x1="197.9" y1="861.5" x2="197.9" y2="859.7" stroke="#666" stroke-width="0.8" />
<text x="197.9" y="875.6" font-size="8.2" text-anchor="middle" fill="#000" style="font-family:'Liberation Serif',serif;font-weight:bold"  stroke="#000" stroke-width="0.3">30</text>
<line x1="211.7" y1="861.5" x2="211.7" y2="859.7" stroke="#666" stroke-width="0.8" />
<text x="211.7" y="875.6" font-size="8.2" text-anchor="middle" fill="#000" style="font-family:'Liberation Serif',serif;font-weight:bold"  stroke="#000" stroke-width="0.3">40</text>
<line x1="225.4" y1="861.5" x2="225.4" y2="859.7" stroke="#666" stroke-width="0.8" />
<text x="225.4" y="875.6" font-size="8.2" text-anchor="middle" fill="#000" style="font-family:'Liberation Serif',serif;font-weight:bold"  stroke="#000" stroke-width="0.3">50</text>
<line x1="239.2" y1="861.5" x2="239.2" y2="859.7" stroke="#666" stroke-width="0.8" />
<text x="239.2" y="875.6" font-size="8.2" text-anchor="middle" fill="#000" style="font-family:'Liberation Serif',serif;font-weight:bold"  stroke="#000" stroke-width="0.3">60</text>
<line x1="253" y1="861.5" x2="253" y2="859.7" stroke="#666" stroke-width="0.8" />
<text x="253" y="875.6" font-size="8.2" text-anchor="middle" fill="#000" style="font-family:'Liberation Serif',serif;font-weight:bold"  stroke="#000" stroke-width="0.3">70</text>
<text x="152.2" y="731.9" font-size="8.25" text-anchor="end" fill="#000" style="font-family:'Liberation Serif',serif;font-weight:bold"  stroke="#000" stroke-width="0.3">LRDC/IFN-γ KO-cDC/CD4 T</text>
<rect x="157.1" y="726.2" width="25.5" height="4.3" fill="#000" />
<line x1="182.6" y1="728.4" x2="186.1" y2="728.4" stroke="#555" stroke-width="0.8" />
<line x1="186.1" y1="726.9" x2="186.1" y2="729.9" stroke="#555" stroke-width="0.8" />
<text x="152.2" y="743.3" font-size="8.25" text-anchor="end" fill="#000" style="font-family:'Liberation Serif',serif;font-weight:bold"  stroke="#000" stroke-width="0.3">IFN-γ KO-LRDC/cDC/CD4 T</text>
<rect x="157.1" y="738" width="25.5" height="4.3" fill="#000" />
<line x1="182.6" y1="740.1" x2="185.8" y2="740.1" stroke="#555" stroke-width="0.8" />
<line x1="185.8" y1="738.6" x2="185.8" y2="741.6" stroke="#555" stroke-width="0.8" />
<text x="152.2" y="766.8" font-size="8.25" text-anchor="end" fill="#000" style="font-family:'Liberation Serif',serif;font-weight:bold"  stroke="#000" stroke-width="0.3">IFN-γKO-LRDC/IFN-γKO-cDC/CD4 T</text>
<rect x="157.1" y="761.6" width="25" height="4.3" fill="#000" />
<line x1="182.1" y1="763.8" x2="185.5" y2="763.8" stroke="#555" stroke-width="0.8" />
<line x1="185.5" y1="762.3" x2="185.5" y2="765.3" stroke="#555" stroke-width="0.8" />
<text x="152.2" y="777.6" font-size="8.25" text-anchor="end" fill="#000" style="font-family:'Liberation Serif',serif;font-weight:bold"  stroke="#000" stroke-width="0.3">IFN-γ KO-LRDC/CD4 T</text>
<rect x="157.1" y="773.2" width="8.2" height="4.3" fill="#000" />
<line x1="165.3" y1="775.4" x2="168.2" y2="775.4" stroke="#555" stroke-width="0.8" />
<line x1="168.2" y1="773.9" x2="168.2" y2="776.9" stroke="#555" stroke-width="0.8" />
<text x="152.2" y="789.1" font-size="8.25" text-anchor="end" fill="#000" style="font-family:'Liberation Serif',serif;font-weight:bold"  stroke="#000" stroke-width="0.3">IFN-γ KO-cDC/CD4 T</text>
<rect x="157.1" y="785.1" width="73.3" height="4.3" fill="#000" />
<line x1="230.4" y1="787.2" x2="236.5" y2="787.2" stroke="#555" stroke-width="0.8" />
<line x1="236.5" y1="785.7" x2="236.5" y2="788.7" stroke="#555" stroke-width="0.8" />
<text x="152.2" y="812.7" font-size="8.25" text-anchor="end" fill="#000" style="font-family:'Liberation Serif',serif;font-weight:bold"  stroke="#000" stroke-width="0.3">LRDC/cDC/CD4 T</text>
<rect x="157.1" y="808.1" width="23.2" height="4.3" fill="#000" />
<line x1="180.3" y1="810.3" x2="184.1" y2="810.3" stroke="#555" stroke-width="0.8" />
<line x1="184.1" y1="808.8" x2="184.1" y2="811.8" stroke="#555" stroke-width="0.8" />
<text x="152.2" y="824.2" font-size="8.25" text-anchor="end" fill="#000" style="font-family:'Liberation Serif',serif;font-weight:bold"  stroke="#000" stroke-width="0.3">LRDC/CD4 T</text>
<rect x="157.1" y="819.4" width="8.3" height="4.3" fill="#000" />
<line x1="165.4" y1="821.5" x2="167.9" y2="821.5" stroke="#555" stroke-width="0.8" />
<line x1="167.9" y1="820" x2="167.9" y2="823" stroke="#555" stroke-width="0.8" />
<text x="152.2" y="836.2" font-size="8.25" text-anchor="end" fill="#000" style="font-family:'Liberation Serif',serif;font-weight:bold"  stroke="#000" stroke-width="0.3">cDC/CD4 T</text>
<rect x="157.1" y="831.4" width="75.2" height="4.3" fill="#000" />
<line x1="232.3" y1="833.5" x2="239.5" y2="833.5" stroke="#555" stroke-width="0.8" />
<line x1="239.5" y1="832" x2="239.5" y2="835" stroke="#555" stroke-width="0.8" />
<text x="152.2" y="860.3" font-size="8.25" text-anchor="end" fill="#000" style="font-family:'Liberation Serif',serif;font-weight:bold"  stroke="#000" stroke-width="0.3">CD4 T</text>
<rect x="157.1" y="854.6" width="4.6" height="4.3" fill="#000" />
<text x="191.1" y="731" font-size="7.8" text-anchor="middle" fill="#333" stroke="#333" stroke-width="0.45" stroke-linejoin="round" style="font-family:'DejaVu Sans',sans-serif">★</text>
<text x="198" y="731" font-size="7.8" text-anchor="middle" fill="#333" stroke="#333" stroke-width="0.45" stroke-linejoin="round" style="font-family:'DejaVu Sans',sans-serif">★</text>
<text x="204.9" y="731" font-size="7.8" text-anchor="middle" fill="#333" stroke="#333" stroke-width="0.45" stroke-linejoin="round" style="font-family:'DejaVu Sans',sans-serif">★</text>
<text x="191.1" y="742.8" font-size="7.8" text-anchor="middle" fill="#333" stroke="#333" stroke-width="0.45" stroke-linejoin="round" style="font-family:'DejaVu Sans',sans-serif">★</text>
<text x="198" y="742.8" font-size="7.8" text-anchor="middle" fill="#333" stroke="#333" stroke-width="0.45" stroke-linejoin="round" style="font-family:'DejaVu Sans',sans-serif">★</text>
<text x="204.9" y="742.8" font-size="7.8" text-anchor="middle" fill="#333" stroke="#333" stroke-width="0.45" stroke-linejoin="round" style="font-family:'DejaVu Sans',sans-serif">★</text>
<text x="191.1" y="766.8" font-size="7.8" text-anchor="middle" fill="#333" stroke="#333" stroke-width="0.45" stroke-linejoin="round" style="font-family:'DejaVu Sans',sans-serif">★</text>
<text x="198" y="766.8" font-size="7.8" text-anchor="middle" fill="#333" stroke="#333" stroke-width="0.45" stroke-linejoin="round" style="font-family:'DejaVu Sans',sans-serif">★</text>
<text x="204.9" y="766.8" font-size="7.8" text-anchor="middle" fill="#333" stroke="#333" stroke-width="0.45" stroke-linejoin="round" style="font-family:'DejaVu Sans',sans-serif">★</text>
<path d="M210.4 727H253.1V813H189.8" stroke="#555" stroke-width="1.0" fill="none" />
<path d="M210.4 739.2H247.2V810.6H189.8" stroke="#555" stroke-width="1.0" fill="none" />
<path d="M210.4 763.5H241V808.2H189.8" stroke="#555" stroke-width="1.0" fill="none" />
<text x="202.4" y="888" font-size="10" text-anchor="middle" fill="#000" style="font-family:'Liberation Serif',serif;font-weight:bold"  stroke="#000" stroke-width="0.3">OVA-specific CD4 T cells ( ×10<tspan font-size="8" dy="-3.8">4</tspan><tspan dy="3.8"> )</tspan></text>
<line x1="416.2" y1="722" x2="416.2" y2="863.5" stroke="#333" stroke-width="1.0" />
<line x1="416.2" y1="863.1" x2="510.8" y2="863.1" stroke="#666" stroke-width="0.9" />
<line x1="416.2" y1="863.1" x2="416.2" y2="861.3" stroke="#666" stroke-width="0.8" />
<text x="416.2" y="875.6" font-size="8.2" text-anchor="middle" fill="#000" style="font-family:'Liberation Serif',serif;font-weight:bold"  stroke="#000" stroke-width="0.3">0</text>
<line x1="434.7" y1="863.1" x2="434.7" y2="861.3" stroke="#666" stroke-width="0.8" />
<text x="434.7" y="875.6" font-size="8.2" text-anchor="middle" fill="#000" style="font-family:'Liberation Serif',serif;font-weight:bold"  stroke="#000" stroke-width="0.3">500</text>
<line x1="453.2" y1="863.1" x2="453.2" y2="861.3" stroke="#666" stroke-width="0.8" />
<text x="453.2" y="875.6" font-size="8.2" text-anchor="middle" fill="#000" style="font-family:'Liberation Serif',serif;font-weight:bold"  stroke="#000" stroke-width="0.3">1000</text>
<line x1="471.7" y1="863.1" x2="471.7" y2="861.3" stroke="#666" stroke-width="0.8" />
<text x="471.7" y="875.6" font-size="8.2" text-anchor="middle" fill="#000" style="font-family:'Liberation Serif',serif;font-weight:bold"  stroke="#000" stroke-width="0.3">1500</text>
<line x1="490.2" y1="863.1" x2="490.2" y2="861.3" stroke="#666" stroke-width="0.8" />
<text x="490.2" y="875.6" font-size="8.2" text-anchor="middle" fill="#000" style="font-family:'Liberation Serif',serif;font-weight:bold"  stroke="#000" stroke-width="0.3">2000</text>
<line x1="508.7" y1="863.1" x2="508.7" y2="861.3" stroke="#666" stroke-width="0.8" />
<text x="508.7" y="875.6" font-size="8.2" text-anchor="middle" fill="#000" style="font-family:'Liberation Serif',serif;font-weight:bold"  stroke="#000" stroke-width="0.3">2500</text>
<text x="412" y="734.2" font-size="8.25" text-anchor="end" fill="#000" style="font-family:'Liberation Serif',serif;font-weight:bold"  stroke="#000" stroke-width="0.3">LRDC/IFN-γ KO-cDC/CD4 T</text>
<rect x="416.7" y="727.4" width="73.7" height="4.3" fill="#000" />
<line x1="490.4" y1="729.5" x2="505.8" y2="729.5" stroke="#555" stroke-width="0.8" />
<line x1="505.8" y1="728" x2="505.8" y2="731" stroke="#555" stroke-width="0.8" />
<text x="412" y="745.5" font-size="8.25" text-anchor="end" fill="#000" style="font-family:'Liberation Serif',serif;font-weight:bold"  stroke="#000" stroke-width="0.3">IFN-γ KO-LRDC/cDC/CD4 T</text>
<rect x="416.7" y="739.5" width="69.5" height="4.3" fill="#000" />
<line x1="486.2" y1="741.6" x2="502.9" y2="741.6" stroke="#555" stroke-width="0.8" />
<line x1="502.9" y1="740.1" x2="502.9" y2="743.1" stroke="#555" stroke-width="0.8" />
<text x="412" y="768.8" font-size="8.25" text-anchor="end" fill="#000" style="font-family:'Liberation Serif',serif;font-weight:bold"  stroke="#000" stroke-width="0.3">IFN-γKO-LRDC/IFN-γKO-cDC/CD4 T</text>
<rect x="416.7" y="762.9" width="66.6" height="4.3" fill="#000" />
<line x1="483.3" y1="765" x2="494.8" y2="765" stroke="#555" stroke-width="0.8" />
<line x1="494.8" y1="763.5" x2="494.8" y2="766.5" stroke="#555" stroke-width="0.8" />
<text x="412" y="780.2" font-size="8.25" text-anchor="end" fill="#000" style="font-family:'Liberation Serif',serif;font-weight:bold"  stroke="#000" stroke-width="0.3">IFN-γ KO-LRDC/CD4 T</text>
<rect x="416.7" y="774.4" width="21.8" height="4.3" fill="#000" />
<line x1="438.5" y1="776.5" x2="442.7" y2="776.5" stroke="#555" stroke-width="0.8" />
<line x1="442.7" y1="775" x2="442.7" y2="778" stroke="#555" stroke-width="0.8" />
<text x="412" y="791.5" font-size="8.25" text-anchor="end" fill="#000" style="font-family:'Liberation Serif',serif;font-weight:bold"  stroke="#000" stroke-width="0.3">IFN-γ KO-cDC/CD4 T</text>
<rect x="416.7" y="785.9" width="41.5" height="4.3" fill="#000" />
<line x1="458.2" y1="788" x2="469.4" y2="788" stroke="#555" stroke-width="0.8" />
<line x1="469.4" y1="786.5" x2="469.4" y2="789.5" stroke="#555" stroke-width="0.8" />
<text x="412" y="814.2" font-size="8.25" text-anchor="end" fill="#000" style="font-family:'Liberation Serif',serif;font-weight:bold"  stroke="#000" stroke-width="0.3">LRDC/cDC/CD4 T</text>
<rect x="416.7" y="808.9" width="68" height="4.3" fill="#000" />
<line x1="484.7" y1="811" x2="501.5" y2="811" stroke="#555" stroke-width="0.8" />
<line x1="501.5" y1="809.5" x2="501.5" y2="812.5" stroke="#555" stroke-width="0.8" />
<text x="412" y="826" font-size="8.25" text-anchor="end" fill="#000" style="font-family:'Liberation Serif',serif;font-weight:bold"  stroke="#000" stroke-width="0.3">LRDC/CD4 T</text>
<rect x="416.7" y="820.9" width="24.3" height="4.3" fill="#000" />
<line x1="441" y1="823" x2="445.7" y2="823" stroke="#555" stroke-width="0.8" />
<line x1="445.7" y1="821.5" x2="445.7" y2="824.5" stroke="#555" stroke-width="0.8" />
<text x="412" y="837.8" font-size="8.25" text-anchor="end" fill="#000" style="font-family:'Liberation Serif',serif;font-weight:bold"  stroke="#000" stroke-width="0.3">cDC/CD4 T</text>
<rect x="416.7" y="832.6" width="38" height="4.3" fill="#000" />
<line x1="454.7" y1="834.8" x2="466.5" y2="834.8" stroke="#555" stroke-width="0.8" />
<line x1="466.5" y1="833.3" x2="466.5" y2="836.3" stroke="#555" stroke-width="0.8" />
<text x="412" y="860.5" font-size="8.25" text-anchor="end" fill="#000" style="font-family:'Liberation Serif',serif;font-weight:bold"  stroke="#000" stroke-width="0.3">CD4 T</text>
<path d="M417.2 854.5Q418.6 856.3 417.2 858.3" stroke="#000" stroke-width="0.9" fill="none" />
<text x="498.6" y="737.8" font-size="7.8" text-anchor="middle" fill="#333" stroke="#333" stroke-width="0.45" stroke-linejoin="round" style="font-family:'DejaVu Sans',sans-serif">★</text>
<text x="505.5" y="737.8" font-size="7.8" text-anchor="middle" fill="#333" stroke="#333" stroke-width="0.45" stroke-linejoin="round" style="font-family:'DejaVu Sans',sans-serif">★</text>
<text x="512.4" y="737.8" font-size="7.8" text-anchor="middle" fill="#333" stroke="#333" stroke-width="0.45" stroke-linejoin="round" style="font-family:'DejaVu Sans',sans-serif">★</text>
<text x="492.9" y="750.7" font-size="7.8" text-anchor="middle" fill="#333" stroke="#333" stroke-width="0.45" stroke-linejoin="round" style="font-family:'DejaVu Sans',sans-serif">★</text>
<text x="499.8" y="750.7" font-size="7.8" text-anchor="middle" fill="#333" stroke="#333" stroke-width="0.45" stroke-linejoin="round" style="font-family:'DejaVu Sans',sans-serif">★</text>
<text x="506.7" y="750.7" font-size="7.8" text-anchor="middle" fill="#333" stroke="#333" stroke-width="0.45" stroke-linejoin="round" style="font-family:'DejaVu Sans',sans-serif">★</text>
<text x="488.8" y="773.6" font-size="7.8" text-anchor="middle" fill="#333" stroke="#333" stroke-width="0.45" stroke-linejoin="round" style="font-family:'DejaVu Sans',sans-serif">★</text>
<text x="495.7" y="773.6" font-size="7.8" text-anchor="middle" fill="#333" stroke="#333" stroke-width="0.45" stroke-linejoin="round" style="font-family:'DejaVu Sans',sans-serif">★</text>
<text x="502.6" y="773.6" font-size="7.8" text-anchor="middle" fill="#333" stroke="#333" stroke-width="0.45" stroke-linejoin="round" style="font-family:'DejaVu Sans',sans-serif">★</text>
<path d="M512.5 728.7H517V812.9H504.4" stroke="#666" stroke-width="1.0" fill="none" />
<path d="M507.3 741.3H513.3V810.6H504.4" stroke="#666" stroke-width="1.0" fill="none" />
<path d="M503.8 765.6H507.3V808.3H504.4" stroke="#666" stroke-width="1.0" fill="none" />
<text x="465.8" y="886.9" font-size="10" text-anchor="middle" fill="#000" style="font-family:'Liberation Serif',serif;font-weight:bold"  stroke="#000" stroke-width="0.3">IFN-γ (pg/ml)</text></svg></body></html>
